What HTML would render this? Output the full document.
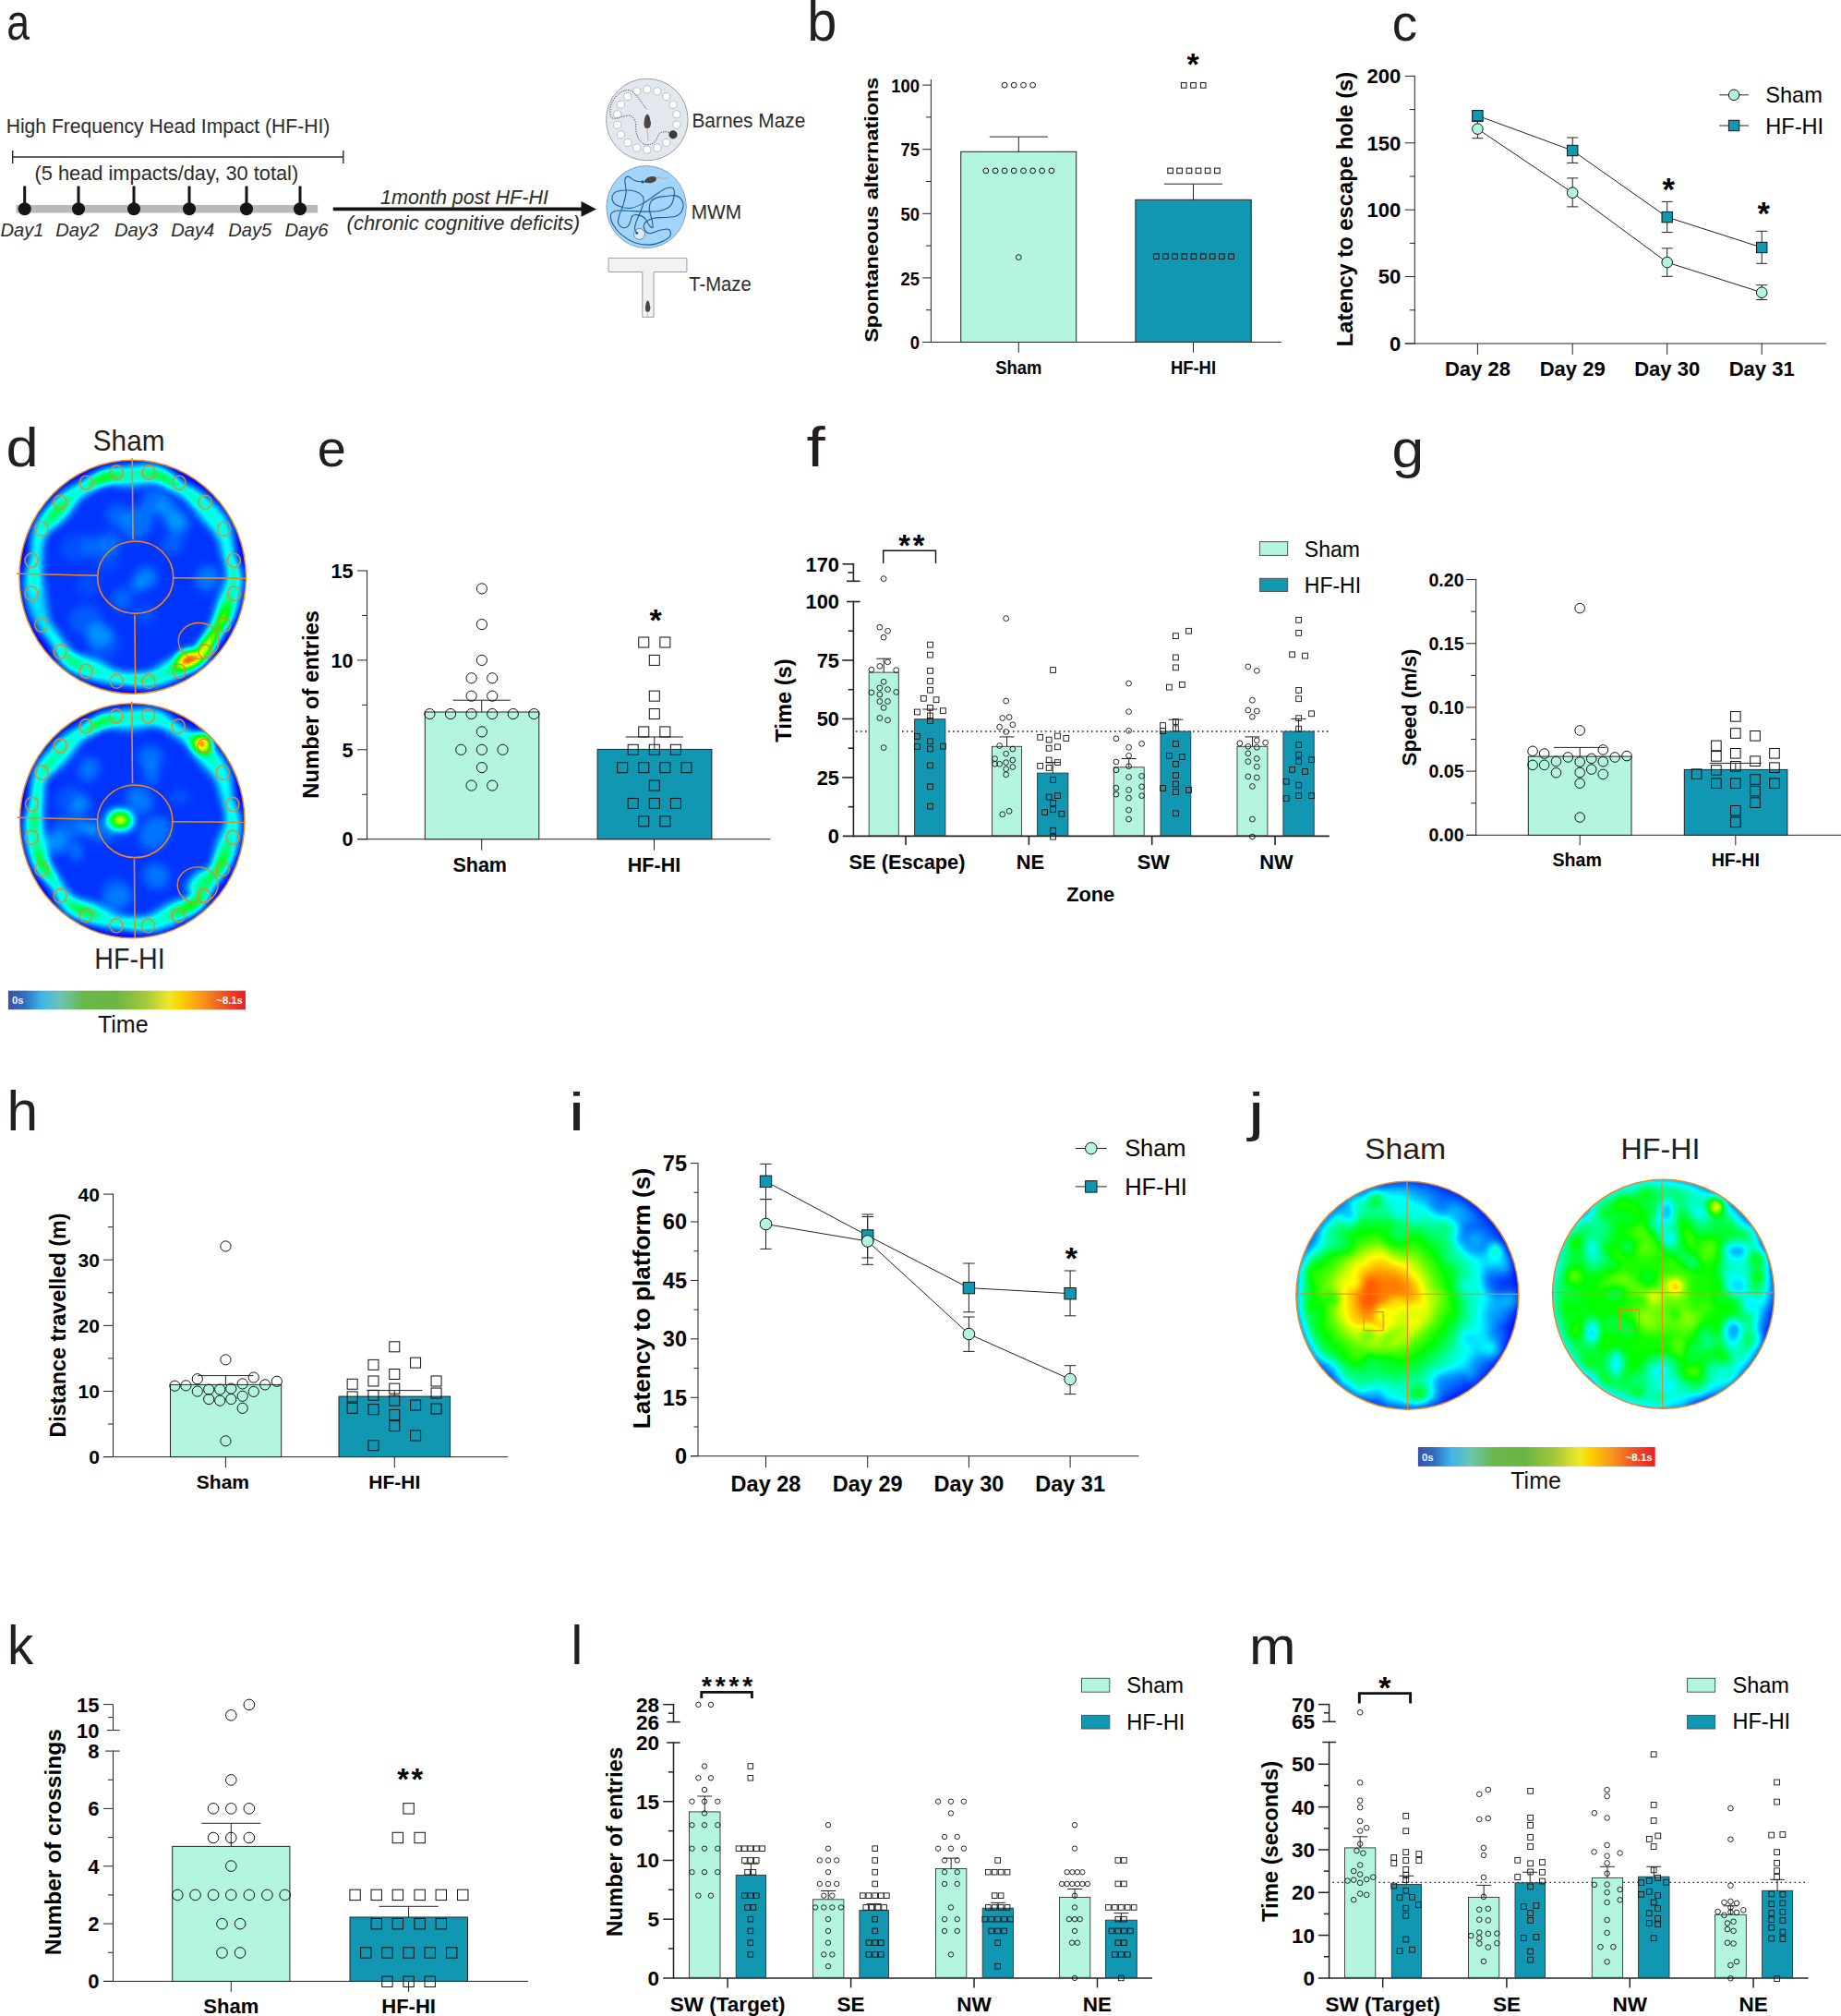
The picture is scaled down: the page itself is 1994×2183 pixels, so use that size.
<!DOCTYPE html>
<html><head><meta charset="utf-8"><title>Figure</title>
<style>html,body{margin:0;padding:0;background:#fff}svg{display:block}text{font-family:"Liberation Sans",sans-serif}</style>
</head><body>
<svg width="1994" height="2183" viewBox="0 0 1994 2183">
<rect width="1994" height="2183" fill="#fff"/>
<defs>
<filter id="jet5" x="-5%" y="-5%" width="110%" height="110%" color-interpolation-filters="sRGB">
<feGaussianBlur stdDeviation="5"/>
<feComponentTransfer><feFuncR type="table" tableValues="0 0 0 1 1"/><feFuncG type="table" tableValues="0 1 1 1 0"/><feFuncB type="table" tableValues="1 1 0 0 0"/></feComponentTransfer>
</filter>
<filter id="jet6" x="-5%" y="-5%" width="110%" height="110%" color-interpolation-filters="sRGB">
<feGaussianBlur stdDeviation="6"/>
<feComponentTransfer><feFuncR type="table" tableValues="0 0 0 1 1"/><feFuncG type="table" tableValues="0 1 1 1 0"/><feFuncB type="table" tableValues="1 1 0 0 0"/></feComponentTransfer>
</filter>
<radialGradient id="radS" gradientUnits="objectBoundingBox"><stop offset="0" stop-color="#fff" stop-opacity="0.88"/><stop offset="0.16" stop-color="#fff" stop-opacity="0.87"/><stop offset="0.23" stop-color="#fff" stop-opacity="0.8"/><stop offset="0.31" stop-color="#fff" stop-opacity="0.72"/><stop offset="0.4" stop-color="#fff" stop-opacity="0.58"/><stop offset="0.52" stop-color="#fff" stop-opacity="0.47"/><stop offset="0.64" stop-color="#fff" stop-opacity="0.33"/><stop offset="0.77" stop-color="#fff" stop-opacity="0.22"/><stop offset="1" stop-color="#fff" stop-opacity="0.05"/></radialGradient>
<radialGradient id="radH"><stop offset="0" stop-color="#fff" stop-opacity="0.55"/><stop offset="0.6" stop-color="#fff" stop-opacity="0.5"/><stop offset="0.85" stop-color="#fff" stop-opacity="0.42"/><stop offset="1" stop-color="#fff" stop-opacity="0.1"/></radialGradient>
<linearGradient id="cbar" x1="0" x2="1" y1="0" y2="0">
<stop offset="0" stop-color="#3a53a4"/><stop offset="0.07" stop-color="#2f6ec2"/><stop offset="0.14" stop-color="#3fb5e8"/><stop offset="0.22" stop-color="#6cc5b0"/><stop offset="0.32" stop-color="#6ab84a"/><stop offset="0.45" stop-color="#6ab545"/><stop offset="0.58" stop-color="#a6c939"/><stop offset="0.68" stop-color="#f0e82a"/><stop offset="0.72" stop-color="#ffd400"/><stop offset="0.82" stop-color="#f7941d"/><stop offset="0.92" stop-color="#ee4a25"/><stop offset="1" stop-color="#ed1c24"/>
</linearGradient>
</defs>
<g id="panel_a">
<text transform="translate(7.21 43.34) scale(0.4466 0.5564)" font-size="100" fill="#231f20">a</text>
<text x="6.7" y="144.4" font-size="22" font-weight="normal" text-anchor="start" fill="#2b2b2b" textLength="350.6" lengthAdjust="spacingAndGlyphs">High Frequency Head Impact (HF-HI)</text>
<line x1="13.7" y1="170" x2="371.8" y2="170" stroke="#2b2b2b" stroke-width="1.4" />
<line x1="13.7" y1="163" x2="13.7" y2="177" stroke="#2b2b2b" stroke-width="1.4" />
<line x1="371.8" y1="163" x2="371.8" y2="177" stroke="#2b2b2b" stroke-width="1.4" />
<text x="37.5" y="194.5" font-size="22" font-weight="normal" text-anchor="start" fill="#2b2b2b" textLength="285.7" lengthAdjust="spacingAndGlyphs">(5 head impacts/day, 30 total)</text>
<rect x="17.5" y="222" width="326.7" height="8.5" fill="#b9b9b9" stroke="none" stroke-width="1"/>
<line x1="26.7" y1="201.5" x2="26.7" y2="226" stroke="#151515" stroke-width="3" />
<circle cx="26.7" cy="226.3" r="7" fill="#151515" stroke="none" stroke-width="1"/>
<line x1="85" y1="201.5" x2="85" y2="226" stroke="#151515" stroke-width="3" />
<circle cx="85" cy="226.3" r="7" fill="#151515" stroke="none" stroke-width="1"/>
<line x1="145" y1="201.5" x2="145" y2="226" stroke="#151515" stroke-width="3" />
<circle cx="145" cy="226.3" r="7" fill="#151515" stroke="none" stroke-width="1"/>
<line x1="205" y1="201.5" x2="205" y2="226" stroke="#151515" stroke-width="3" />
<circle cx="205" cy="226.3" r="7" fill="#151515" stroke="none" stroke-width="1"/>
<line x1="267" y1="201.5" x2="267" y2="226" stroke="#151515" stroke-width="3" />
<circle cx="267" cy="226.3" r="7" fill="#151515" stroke="none" stroke-width="1"/>
<line x1="325" y1="201.5" x2="325" y2="226" stroke="#151515" stroke-width="3" />
<circle cx="325" cy="226.3" r="7" fill="#151515" stroke="none" stroke-width="1"/>
<text x="0.5" y="256.2" font-size="21" font-weight="normal" text-anchor="start" fill="#2b2b2b" font-style="italic" textLength="47" lengthAdjust="spacingAndGlyphs">Day1</text>
<text x="60.2" y="256.2" font-size="21" font-weight="normal" text-anchor="start" fill="#2b2b2b" font-style="italic" textLength="47" lengthAdjust="spacingAndGlyphs">Day2</text>
<text x="124" y="256.2" font-size="21" font-weight="normal" text-anchor="start" fill="#2b2b2b" font-style="italic" textLength="47" lengthAdjust="spacingAndGlyphs">Day3</text>
<text x="185.2" y="256.2" font-size="21" font-weight="normal" text-anchor="start" fill="#2b2b2b" font-style="italic" textLength="47" lengthAdjust="spacingAndGlyphs">Day4</text>
<text x="247.2" y="256.2" font-size="21" font-weight="normal" text-anchor="start" fill="#2b2b2b" font-style="italic" textLength="47" lengthAdjust="spacingAndGlyphs">Day5</text>
<text x="308.5" y="256.2" font-size="21" font-weight="normal" text-anchor="start" fill="#2b2b2b" font-style="italic" textLength="47" lengthAdjust="spacingAndGlyphs">Day6</text>
<line x1="360.7" y1="226.4" x2="632" y2="226.4" stroke="#151515" stroke-width="3.8" />
<polygon points="629.5,218 646,226.4 629.5,234.8" fill="#151515"/>
<text x="412" y="220.6" font-size="22" font-weight="normal" text-anchor="start" fill="#2b2b2b" font-style="italic" textLength="182" lengthAdjust="spacingAndGlyphs">1month post HF-HI</text>
<text x="375.6" y="248.6" font-size="22" font-weight="normal" text-anchor="start" fill="#2b2b2b" font-style="italic" textLength="252.6" lengthAdjust="spacingAndGlyphs">(chronic cognitive deficits)</text>
<text x="749.4" y="138.3" font-size="22" font-weight="normal" text-anchor="start" fill="#2b2b2b" textLength="123" lengthAdjust="spacingAndGlyphs">Barnes Maze</text>
<text x="748.8" y="236.9" font-size="22" font-weight="normal" text-anchor="start" fill="#2b2b2b" textLength="54.2" lengthAdjust="spacingAndGlyphs">MWM</text>
<text x="746.2" y="315" font-size="22" font-weight="normal" text-anchor="start" fill="#2b2b2b" textLength="67.5" lengthAdjust="spacingAndGlyphs">T-Maze</text>
<circle cx="700.8" cy="129.5" r="44.3" fill="#e3e7ee" stroke="#9a9ea6" stroke-width="1"/>
<circle cx="700.8" cy="96.9" r="4.1" fill="#fff" stroke="#b5b9c0" stroke-width="0.9"/>
<circle cx="711.95" cy="98.87" r="4.1" fill="#fff" stroke="#b5b9c0" stroke-width="0.9"/>
<circle cx="721.75" cy="104.53" r="4.1" fill="#fff" stroke="#b5b9c0" stroke-width="0.9"/>
<circle cx="729.03" cy="113.2" r="4.1" fill="#fff" stroke="#b5b9c0" stroke-width="0.9"/>
<circle cx="732.9" cy="123.84" r="4.1" fill="#fff" stroke="#b5b9c0" stroke-width="0.9"/>
<circle cx="732.9" cy="135.16" r="4.1" fill="#fff" stroke="#b5b9c0" stroke-width="0.9"/>
<circle cx="729.03" cy="145.8" r="4.3" fill="#3a3a3a" stroke="#333" stroke-width="0.5"/>
<circle cx="721.75" cy="154.47" r="4.1" fill="#fff" stroke="#b5b9c0" stroke-width="0.9"/>
<circle cx="711.95" cy="160.13" r="4.1" fill="#fff" stroke="#b5b9c0" stroke-width="0.9"/>
<circle cx="700.8" cy="162.1" r="4.1" fill="#fff" stroke="#b5b9c0" stroke-width="0.9"/>
<circle cx="689.65" cy="160.13" r="4.1" fill="#fff" stroke="#b5b9c0" stroke-width="0.9"/>
<circle cx="679.85" cy="154.47" r="4.1" fill="#fff" stroke="#b5b9c0" stroke-width="0.9"/>
<circle cx="672.57" cy="145.8" r="4.1" fill="#fff" stroke="#b5b9c0" stroke-width="0.9"/>
<circle cx="668.7" cy="135.16" r="4.1" fill="#fff" stroke="#b5b9c0" stroke-width="0.9"/>
<circle cx="668.7" cy="123.84" r="4.1" fill="#fff" stroke="#b5b9c0" stroke-width="0.9"/>
<circle cx="672.57" cy="113.2" r="4.1" fill="#fff" stroke="#b5b9c0" stroke-width="0.9"/>
<circle cx="679.85" cy="104.53" r="4.1" fill="#fff" stroke="#b5b9c0" stroke-width="0.9"/>
<circle cx="689.65" cy="98.87" r="4.1" fill="#fff" stroke="#b5b9c0" stroke-width="0.9"/>
<path d="M700.43,118.2 C699.59,117.12 697.19,114.12 695.4,111.73 C693.6,109.33 691.68,106.09 689.64,103.81 C687.6,101.53 685.68,98.9 683.17,98.06 C680.65,97.22 677.41,97.46 674.53,98.78 C671.65,100.1 668.11,103.09 665.9,105.97 C663.69,108.85 662.01,112.69 661.29,116.04 C660.58,119.4 660.7,124.08 661.58,126.12 C662.47,128.15 664.46,128.27 666.62,128.27 C668.78,128.27 671.77,126.59 674.53,126.12 C677.29,125.64 680.89,124.44 683.17,125.4 C685.44,126.35 687.24,129.11 688.2,131.87 C689.16,134.63 688.32,138.82 688.92,141.94 C689.52,145.06 690.36,148.23 691.8,150.58 C693.24,152.93 695.4,155.08 697.55,156.04 C699.71,157 702.59,157 704.75,156.33 C706.91,155.66 708.94,153.93 710.5,152.01 C712.06,150.1 712.54,146.38 714.1,144.82 C715.66,143.26 717.94,142.85 719.86,142.66 C721.77,142.47 724.65,143.5 725.61,143.67" fill="none" stroke="#3d3d3d" stroke-width="0.9" stroke-dasharray="1.3 1.3"/>
<path d="M701.15,123.38 c2.2,1.5 3,4 3,6.5 c1.2,2.5 1.2,5.5 -0.4,8 c-1.5,1.5 -4,1.5 -5.4,0 c-1.2,-3 -1,-6 -0.2,-9 c0.3,-2.5 1.2,-4.5 3,-5.5 z" fill="#4d4542"/>
<path d="M701.15,139.58 c-1.2,4 1.8,7 0.6,13" fill="none" stroke="#c4958c" stroke-width="0.8"/>
<ellipse cx="700.1" cy="224.1" rx="43.2" ry="44.5" fill="#a3d5fb" stroke="#7ea2c4" stroke-width="1"/>
<circle cx="692.52" cy="253.45" r="6" fill="#dbe9f5" stroke="#6a89a8" stroke-width="1"/>
<path d="M696.12,196.91 C694.68,196.67 690.12,196.43 687.48,195.47 C684.84,194.51 682.06,191.2 680.29,191.15 C678.51,191.1 677.19,192.35 676.83,195.18 C676.47,198.01 678.47,203.57 678.13,208.13 C677.79,212.69 676.02,218.44 674.82,222.52 C673.62,226.59 671.82,229.47 670.94,232.59 C670.05,235.71 668.94,238.92 669.5,241.22 C670.05,243.53 672.45,245.8 674.24,246.4 C676.04,247 678.8,246.16 680.29,244.82 C681.77,243.48 682.4,240.14 683.17,238.35 C683.93,236.55 683.81,234.99 684.89,234.03 C685.97,233.07 687.53,232.35 689.64,232.59 C691.75,232.83 695.28,233.55 697.55,235.47 C699.83,237.39 701.75,242.28 703.31,244.1 C704.87,245.92 706.43,247.36 706.91,246.4 C707.39,245.44 706.79,241.61 706.19,238.35 C705.59,235.08 703.5,230.19 703.31,226.83 C703.12,223.48 703.6,220.36 705.04,218.2 C706.47,216.04 709.11,214.84 711.94,213.88 C714.77,212.93 718.66,212.78 722.01,212.45 C725.37,212.11 729.21,210.91 732.09,211.87 C734.96,212.83 738.2,215.47 739.28,218.2 C740.36,220.94 739.76,225.64 738.56,228.27 C737.36,230.91 735.08,232.83 732.09,234.03 C729.09,235.23 724.65,235.11 720.58,235.47 C716.5,235.83 711.18,235.35 707.63,236.19 C704.08,237.03 700.96,238.71 699.28,240.5 C697.6,242.3 696.88,244.94 697.55,246.98 C698.23,249.02 700.43,252.35 703.31,252.73 C706.19,253.12 711.27,250 714.82,249.28 C718.37,248.56 722.78,247.36 724.6,248.42 C726.43,249.47 726.91,253.45 725.76,255.61 C724.6,257.77 721.44,259.78 717.7,261.37 C713.96,262.95 708.35,264.87 703.31,265.11 C698.27,265.35 692.52,264.63 687.48,262.81 C682.45,260.98 677.05,257.53 673.09,254.17 C669.14,250.82 665.66,246.26 663.74,242.66 C661.82,239.06 660.98,234.99 661.58,232.59 C662.18,230.19 664.22,228.99 667.34,228.27 C670.46,227.55 675.25,228.13 680.29,228.27 C685.32,228.42 691.8,229.14 697.55,229.14 C703.31,229.14 710.02,229.38 714.82,228.27 C719.62,227.17 723.79,225.16 726.33,222.52 C728.87,219.88 729.59,215.52 730.07,212.45 C730.55,209.38 730.55,205.54 729.21,204.1 C727.87,202.66 724.89,202.9 722.01,203.81 C719.14,204.72 716.02,206.93 711.94,209.57 C707.87,212.21 702.35,217 697.55,219.64 C692.76,222.28 687.96,224.92 683.17,225.4 C678.37,225.88 672.13,224.2 668.78,222.52 C665.42,220.84 663.38,217.72 663.02,215.32 C662.66,212.93 664.22,209.69 666.62,208.13 C669.02,206.57 673.69,206.09 677.41,205.97 C681.13,205.85 685.8,206.33 688.92,207.41 C692.04,208.49 694.77,210.41 696.12,212.45 C697.46,214.48 697.41,216.76 696.98,219.64 C696.55,222.52 694.82,226.35 693.53,229.71 C692.23,233.07 690.22,236.86 689.21,239.78 C688.2,242.71 687.39,245.16 687.48,247.27 C687.58,249.38 689.4,251.58 689.78,252.45" fill="none" stroke="#1d5d96" stroke-width="1.1"/>
<circle cx="696.12" cy="196.91" r="1.6" fill="#1a4f86" stroke="none" stroke-width="1"/>
<circle cx="689.78" cy="252.45" r="1.4" fill="#1a4f86" stroke="none" stroke-width="1"/>
<ellipse cx="705.04" cy="194.6" rx="6.2" ry="3.4" fill="#4d4542" transform="rotate(-12 705.04 194.6)"/>
<circle cx="699.84" cy="196.2" r="1.8" fill="#4d4542"/>
<path d="M710.54,192.8 c3,-2.5 6,1.2 9,0.6 c2,-0.4 3,-1.2 4.5,-2.2" fill="none" stroke="#c4958c" stroke-width="0.8"/>
<path d="M659.1,279.4 H743.9 V294.5 H708.1 V343.3 H695.8 V294.5 H659.1 Z" fill="#f1f2f4" stroke="#9a9da2" stroke-width="1"/>
<path d="M701.58,325.36 c1.6,1.2 2.2,3.2 2.2,5.2 c0.9,2.2 0.9,4.4 -0.3,6.4 c-1.1,1.2 -2.9,1.2 -3.9,0 c-0.9,-2.4 -0.7,-4.8 -0.1,-7.2 c0.2,-2 0.9,-3.6 2.1,-4.4 z" fill="#4d4542"/>
<path d="M701.58,338.66 c-0.6,2 0.6,3.2 -0.2,5" fill="none" stroke="#c4958c" stroke-width="0.7"/>
</g>
<g id="panel_b">
<text transform="translate(874.14 44.39) scale(0.5778 0.6054)" font-size="100" fill="#231f20">b</text>
<line x1="1008.4" y1="86" x2="1008.4" y2="371" stroke="#222" stroke-width="1" />
<line x1="999.2" y1="370.5" x2="1008.4" y2="370.5" stroke="#222" stroke-width="1" />
<text transform="translate(995.9 378.1) scale(0.875 1)" font-size="21" font-weight="bold" text-anchor="end" fill="#000">0</text>
<line x1="999.2" y1="300.9" x2="1008.4" y2="300.9" stroke="#222" stroke-width="1" />
<text transform="translate(995.9 308.5) scale(0.875 1)" font-size="21" font-weight="bold" text-anchor="end" fill="#000">25</text>
<line x1="999.2" y1="231.3" x2="1008.4" y2="231.3" stroke="#222" stroke-width="1" />
<text transform="translate(995.9 238.9) scale(0.875 1)" font-size="21" font-weight="bold" text-anchor="end" fill="#000">50</text>
<line x1="999.2" y1="161.7" x2="1008.4" y2="161.7" stroke="#222" stroke-width="1" />
<text transform="translate(995.9 169.3) scale(0.875 1)" font-size="21" font-weight="bold" text-anchor="end" fill="#000">75</text>
<line x1="999.2" y1="92.1" x2="1008.4" y2="92.1" stroke="#222" stroke-width="1" />
<text transform="translate(995.9 99.7) scale(0.875 1)" font-size="21" font-weight="bold" text-anchor="end" fill="#000">100</text>
<line x1="1003" y1="335.7" x2="1008.4" y2="335.7" stroke="#222" stroke-width="1" />
<line x1="1003" y1="266.1" x2="1008.4" y2="266.1" stroke="#222" stroke-width="1" />
<line x1="1003" y1="196.5" x2="1008.4" y2="196.5" stroke="#222" stroke-width="1" />
<line x1="1003" y1="126.9" x2="1008.4" y2="126.9" stroke="#222" stroke-width="1" />
<line x1="999.2" y1="370.5" x2="1387.8" y2="370.5" stroke="#222" stroke-width="1" />
<rect x="1040.7" y="164.3" width="125" height="206.2" fill="#b3f5e0" stroke="#222" stroke-width="1"/>
<rect x="1229.9" y="216.3" width="125.3" height="154.2" fill="#1197b2" stroke="#222" stroke-width="1"/>
<line x1="1103.3" y1="148.1" x2="1103.3" y2="164.3" stroke="#222" stroke-width="1" />
<line x1="1071.8" y1="148.1" x2="1134.8" y2="148.1" stroke="#222" stroke-width="1" />
<line x1="1292.5" y1="199.2" x2="1292.5" y2="216.3" stroke="#222" stroke-width="1" />
<line x1="1261" y1="199.2" x2="1324" y2="199.2" stroke="#222" stroke-width="1" />
<line x1="1103.3" y1="370.5" x2="1103.3" y2="381.8" stroke="#222" stroke-width="1" />
<text transform="translate(1103.3 404.6) scale(0.875 1)" font-size="21" font-weight="bold" text-anchor="middle" fill="#000">Sham</text>
<line x1="1292.5" y1="370.5" x2="1292.5" y2="381.8" stroke="#222" stroke-width="1" />
<text transform="translate(1292.5 404.6) scale(0.875 1)" font-size="21" font-weight="bold" text-anchor="middle" fill="#000">HF-HI</text>
<text transform="translate(951 227.2) scale(0.875 1) rotate(-90)" font-size="23.4" font-weight="bold" text-anchor="middle" fill="#000">Spontaneous alternations</text>
<text x="1292" y="80.5" font-size="34" font-weight="bold" text-anchor="middle" fill="#000" >*</text>
<circle cx="1088.1" cy="92.2" r="2.9" fill="none" stroke="#111" stroke-width="1"/>
<circle cx="1098.2" cy="92.2" r="2.9" fill="none" stroke="#111" stroke-width="1"/>
<circle cx="1108.5" cy="92.2" r="2.9" fill="none" stroke="#111" stroke-width="1"/>
<circle cx="1118.6" cy="92.2" r="2.9" fill="none" stroke="#111" stroke-width="1"/>
<circle cx="1067.8" cy="184.9" r="2.9" fill="none" stroke="#111" stroke-width="1"/>
<circle cx="1078.1" cy="184.9" r="2.9" fill="none" stroke="#111" stroke-width="1"/>
<circle cx="1088.1" cy="184.9" r="2.9" fill="none" stroke="#111" stroke-width="1"/>
<circle cx="1098.2" cy="184.9" r="2.9" fill="none" stroke="#111" stroke-width="1"/>
<circle cx="1108.5" cy="184.9" r="2.9" fill="none" stroke="#111" stroke-width="1"/>
<circle cx="1118.6" cy="184.9" r="2.9" fill="none" stroke="#111" stroke-width="1"/>
<circle cx="1128.6" cy="184.9" r="2.9" fill="none" stroke="#111" stroke-width="1"/>
<circle cx="1138.9" cy="184.9" r="2.9" fill="none" stroke="#111" stroke-width="1"/>
<circle cx="1103.3" cy="278.6" r="2.9" fill="none" stroke="#111" stroke-width="1"/>
<rect x="1279.4" y="89.6" width="5.6" height="5.6" fill="none" stroke="#111" stroke-width="1"/>
<rect x="1289.7" y="89.6" width="5.6" height="5.6" fill="none" stroke="#111" stroke-width="1"/>
<rect x="1300.4" y="89.6" width="5.6" height="5.6" fill="none" stroke="#111" stroke-width="1"/>
<rect x="1264.8" y="182.1" width="5.6" height="5.6" fill="none" stroke="#111" stroke-width="1"/>
<rect x="1274.8" y="182.1" width="5.6" height="5.6" fill="none" stroke="#111" stroke-width="1"/>
<rect x="1285.2" y="182.1" width="5.6" height="5.6" fill="none" stroke="#111" stroke-width="1"/>
<rect x="1295.2" y="182.1" width="5.6" height="5.6" fill="none" stroke="#111" stroke-width="1"/>
<rect x="1305.3" y="182.1" width="5.6" height="5.6" fill="none" stroke="#111" stroke-width="1"/>
<rect x="1315.6" y="182.1" width="5.6" height="5.6" fill="none" stroke="#111" stroke-width="1"/>
<rect x="1249.6" y="274.9" width="5.6" height="5.6" fill="none" stroke="#111" stroke-width="1"/>
<rect x="1259.6" y="274.9" width="5.6" height="5.6" fill="none" stroke="#111" stroke-width="1"/>
<rect x="1269.7" y="274.9" width="5.6" height="5.6" fill="none" stroke="#111" stroke-width="1"/>
<rect x="1280" y="274.9" width="5.6" height="5.6" fill="none" stroke="#111" stroke-width="1"/>
<rect x="1290.1" y="274.9" width="5.6" height="5.6" fill="none" stroke="#111" stroke-width="1"/>
<rect x="1300.4" y="274.9" width="5.6" height="5.6" fill="none" stroke="#111" stroke-width="1"/>
<rect x="1310.4" y="274.9" width="5.6" height="5.6" fill="none" stroke="#111" stroke-width="1"/>
<rect x="1320.5" y="274.9" width="5.6" height="5.6" fill="none" stroke="#111" stroke-width="1"/>
<rect x="1330.8" y="274.9" width="5.6" height="5.6" fill="none" stroke="#111" stroke-width="1"/>
</g>
<g id="panel_c">
<text transform="translate(1507.81 44.24) scale(0.5471 0.5600)" font-size="100" fill="#231f20">c</text>
<line x1="1532.3" y1="81.9" x2="1532.3" y2="372.5" stroke="#222" stroke-width="1" />
<line x1="1521.7" y1="372" x2="1532.3" y2="372" stroke="#222" stroke-width="1" />
<line x1="1521.7" y1="299.6" x2="1532.3" y2="299.6" stroke="#222" stroke-width="1" />
<line x1="1521.7" y1="227.2" x2="1532.3" y2="227.2" stroke="#222" stroke-width="1" />
<line x1="1521.7" y1="154.8" x2="1532.3" y2="154.8" stroke="#222" stroke-width="1" />
<line x1="1521.7" y1="82.4" x2="1532.3" y2="82.4" stroke="#222" stroke-width="1" />
<line x1="1526.8" y1="335.8" x2="1532.3" y2="335.8" stroke="#222" stroke-width="1" />
<line x1="1526.8" y1="263.4" x2="1532.3" y2="263.4" stroke="#222" stroke-width="1" />
<line x1="1526.8" y1="191" x2="1532.3" y2="191" stroke="#222" stroke-width="1" />
<line x1="1526.8" y1="118.6" x2="1532.3" y2="118.6" stroke="#222" stroke-width="1" />
<text x="1517.2" y="379.88" font-size="22" font-weight="bold" text-anchor="end" fill="#000" >0</text>
<text x="1517.2" y="307.48" font-size="22" font-weight="bold" text-anchor="end" fill="#000" >50</text>
<text x="1517.2" y="235.08" font-size="22" font-weight="bold" text-anchor="end" fill="#000" >100</text>
<text x="1517.2" y="162.68" font-size="22" font-weight="bold" text-anchor="end" fill="#000" >150</text>
<text x="1517.2" y="90.28" font-size="22" font-weight="bold" text-anchor="end" fill="#000" >200</text>
<line x1="1521.7" y1="372" x2="1977.9" y2="372" stroke="#222" stroke-width="1" />
<line x1="1600.4" y1="372" x2="1600.4" y2="384" stroke="#222" stroke-width="1" />
<text x="1600.4" y="406.5" font-size="22" font-weight="bold" text-anchor="middle" fill="#000" >Day 28</text>
<line x1="1703.2" y1="372" x2="1703.2" y2="384" stroke="#222" stroke-width="1" />
<text x="1703.2" y="406.5" font-size="22" font-weight="bold" text-anchor="middle" fill="#000" >Day 29</text>
<line x1="1805.7" y1="372" x2="1805.7" y2="384" stroke="#222" stroke-width="1" />
<text x="1805.7" y="406.5" font-size="22" font-weight="bold" text-anchor="middle" fill="#000" >Day 30</text>
<line x1="1908.2" y1="372" x2="1908.2" y2="384" stroke="#222" stroke-width="1" />
<text x="1908.2" y="406.5" font-size="22" font-weight="bold" text-anchor="middle" fill="#000" >Day 31</text>
<text x="1464.5" y="226.5" font-size="23.8" font-weight="bold" text-anchor="middle" fill="#000" transform="rotate(-90 1464.5 226.5)" >Latency to escape hole (s)</text>
<polyline points="1600.4,139.6 1703.2,208.7 1805.7,284.1 1908.2,316.7" fill="none" stroke="#222" stroke-width="1"/>
<polyline points="1600.4,125.3 1703.2,163 1805.7,235.1 1908.2,268" fill="none" stroke="#222" stroke-width="1"/>
<line x1="1600.4" y1="130.8" x2="1600.4" y2="149.7" stroke="#222" stroke-width="1" />
<line x1="1594.4" y1="130.8" x2="1606.4" y2="130.8" stroke="#222" stroke-width="1" />
<line x1="1594.4" y1="149.7" x2="1606.4" y2="149.7" stroke="#222" stroke-width="1" />
<line x1="1703.2" y1="192.9" x2="1703.2" y2="223.9" stroke="#222" stroke-width="1" />
<line x1="1697.2" y1="192.9" x2="1709.2" y2="192.9" stroke="#222" stroke-width="1" />
<line x1="1697.2" y1="223.9" x2="1709.2" y2="223.9" stroke="#222" stroke-width="1" />
<line x1="1805.7" y1="268.9" x2="1805.7" y2="299.3" stroke="#222" stroke-width="1" />
<line x1="1799.7" y1="268.9" x2="1811.7" y2="268.9" stroke="#222" stroke-width="1" />
<line x1="1799.7" y1="299.3" x2="1811.7" y2="299.3" stroke="#222" stroke-width="1" />
<line x1="1908.2" y1="308.7" x2="1908.2" y2="324.6" stroke="#222" stroke-width="1" />
<line x1="1902.2" y1="308.7" x2="1914.2" y2="308.7" stroke="#222" stroke-width="1" />
<line x1="1902.2" y1="324.6" x2="1914.2" y2="324.6" stroke="#222" stroke-width="1" />
<line x1="1600.4" y1="120.2" x2="1600.4" y2="131.4" stroke="#222" stroke-width="1" />
<line x1="1594.4" y1="120.2" x2="1606.4" y2="120.2" stroke="#222" stroke-width="1" />
<line x1="1594.4" y1="131.4" x2="1606.4" y2="131.4" stroke="#222" stroke-width="1" />
<line x1="1703.2" y1="149" x2="1703.2" y2="176.4" stroke="#222" stroke-width="1" />
<line x1="1697.2" y1="149" x2="1709.2" y2="149" stroke="#222" stroke-width="1" />
<line x1="1697.2" y1="176.4" x2="1709.2" y2="176.4" stroke="#222" stroke-width="1" />
<line x1="1805.7" y1="218.4" x2="1805.7" y2="251.6" stroke="#222" stroke-width="1" />
<line x1="1799.7" y1="218.4" x2="1811.7" y2="218.4" stroke="#222" stroke-width="1" />
<line x1="1799.7" y1="251.6" x2="1811.7" y2="251.6" stroke="#222" stroke-width="1" />
<line x1="1908.2" y1="250.3" x2="1908.2" y2="285.3" stroke="#222" stroke-width="1" />
<line x1="1902.2" y1="250.3" x2="1914.2" y2="250.3" stroke="#222" stroke-width="1" />
<line x1="1902.2" y1="285.3" x2="1914.2" y2="285.3" stroke="#222" stroke-width="1" />
<circle cx="1600.4" cy="139.6" r="5.8" fill="#b3f5e0" stroke="#111" stroke-width="1"/>
<circle cx="1703.2" cy="208.7" r="5.8" fill="#b3f5e0" stroke="#111" stroke-width="1"/>
<circle cx="1805.7" cy="284.1" r="5.8" fill="#b3f5e0" stroke="#111" stroke-width="1"/>
<circle cx="1908.2" cy="316.7" r="5.8" fill="#b3f5e0" stroke="#111" stroke-width="1"/>
<rect x="1594.7" y="119.6" width="11.4" height="11.4" fill="#1197b2" stroke="#111" stroke-width="1"/>
<rect x="1697.5" y="157.3" width="11.4" height="11.4" fill="#1197b2" stroke="#111" stroke-width="1"/>
<rect x="1800" y="229.4" width="11.4" height="11.4" fill="#1197b2" stroke="#111" stroke-width="1"/>
<rect x="1902.5" y="262.3" width="11.4" height="11.4" fill="#1197b2" stroke="#111" stroke-width="1"/>
<line x1="1862.3" y1="102.8" x2="1893.9" y2="102.8" stroke="#222" stroke-width="1" />
<circle cx="1878.1" cy="102.8" r="5.8" fill="#b3f5e0" stroke="#111" stroke-width="1"/>
<line x1="1862.3" y1="136" x2="1893.9" y2="136" stroke="#222" stroke-width="1" />
<rect x="1872.4" y="130.3" width="11.4" height="11.4" fill="#1197b2" stroke="#111" stroke-width="1"/>
<text x="1912.2" y="111.3" font-size="23.6" font-weight="normal" text-anchor="start" fill="#000" >Sham</text>
<text x="1912.2" y="144.5" font-size="23.6" font-weight="normal" text-anchor="start" fill="#000" >HF-HI</text>
<text x="1807.2" y="217" font-size="34.5" font-weight="bold" text-anchor="middle" fill="#000" >*</text>
<text x="1910.3" y="242.5" font-size="34.5" font-weight="bold" text-anchor="middle" fill="#000" >*</text>
</g>
<g id="panel_d">
<text transform="translate(6.58 505.4) scale(0.6311 0.5986)" font-size="100" fill="#231f20">d</text>
<text x="100.8" y="487.7" font-size="32" font-weight="normal" text-anchor="start" fill="#231f20" textLength="77.6" lengthAdjust="spacingAndGlyphs">Sham</text>
<text x="102.2" y="1048.5" font-size="32" font-weight="normal" text-anchor="start" fill="#231f20" textLength="76.4" lengthAdjust="spacingAndGlyphs">HF-HI</text>
<text x="133.3" y="1118" font-size="25" font-weight="normal" text-anchor="middle" fill="#111" >Time</text>
<clipPath id="clipd1"><ellipse cx="143.7" cy="624.7" rx="122.7" ry="126.5"/></clipPath>
<g clip-path="url(#clipd1)"><g filter="url(#jet5)">
<rect x="-9" y="468.2" width="305.4" height="313" fill="#000"/>
<ellipse cx="143.7" cy="624.7" rx="98.16" ry="101.2" fill="#fff" fill-opacity="0.05"/>
<ellipse cx="95.47" cy="633.09" rx="12.33" ry="12.61" fill="#fff" fill-opacity="0.029" transform="rotate(113 95.47 633.09)"/>
<ellipse cx="205.81" cy="579.04" rx="11.11" ry="14.41" fill="#000" fill-opacity="0.0" transform="rotate(85 205.81 579.04)"/>
<ellipse cx="169.3" cy="558.4" rx="14.71" ry="17.77" fill="#000" fill-opacity="0.0" transform="rotate(94 169.3 558.4)"/>
<ellipse cx="160.47" cy="586.99" rx="9.28" ry="11.19" fill="#000" fill-opacity="0.0" transform="rotate(85 160.47 586.99)"/>
<ellipse cx="183.11" cy="704.6" rx="12.55" ry="14.57" fill="#000" fill-opacity="0.0" transform="rotate(80 183.11 704.6)"/>
<ellipse cx="131.95" cy="648.73" rx="11.71" ry="11.18" fill="#fff" fill-opacity="0.053" transform="rotate(69 131.95 648.73)"/>
<ellipse cx="159.21" cy="701.4" rx="15.14" ry="18.93" fill="#000" fill-opacity="0.0" transform="rotate(154 159.21 701.4)"/>
<ellipse cx="156.42" cy="665.27" rx="10.9" ry="12.89" fill="#fff" fill-opacity="0.031" transform="rotate(103 156.42 665.27)"/>
<ellipse cx="127.22" cy="558.43" rx="11.65" ry="13.25" fill="#fff" fill-opacity="0.054" transform="rotate(157 127.22 558.43)"/>
<ellipse cx="112.59" cy="696.98" rx="17.83" ry="17" fill="#fff" fill-opacity="0.031" transform="rotate(180 112.59 696.98)"/>
<ellipse cx="88" cy="607.23" rx="14.49" ry="10.28" fill="#000" fill-opacity="0.0" transform="rotate(8 88 607.23)"/>
<ellipse cx="121.21" cy="617.19" rx="13.68" ry="14.37" fill="#000" fill-opacity="0.0" transform="rotate(107 121.21 617.19)"/>
<ellipse cx="224.8" cy="626.03" rx="12.88" ry="14.22" fill="#fff" fill-opacity="0.069" transform="rotate(43 224.8 626.03)"/>
<ellipse cx="147.59" cy="633.89" rx="9.1" ry="8.11" fill="#fff" fill-opacity="0.054" transform="rotate(104 147.59 633.89)"/>
<ellipse cx="168.03" cy="541.23" rx="14.65" ry="13.57" fill="#fff" fill-opacity="0.058" transform="rotate(122 168.03 541.23)"/>
<ellipse cx="62.82" cy="658.1" rx="17.67" ry="13.71" fill="#000" fill-opacity="0.0" transform="rotate(82 62.82 658.1)"/>
<ellipse cx="118.66" cy="589.15" rx="12.32" ry="12.53" fill="#fff" fill-opacity="0.06" transform="rotate(54 118.66 589.15)"/>
<ellipse cx="186.98" cy="588.65" rx="11" ry="12.79" fill="#fff" fill-opacity="0.046" transform="rotate(43 186.98 588.65)"/>
<ellipse cx="180.15" cy="549.15" rx="11.9" ry="9.92" fill="#fff" fill-opacity="0.064" transform="rotate(150 180.15 549.15)"/>
<ellipse cx="82.83" cy="593.72" rx="14.85" ry="18.11" fill="#fff" fill-opacity="0.033" transform="rotate(81 82.83 593.72)"/>
<ellipse cx="149.15" cy="566.03" rx="16.26" ry="19.3" fill="#fff" fill-opacity="0.062" transform="rotate(33 149.15 566.03)"/>
<ellipse cx="169.82" cy="682.81" rx="12.11" ry="8.36" fill="#000" fill-opacity="0.0" transform="rotate(53 169.82 682.81)"/>
<ellipse cx="115.42" cy="608.93" rx="12.78" ry="11.33" fill="#fff" fill-opacity="0.028" transform="rotate(166 115.42 608.93)"/>
<ellipse cx="92.55" cy="671.29" rx="16.53" ry="17.59" fill="#fff" fill-opacity="0.042" transform="rotate(93 92.55 671.29)"/>
<ellipse cx="160.02" cy="584.29" rx="16.29" ry="10.29" fill="#000" fill-opacity="0.0" transform="rotate(163 160.02 584.29)"/>
<ellipse cx="188.85" cy="562.43" rx="11.7" ry="12.45" fill="#fff" fill-opacity="0.067" transform="rotate(94 188.85 562.43)"/>
<line x1="143.14" y1="514.96" x2="151.79" y2="513.81" stroke="#fff" stroke-opacity="0.25" stroke-width="21.25"/>
<line x1="143.14" y1="514.96" x2="151.79" y2="513.81" stroke="#fff" stroke-opacity="0.066" stroke-width="9"/>
<line x1="150.66" y1="513.72" x2="159.57" y2="512.58" stroke="#fff" stroke-opacity="0.25" stroke-width="20.69"/>
<line x1="150.66" y1="513.72" x2="159.57" y2="512.58" stroke="#fff" stroke-opacity="0.144" stroke-width="9"/>
<line x1="158.43" y1="512.41" x2="167.39" y2="512.67" stroke="#fff" stroke-opacity="0.25" stroke-width="19.27"/>
<line x1="158.43" y1="512.41" x2="167.39" y2="512.67" stroke="#fff" stroke-opacity="0.203" stroke-width="9"/>
<line x1="166.25" y1="512.42" x2="174.84" y2="514.91" stroke="#fff" stroke-opacity="0.25" stroke-width="17.31"/>
<line x1="166.25" y1="512.42" x2="174.84" y2="514.91" stroke="#fff" stroke-opacity="0.291" stroke-width="9"/>
<line x1="173.72" y1="514.58" x2="181.65" y2="518.92" stroke="#fff" stroke-opacity="0.25" stroke-width="15.29"/>
<line x1="173.72" y1="514.58" x2="181.65" y2="518.92" stroke="#fff" stroke-opacity="0.312" stroke-width="9"/>
<line x1="180.58" y1="518.51" x2="188" y2="523.55" stroke="#fff" stroke-opacity="0.25" stroke-width="13.66"/>
<line x1="180.58" y1="518.51" x2="188" y2="523.55" stroke="#fff" stroke-opacity="0.298" stroke-width="9"/>
<line x1="186.97" y1="523.07" x2="194.3" y2="527.81" stroke="#fff" stroke-opacity="0.25" stroke-width="12.82"/>
<line x1="186.97" y1="523.07" x2="194.3" y2="527.81" stroke="#fff" stroke-opacity="0.186" stroke-width="9"/>
<line x1="193.32" y1="527.27" x2="200.8" y2="531.58" stroke="#fff" stroke-opacity="0.25" stroke-width="12.95"/>
<line x1="193.32" y1="527.27" x2="200.8" y2="531.58" stroke="#fff" stroke-opacity="0.062" stroke-width="9"/>
<line x1="199.85" y1="530.97" x2="207.27" y2="535.49" stroke="#fff" stroke-opacity="0.25" stroke-width="14.04"/>
<line x1="199.85" y1="530.97" x2="207.27" y2="535.49" stroke="#fff" stroke-opacity="0.062" stroke-width="9"/>
<line x1="206.36" y1="534.8" x2="213.26" y2="540.14" stroke="#fff" stroke-opacity="0.25" stroke-width="15.81"/>
<line x1="206.36" y1="534.8" x2="213.26" y2="540.14" stroke="#fff" stroke-opacity="0.115" stroke-width="9"/>
<line x1="212.4" y1="539.39" x2="218.6" y2="545.57" stroke="#fff" stroke-opacity="0.25" stroke-width="17.87"/>
<line x1="212.4" y1="539.39" x2="218.6" y2="545.57" stroke="#fff" stroke-opacity="0.107" stroke-width="9"/>
<line x1="217.79" y1="544.77" x2="223.61" y2="551.3" stroke="#fff" stroke-opacity="0.25" stroke-width="19.72"/>
<line x1="217.79" y1="544.77" x2="223.61" y2="551.3" stroke="#fff" stroke-opacity="0.034" stroke-width="9"/>
<line x1="222.86" y1="550.44" x2="228.78" y2="556.91" stroke="#fff" stroke-opacity="0.25" stroke-width="20.93"/>
<line x1="222.86" y1="550.44" x2="228.78" y2="556.91" stroke="#fff" stroke-opacity="0.019" stroke-width="9"/>
<line x1="228.08" y1="555.99" x2="234.17" y2="562.5" stroke="#fff" stroke-opacity="0.25" stroke-width="21.23"/>
<line x1="228.08" y1="555.99" x2="234.17" y2="562.5" stroke="#fff" stroke-opacity="0.003" stroke-width="9"/>
<line x1="233.53" y1="561.52" x2="239.15" y2="568.57" stroke="#fff" stroke-opacity="0.25" stroke-width="20.53"/>
<line x1="238.57" y1="567.55" x2="242.82" y2="575.52" stroke="#fff" stroke-opacity="0.25" stroke-width="19.01"/>
<line x1="242.31" y1="574.45" x2="244.84" y2="583.21" stroke="#fff" stroke-opacity="0.25" stroke-width="17.02"/>
<line x1="244.41" y1="582.12" x2="245.84" y2="591.09" stroke="#fff" stroke-opacity="0.25" stroke-width="15.02"/>
<line x1="245.5" y1="589.99" x2="247.03" y2="598.73" stroke="#fff" stroke-opacity="0.25" stroke-width="13.49"/>
<line x1="245.5" y1="589.99" x2="247.03" y2="598.73" stroke="#fff" stroke-opacity="0.018" stroke-width="9"/>
<line x1="246.76" y1="597.62" x2="249.15" y2="606.12" stroke="#fff" stroke-opacity="0.25" stroke-width="12.78"/>
<line x1="246.76" y1="597.62" x2="249.15" y2="606.12" stroke="#fff" stroke-opacity="0.049" stroke-width="9"/>
<line x1="248.96" y1="604.98" x2="251.87" y2="613.57" stroke="#fff" stroke-opacity="0.25" stroke-width="13.05"/>
<line x1="248.96" y1="604.98" x2="251.87" y2="613.57" stroke="#fff" stroke-opacity="0.077" stroke-width="9"/>
<line x1="251.75" y1="612.4" x2="253.97" y2="621.33" stroke="#fff" stroke-opacity="0.25" stroke-width="14.26"/>
<line x1="251.75" y1="612.4" x2="253.97" y2="621.33" stroke="#fff" stroke-opacity="0.104" stroke-width="9"/>
<line x1="253.93" y1="620.14" x2="254.33" y2="629.28" stroke="#fff" stroke-opacity="0.25" stroke-width="16.1"/>
<line x1="253.93" y1="620.14" x2="254.33" y2="629.28" stroke="#fff" stroke-opacity="0.123" stroke-width="9"/>
<line x1="254.37" y1="628.09" x2="252.78" y2="637.12" stroke="#fff" stroke-opacity="0.25" stroke-width="18.16"/>
<line x1="254.37" y1="628.09" x2="252.78" y2="637.12" stroke="#fff" stroke-opacity="0.072" stroke-width="9"/>
<line x1="252.9" y1="635.94" x2="250.17" y2="644.65" stroke="#fff" stroke-opacity="0.25" stroke-width="19.94"/>
<line x1="252.9" y1="635.94" x2="250.17" y2="644.65" stroke="#fff" stroke-opacity="0.05" stroke-width="9"/>
<line x1="250.37" y1="643.5" x2="247.55" y2="651.99" stroke="#fff" stroke-opacity="0.25" stroke-width="21.04"/>
<line x1="250.37" y1="643.5" x2="247.55" y2="651.99" stroke="#fff" stroke-opacity="0.139" stroke-width="9"/>
<line x1="247.82" y1="650.87" x2="245.29" y2="659.34" stroke="#fff" stroke-opacity="0.25" stroke-width="21.19"/>
<line x1="247.82" y1="650.87" x2="245.29" y2="659.34" stroke="#fff" stroke-opacity="0.312" stroke-width="9"/>
<line x1="245.63" y1="658.24" x2="242.97" y2="666.67" stroke="#fff" stroke-opacity="0.25" stroke-width="20.36"/>
<line x1="245.63" y1="658.24" x2="242.97" y2="666.67" stroke="#fff" stroke-opacity="0.505" stroke-width="9"/>
<line x1="243.39" y1="665.6" x2="239.94" y2="673.74" stroke="#fff" stroke-opacity="0.25" stroke-width="18.74"/>
<line x1="243.39" y1="665.6" x2="239.94" y2="673.74" stroke="#fff" stroke-opacity="0.606" stroke-width="9"/>
<line x1="240.43" y1="672.69" x2="236.03" y2="680.32" stroke="#fff" stroke-opacity="0.25" stroke-width="16.72"/>
<line x1="240.43" y1="672.69" x2="236.03" y2="680.32" stroke="#fff" stroke-opacity="0.551" stroke-width="9"/>
<line x1="236.59" y1="679.32" x2="231.74" y2="686.62" stroke="#fff" stroke-opacity="0.25" stroke-width="14.76"/>
<line x1="236.59" y1="679.32" x2="231.74" y2="686.62" stroke="#fff" stroke-opacity="0.367" stroke-width="9"/>
<line x1="232.36" y1="685.66" x2="227.67" y2="693.07" stroke="#fff" stroke-opacity="0.25" stroke-width="13.33"/>
<line x1="232.36" y1="685.66" x2="227.67" y2="693.07" stroke="#fff" stroke-opacity="0.775" stroke-width="9"/>
<line x1="228.36" y1="692.16" x2="223.88" y2="699.92" stroke="#fff" stroke-opacity="0.25" stroke-width="12.75"/>
<line x1="228.36" y1="692.16" x2="223.88" y2="699.92" stroke="#fff" stroke-opacity="0.826" stroke-width="9"/>
<line x1="224.64" y1="699.05" x2="219.75" y2="706.74" stroke="#fff" stroke-opacity="0.25" stroke-width="13.17"/>
<line x1="224.64" y1="699.05" x2="219.75" y2="706.74" stroke="#fff" stroke-opacity="0.871" stroke-width="9"/>
<line x1="220.58" y1="705.92" x2="214.51" y2="712.64" stroke="#fff" stroke-opacity="0.25" stroke-width="14.49"/>
<line x1="220.58" y1="705.92" x2="214.51" y2="712.64" stroke="#fff" stroke-opacity="0.931" stroke-width="9"/>
<line x1="215.4" y1="711.87" x2="207.97" y2="716.91" stroke="#fff" stroke-opacity="0.25" stroke-width="16.39"/>
<line x1="215.4" y1="711.87" x2="207.97" y2="716.91" stroke="#fff" stroke-opacity="0.964" stroke-width="9"/>
<line x1="208.91" y1="716.21" x2="200.64" y2="719.76" stroke="#fff" stroke-opacity="0.25" stroke-width="18.44"/>
<line x1="208.91" y1="716.21" x2="200.64" y2="719.76" stroke="#fff" stroke-opacity="0.899" stroke-width="9"/>
<line x1="201.61" y1="719.14" x2="193.34" y2="722.18" stroke="#fff" stroke-opacity="0.25" stroke-width="20.15"/>
<line x1="201.61" y1="719.14" x2="193.34" y2="722.18" stroke="#fff" stroke-opacity="0.756" stroke-width="9"/>
<line x1="194.33" y1="721.64" x2="186.51" y2="725.23" stroke="#fff" stroke-opacity="0.25" stroke-width="21.12"/>
<line x1="194.33" y1="721.64" x2="186.51" y2="725.23" stroke="#fff" stroke-opacity="0.338" stroke-width="9"/>
<line x1="187.52" y1="724.77" x2="179.97" y2="729.12" stroke="#fff" stroke-opacity="0.25" stroke-width="21.13"/>
<line x1="187.52" y1="724.77" x2="179.97" y2="729.12" stroke="#fff" stroke-opacity="0.117" stroke-width="9"/>
<line x1="181.02" y1="728.72" x2="173.23" y2="733" stroke="#fff" stroke-opacity="0.25" stroke-width="20.17"/>
<line x1="181.02" y1="728.72" x2="173.23" y2="733" stroke="#fff" stroke-opacity="0.038" stroke-width="9"/>
<line x1="174.33" y1="732.68" x2="165.99" y2="735.69" stroke="#fff" stroke-opacity="0.25" stroke-width="18.47"/>
<line x1="174.33" y1="732.68" x2="165.99" y2="735.69" stroke="#fff" stroke-opacity="0.067" stroke-width="9"/>
<line x1="167.12" y1="735.44" x2="158.38" y2="736.63" stroke="#fff" stroke-opacity="0.25" stroke-width="16.42"/>
<line x1="167.12" y1="735.44" x2="158.38" y2="736.63" stroke="#fff" stroke-opacity="0.145" stroke-width="9"/>
<line x1="159.51" y1="736.46" x2="150.7" y2="736.28" stroke="#fff" stroke-opacity="0.25" stroke-width="14.52"/>
<line x1="159.51" y1="736.46" x2="150.7" y2="736.28" stroke="#fff" stroke-opacity="0.177" stroke-width="9"/>
<line x1="151.83" y1="736.2" x2="143.14" y2="735.58" stroke="#fff" stroke-opacity="0.25" stroke-width="13.19"/>
<line x1="151.83" y1="736.2" x2="143.14" y2="735.58" stroke="#fff" stroke-opacity="0.136" stroke-width="9"/>
<line x1="144.26" y1="735.58" x2="135.65" y2="735.09" stroke="#fff" stroke-opacity="0.25" stroke-width="12.75"/>
<line x1="144.26" y1="735.58" x2="135.65" y2="735.09" stroke="#fff" stroke-opacity="0.102" stroke-width="9"/>
<line x1="136.77" y1="735.17" x2="128.16" y2="734.52" stroke="#fff" stroke-opacity="0.25" stroke-width="13.31"/>
<line x1="136.77" y1="735.17" x2="128.16" y2="734.52" stroke="#fff" stroke-opacity="0.087" stroke-width="9"/>
<line x1="129.28" y1="734.68" x2="120.76" y2="733.15" stroke="#fff" stroke-opacity="0.25" stroke-width="14.73"/>
<line x1="129.28" y1="734.68" x2="120.76" y2="733.15" stroke="#fff" stroke-opacity="0.05" stroke-width="9"/>
<line x1="121.87" y1="733.39" x2="113.64" y2="730.68" stroke="#fff" stroke-opacity="0.25" stroke-width="16.69"/>
<line x1="121.87" y1="733.39" x2="113.64" y2="730.68" stroke="#fff" stroke-opacity="0.021" stroke-width="9"/>
<line x1="114.72" y1="731" x2="106.78" y2="727.6" stroke="#fff" stroke-opacity="0.25" stroke-width="18.71"/>
<line x1="114.72" y1="731" x2="106.78" y2="727.6" stroke="#fff" stroke-opacity="0.029" stroke-width="9"/>
<line x1="107.83" y1="727.99" x2="99.88" y2="724.74" stroke="#fff" stroke-opacity="0.25" stroke-width="20.34"/>
<line x1="107.83" y1="727.99" x2="99.88" y2="724.74" stroke="#fff" stroke-opacity="0.065" stroke-width="9"/>
<line x1="100.9" y1="725.21" x2="92.62" y2="722.5" stroke="#fff" stroke-opacity="0.25" stroke-width="21.18"/>
<line x1="100.9" y1="725.21" x2="92.62" y2="722.5" stroke="#fff" stroke-opacity="0.095" stroke-width="9"/>
<line x1="93.62" y1="723.05" x2="85.08" y2="720.3" stroke="#fff" stroke-opacity="0.25" stroke-width="21.05"/>
<line x1="93.62" y1="723.05" x2="85.08" y2="720.3" stroke="#fff" stroke-opacity="0.096" stroke-width="9"/>
<line x1="86.05" y1="720.93" x2="77.89" y2="717.07" stroke="#fff" stroke-opacity="0.25" stroke-width="19.96"/>
<line x1="86.05" y1="720.93" x2="77.89" y2="717.07" stroke="#fff" stroke-opacity="0.187" stroke-width="9"/>
<line x1="78.83" y1="717.78" x2="71.82" y2="712.08" stroke="#fff" stroke-opacity="0.25" stroke-width="18.19"/>
<line x1="78.83" y1="717.78" x2="71.82" y2="712.08" stroke="#fff" stroke-opacity="0.205" stroke-width="9"/>
<line x1="72.72" y1="712.85" x2="67.16" y2="705.56" stroke="#fff" stroke-opacity="0.25" stroke-width="16.13"/>
<line x1="72.72" y1="712.85" x2="67.16" y2="705.56" stroke="#fff" stroke-opacity="0.141" stroke-width="9"/>
<line x1="67.98" y1="706.39" x2="63.34" y2="698.52" stroke="#fff" stroke-opacity="0.25" stroke-width="14.28"/>
<line x1="67.98" y1="706.39" x2="63.34" y2="698.52" stroke="#fff" stroke-opacity="0.036" stroke-width="9"/>
<line x1="64.09" y1="699.38" x2="59.41" y2="691.86" stroke="#fff" stroke-opacity="0.25" stroke-width="13.07"/>
<line x1="64.09" y1="699.38" x2="59.41" y2="691.86" stroke="#fff" stroke-opacity="0.021" stroke-width="9"/>
<line x1="60.1" y1="692.77" x2="54.83" y2="685.8" stroke="#fff" stroke-opacity="0.25" stroke-width="12.77"/>
<line x1="60.1" y1="692.77" x2="54.83" y2="685.8" stroke="#fff" stroke-opacity="0.025" stroke-width="9"/>
<line x1="55.46" y1="686.76" x2="49.92" y2="679.85" stroke="#fff" stroke-opacity="0.25" stroke-width="13.47"/>
<line x1="55.46" y1="686.76" x2="49.92" y2="679.85" stroke="#fff" stroke-opacity="0.005" stroke-width="9"/>
<line x1="50.48" y1="680.86" x2="45.57" y2="673.39" stroke="#fff" stroke-opacity="0.223" stroke-width="14.99"/>
<line x1="46.07" y1="674.44" x2="42.48" y2="666.23" stroke="#fff" stroke-opacity="0.2" stroke-width="16.98"/>
<line x1="42.91" y1="667.32" x2="40.55" y2="658.64" stroke="#fff" stroke-opacity="0.2" stroke-width="18.98"/>
<line x1="40.9" y1="659.75" x2="39.08" y2="650.99" stroke="#fff" stroke-opacity="0.2" stroke-width="20.51"/>
<line x1="39.35" y1="652.12" x2="37.52" y2="643.41" stroke="#fff" stroke-opacity="0.2" stroke-width="21.22"/>
<line x1="37.71" y1="644.56" x2="36.04" y2="635.78" stroke="#fff" stroke-opacity="0.233" stroke-width="20.95"/>
<line x1="36.16" y1="636.94" x2="35.37" y2="628.01" stroke="#fff" stroke-opacity="0.25" stroke-width="19.74"/>
<line x1="36.16" y1="636.94" x2="35.37" y2="628.01" stroke="#fff" stroke-opacity="0.01" stroke-width="9"/>
<line x1="35.41" y1="629.18" x2="36" y2="620.24" stroke="#fff" stroke-opacity="0.25" stroke-width="17.9"/>
<line x1="35.41" y1="629.18" x2="36" y2="620.24" stroke="#fff" stroke-opacity="0.064" stroke-width="9"/>
<line x1="35.96" y1="621.4" x2="37.6" y2="612.62" stroke="#fff" stroke-opacity="0.25" stroke-width="15.84"/>
<line x1="35.96" y1="621.4" x2="37.6" y2="612.62" stroke="#fff" stroke-opacity="0.063" stroke-width="9"/>
<line x1="37.48" y1="613.77" x2="39.19" y2="605.12" stroke="#fff" stroke-opacity="0.25" stroke-width="14.06"/>
<line x1="37.48" y1="613.77" x2="39.19" y2="605.12" stroke="#fff" stroke-opacity="0.037" stroke-width="9"/>
<line x1="39" y1="606.25" x2="40.03" y2="597.46" stroke="#fff" stroke-opacity="0.25" stroke-width="12.96"/>
<line x1="39" y1="606.25" x2="40.03" y2="597.46" stroke="#fff" stroke-opacity="0.006" stroke-width="9"/>
<line x1="39.76" y1="598.58" x2="40.32" y2="589.45" stroke="#fff" stroke-opacity="0.25" stroke-width="12.81"/>
<line x1="39.76" y1="598.58" x2="40.32" y2="589.45" stroke="#fff" stroke-opacity="0.012" stroke-width="9"/>
<line x1="39.97" y1="590.57" x2="41.17" y2="581.35" stroke="#fff" stroke-opacity="0.25" stroke-width="13.64"/>
<line x1="39.97" y1="590.57" x2="41.17" y2="581.35" stroke="#fff" stroke-opacity="0.011" stroke-width="9"/>
<line x1="40.74" y1="582.46" x2="43.72" y2="573.76" stroke="#fff" stroke-opacity="0.25" stroke-width="15.26"/>
<line x1="40.74" y1="582.46" x2="43.72" y2="573.76" stroke="#fff" stroke-opacity="0.009" stroke-width="9"/>
<line x1="43.21" y1="574.84" x2="48.25" y2="567.2" stroke="#fff" stroke-opacity="0.25" stroke-width="17.28"/>
<line x1="43.21" y1="574.84" x2="48.25" y2="567.2" stroke="#fff" stroke-opacity="0.04" stroke-width="9"/>
<line x1="47.67" y1="568.23" x2="53.98" y2="561.6" stroke="#fff" stroke-opacity="0.25" stroke-width="19.24"/>
<line x1="47.67" y1="568.23" x2="53.98" y2="561.6" stroke="#fff" stroke-opacity="0.131" stroke-width="9"/>
<line x1="53.34" y1="562.57" x2="59.74" y2="556.34" stroke="#fff" stroke-opacity="0.25" stroke-width="20.67"/>
<line x1="53.34" y1="562.57" x2="59.74" y2="556.34" stroke="#fff" stroke-opacity="0.262" stroke-width="9"/>
<line x1="59.05" y1="557.25" x2="64.89" y2="550.77" stroke="#fff" stroke-opacity="0.25" stroke-width="21.25"/>
<line x1="59.05" y1="557.25" x2="64.89" y2="550.77" stroke="#fff" stroke-opacity="0.294" stroke-width="9"/>
<line x1="64.14" y1="551.62" x2="69.66" y2="544.83" stroke="#fff" stroke-opacity="0.25" stroke-width="20.83"/>
<line x1="64.14" y1="551.62" x2="69.66" y2="544.83" stroke="#fff" stroke-opacity="0.252" stroke-width="9"/>
<line x1="68.86" y1="545.63" x2="74.75" y2="539.07" stroke="#fff" stroke-opacity="0.25" stroke-width="19.51"/>
<line x1="68.86" y1="545.63" x2="74.75" y2="539.07" stroke="#fff" stroke-opacity="0.16" stroke-width="9"/>
<line x1="73.88" y1="539.82" x2="80.58" y2="534.15" stroke="#fff" stroke-opacity="0.25" stroke-width="17.61"/>
<line x1="73.88" y1="539.82" x2="80.58" y2="534.15" stroke="#fff" stroke-opacity="0.074" stroke-width="9"/>
<line x1="79.67" y1="534.83" x2="87.06" y2="530.16" stroke="#fff" stroke-opacity="0.25" stroke-width="15.56"/>
<line x1="79.67" y1="534.83" x2="87.06" y2="530.16" stroke="#fff" stroke-opacity="0.035" stroke-width="9"/>
<line x1="86.11" y1="530.77" x2="93.74" y2="526.6" stroke="#fff" stroke-opacity="0.25" stroke-width="13.85"/>
<line x1="86.11" y1="530.77" x2="93.74" y2="526.6" stroke="#fff" stroke-opacity="0.086" stroke-width="9"/>
<line x1="92.75" y1="527.14" x2="100.37" y2="522.94" stroke="#fff" stroke-opacity="0.25" stroke-width="12.88"/>
<line x1="92.75" y1="527.14" x2="100.37" y2="522.94" stroke="#fff" stroke-opacity="0.222" stroke-width="9"/>
<line x1="99.34" y1="523.41" x2="107.08" y2="519.25" stroke="#fff" stroke-opacity="0.25" stroke-width="12.87"/>
<line x1="99.34" y1="523.41" x2="107.08" y2="519.25" stroke="#fff" stroke-opacity="0.374" stroke-width="9"/>
<line x1="106.01" y1="519.65" x2="114.14" y2="516.29" stroke="#fff" stroke-opacity="0.25" stroke-width="13.83"/>
<line x1="106.01" y1="519.65" x2="114.14" y2="516.29" stroke="#fff" stroke-opacity="0.458" stroke-width="9"/>
<line x1="113.04" y1="516.62" x2="121.63" y2="514.81" stroke="#fff" stroke-opacity="0.25" stroke-width="15.53"/>
<line x1="113.04" y1="516.62" x2="121.63" y2="514.81" stroke="#fff" stroke-opacity="0.427" stroke-width="9"/>
<line x1="120.51" y1="515.05" x2="129.28" y2="514.75" stroke="#fff" stroke-opacity="0.25" stroke-width="17.58"/>
<line x1="120.51" y1="515.05" x2="129.28" y2="514.75" stroke="#fff" stroke-opacity="0.297" stroke-width="9"/>
<line x1="128.17" y1="514.92" x2="136.83" y2="515.18" stroke="#fff" stroke-opacity="0.25" stroke-width="19.48"/>
<line x1="128.17" y1="514.92" x2="136.83" y2="515.18" stroke="#fff" stroke-opacity="0.126" stroke-width="9"/>
<line x1="135.72" y1="515.26" x2="144.26" y2="514.96" stroke="#fff" stroke-opacity="0.25" stroke-width="20.81"/>
<line x1="135.72" y1="515.26" x2="144.26" y2="514.96" stroke="#fff" stroke-opacity="0.043" stroke-width="9"/>
<ellipse cx="202.36" cy="711.84" rx="11" ry="5.5" fill="#fff" fill-opacity="1.0" transform="rotate(-24 202.36 711.84)"/>
<ellipse cx="202.36" cy="711.84" rx="8" ry="4" fill="#fff" fill-opacity="0.9" transform="rotate(-24 202.36 711.84)"/>
<ellipse cx="220.91" cy="698.01" rx="8" ry="5" fill="#fff" fill-opacity="0.3" transform="rotate(-40 220.91 698.01)"/>
<ellipse cx="158.52" cy="625.5" rx="12" ry="12" fill="#fff" fill-opacity="0.08"/>
<ellipse cx="107.93" cy="687.89" rx="14" ry="14" fill="#fff" fill-opacity="0.07"/>
<ellipse cx="193.93" cy="568.16" rx="12" ry="12" fill="#fff" fill-opacity="0.05"/>
<ellipse cx="101.18" cy="591.77" rx="12" ry="12" fill="#fff" fill-opacity="0.04"/>
</g></g>
<ellipse cx="143.7" cy="624.7" rx="122.7" ry="126.5" fill="none" stroke="#ee861f" stroke-width="1.5"/>
<line x1="143.2" y1="496.2" x2="144" y2="584.32" stroke="#ee861f" stroke-width="1.6" />
<line x1="145.9" y1="666.08" x2="146.7" y2="751.2" stroke="#ee861f" stroke-width="1.6" />
<line x1="18" y1="621.2" x2="105.6" y2="623.2" stroke="#ee861f" stroke-width="1.6" />
<line x1="186.8" y1="625.7" x2="266.4" y2="626.2" stroke="#ee861f" stroke-width="1.6" />
<ellipse cx="146.7" cy="625.2" rx="41.1" ry="39.21" fill="none" stroke="#ee861f" stroke-width="1.6"/>
<ellipse cx="161.07" cy="511.63" rx="7" ry="7.6" fill="none" stroke="#ee861f" stroke-width="1.4"/>
<ellipse cx="194.11" cy="522.7" rx="7" ry="7.6" fill="none" stroke="#ee861f" stroke-width="1.4"/>
<ellipse cx="222.22" cy="543.75" rx="7" ry="7.6" fill="none" stroke="#ee861f" stroke-width="1.4"/>
<ellipse cx="242.64" cy="572.73" rx="7" ry="7.6" fill="none" stroke="#ee861f" stroke-width="1.4"/>
<ellipse cx="253.38" cy="606.79" rx="7" ry="7.6" fill="none" stroke="#ee861f" stroke-width="1.4"/>
<ellipse cx="253.38" cy="642.61" rx="7" ry="7.6" fill="none" stroke="#ee861f" stroke-width="1.4"/>
<ellipse cx="242.64" cy="676.67" rx="7" ry="7.6" fill="none" stroke="#ee861f" stroke-width="1.4"/>
<ellipse cx="222.22" cy="705.65" rx="7" ry="7.6" fill="none" stroke="#ee861f" stroke-width="1.4"/>
<ellipse cx="194.11" cy="726.7" rx="7" ry="7.6" fill="none" stroke="#ee861f" stroke-width="1.4"/>
<ellipse cx="161.07" cy="737.77" rx="7" ry="7.6" fill="none" stroke="#ee861f" stroke-width="1.4"/>
<ellipse cx="126.33" cy="737.77" rx="7" ry="7.6" fill="none" stroke="#ee861f" stroke-width="1.4"/>
<ellipse cx="93.29" cy="726.7" rx="7" ry="7.6" fill="none" stroke="#ee861f" stroke-width="1.4"/>
<ellipse cx="65.18" cy="705.65" rx="7" ry="7.6" fill="none" stroke="#ee861f" stroke-width="1.4"/>
<ellipse cx="44.76" cy="676.67" rx="7" ry="7.6" fill="none" stroke="#ee861f" stroke-width="1.4"/>
<ellipse cx="34.02" cy="642.61" rx="7" ry="7.6" fill="none" stroke="#ee861f" stroke-width="1.4"/>
<ellipse cx="34.02" cy="606.79" rx="7" ry="7.6" fill="none" stroke="#ee861f" stroke-width="1.4"/>
<ellipse cx="44.76" cy="572.73" rx="7" ry="7.6" fill="none" stroke="#ee861f" stroke-width="1.4"/>
<ellipse cx="65.18" cy="543.75" rx="7" ry="7.6" fill="none" stroke="#ee861f" stroke-width="1.4"/>
<ellipse cx="93.29" cy="522.7" rx="7" ry="7.6" fill="none" stroke="#ee861f" stroke-width="1.4"/>
<ellipse cx="126.33" cy="511.63" rx="7" ry="7.6" fill="none" stroke="#ee861f" stroke-width="1.4"/>
<ellipse cx="215.26" cy="693.98" rx="22" ry="19.5" fill="none" stroke="#ee861f" stroke-width="1.4"/>
<clipPath id="clipd2"><ellipse cx="143.2" cy="888.8" rx="121.7" ry="127"/></clipPath>
<g clip-path="url(#clipd2)"><g filter="url(#jet5)">
<rect x="-8.5" y="731.8" width="303.4" height="314" fill="#000"/>
<ellipse cx="143.2" cy="888.8" rx="97.36" ry="101.6" fill="#fff" fill-opacity="0.05"/>
<ellipse cx="124.23" cy="823.07" rx="9.6" ry="8.46" fill="#000" fill-opacity="0.0" transform="rotate(165 124.23 823.07)"/>
<ellipse cx="92.44" cy="895.79" rx="11.49" ry="8.28" fill="#fff" fill-opacity="0.067" transform="rotate(19 92.44 895.79)"/>
<ellipse cx="203.24" cy="947.22" rx="16.2" ry="11.92" fill="#000" fill-opacity="0.0" transform="rotate(56 203.24 947.22)"/>
<ellipse cx="67.76" cy="908.96" rx="15.05" ry="14.36" fill="#fff" fill-opacity="0.032" transform="rotate(32 67.76 908.96)"/>
<ellipse cx="151.9" cy="850.75" rx="17.18" ry="17.19" fill="#000" fill-opacity="0.0" transform="rotate(159 151.9 850.75)"/>
<ellipse cx="127.49" cy="907.64" rx="12.88" ry="9.18" fill="#000" fill-opacity="0.0" transform="rotate(55 127.49 907.64)"/>
<ellipse cx="60.38" cy="912.87" rx="11.52" ry="11.23" fill="#fff" fill-opacity="0.07" transform="rotate(85 60.38 912.87)"/>
<ellipse cx="87.63" cy="872.19" rx="10.82" ry="11.29" fill="#fff" fill-opacity="0.059" transform="rotate(50 87.63 872.19)"/>
<ellipse cx="110.46" cy="899.95" rx="17.14" ry="11.49" fill="#fff" fill-opacity="0.06" transform="rotate(11 110.46 899.95)"/>
<ellipse cx="164.27" cy="838.78" rx="11.98" ry="8.68" fill="#fff" fill-opacity="0.057" transform="rotate(83 164.27 838.78)"/>
<ellipse cx="126.85" cy="973.25" rx="14.58" ry="17.1" fill="#fff" fill-opacity="0.047" transform="rotate(53 126.85 973.25)"/>
<ellipse cx="76.83" cy="866.25" rx="17.66" ry="14.69" fill="#fff" fill-opacity="0.035" transform="rotate(2 76.83 866.25)"/>
<ellipse cx="195" cy="862.65" rx="11.61" ry="7.76" fill="#fff" fill-opacity="0.037" transform="rotate(177 195 862.65)"/>
<ellipse cx="82.72" cy="922.49" rx="10.35" ry="6.5" fill="#fff" fill-opacity="0.07" transform="rotate(88 82.72 922.49)"/>
<ellipse cx="74.25" cy="894.37" rx="15.96" ry="14.15" fill="#fff" fill-opacity="0.038" transform="rotate(178 74.25 894.37)"/>
<ellipse cx="126.88" cy="800.57" rx="12.79" ry="9.9" fill="#000" fill-opacity="0.0" transform="rotate(160 126.88 800.57)"/>
<ellipse cx="96.17" cy="833.19" rx="11.08" ry="13.4" fill="#fff" fill-opacity="0.067" transform="rotate(26 96.17 833.19)"/>
<ellipse cx="125.49" cy="965.18" rx="14.89" ry="17.17" fill="#fff" fill-opacity="0.032" transform="rotate(134 125.49 965.18)"/>
<ellipse cx="90.43" cy="960.01" rx="17.1" ry="21.32" fill="#000" fill-opacity="0.0" transform="rotate(61 90.43 960.01)"/>
<ellipse cx="169.21" cy="948.77" rx="13.75" ry="14.55" fill="#fff" fill-opacity="0.067" transform="rotate(123 169.21 948.77)"/>
<ellipse cx="167.88" cy="901.98" rx="15.72" ry="19.64" fill="#fff" fill-opacity="0.067" transform="rotate(39 167.88 901.98)"/>
<ellipse cx="194.86" cy="960.79" rx="13.96" ry="16.96" fill="#000" fill-opacity="0.0" transform="rotate(36 194.86 960.79)"/>
<ellipse cx="138" cy="893.83" rx="9.24" ry="5.76" fill="#fff" fill-opacity="0.064" transform="rotate(107 138 893.83)"/>
<ellipse cx="162.94" cy="819.98" rx="12.26" ry="13.95" fill="#fff" fill-opacity="0.063" transform="rotate(94 162.94 819.98)"/>
<ellipse cx="151.12" cy="866.16" rx="16.09" ry="13.16" fill="#fff" fill-opacity="0.069" transform="rotate(42 151.12 866.16)"/>
<ellipse cx="165.28" cy="962.21" rx="13.61" ry="12.3" fill="#000" fill-opacity="0.0" transform="rotate(154 165.28 962.21)"/>
<line x1="142.65" y1="778.63" x2="151.22" y2="777.47" stroke="#fff" stroke-opacity="0.25" stroke-width="21.25"/>
<line x1="142.65" y1="778.63" x2="151.22" y2="777.47" stroke="#fff" stroke-opacity="0.023" stroke-width="9"/>
<line x1="150.1" y1="777.39" x2="158.94" y2="776.24" stroke="#fff" stroke-opacity="0.25" stroke-width="20.69"/>
<line x1="150.1" y1="777.39" x2="158.94" y2="776.24" stroke="#fff" stroke-opacity="0.038" stroke-width="9"/>
<line x1="157.81" y1="776.07" x2="166.7" y2="776.33" stroke="#fff" stroke-opacity="0.25" stroke-width="19.27"/>
<line x1="157.81" y1="776.07" x2="166.7" y2="776.33" stroke="#fff" stroke-opacity="0.047" stroke-width="9"/>
<line x1="165.57" y1="776.08" x2="174.09" y2="778.57" stroke="#fff" stroke-opacity="0.25" stroke-width="17.31"/>
<line x1="165.57" y1="776.08" x2="174.09" y2="778.57" stroke="#fff" stroke-opacity="0.058" stroke-width="9"/>
<line x1="172.98" y1="778.24" x2="180.85" y2="782.6" stroke="#fff" stroke-opacity="0.25" stroke-width="15.29"/>
<line x1="172.98" y1="778.24" x2="180.85" y2="782.6" stroke="#fff" stroke-opacity="0.055" stroke-width="9"/>
<line x1="179.78" y1="782.19" x2="187.14" y2="787.25" stroke="#fff" stroke-opacity="0.25" stroke-width="13.66"/>
<line x1="179.78" y1="782.19" x2="187.14" y2="787.25" stroke="#fff" stroke-opacity="0.039" stroke-width="9"/>
<line x1="186.12" y1="786.77" x2="193.39" y2="791.52" stroke="#fff" stroke-opacity="0.25" stroke-width="12.82"/>
<line x1="186.12" y1="786.77" x2="193.39" y2="791.52" stroke="#fff" stroke-opacity="0.028" stroke-width="9"/>
<line x1="192.41" y1="790.98" x2="199.83" y2="795.31" stroke="#fff" stroke-opacity="0.25" stroke-width="12.95"/>
<line x1="192.41" y1="790.98" x2="199.83" y2="795.31" stroke="#fff" stroke-opacity="0.016" stroke-width="9"/>
<line x1="198.89" y1="794.7" x2="206.25" y2="799.23" stroke="#fff" stroke-opacity="0.25" stroke-width="14.04"/>
<line x1="198.89" y1="794.7" x2="206.25" y2="799.23" stroke="#fff" stroke-opacity="0.027" stroke-width="9"/>
<line x1="205.35" y1="798.55" x2="212.19" y2="803.91" stroke="#fff" stroke-opacity="0.25" stroke-width="15.81"/>
<line x1="205.35" y1="798.55" x2="212.19" y2="803.91" stroke="#fff" stroke-opacity="0.113" stroke-width="9"/>
<line x1="211.34" y1="803.16" x2="217.49" y2="809.36" stroke="#fff" stroke-opacity="0.25" stroke-width="17.87"/>
<line x1="211.34" y1="803.16" x2="217.49" y2="809.36" stroke="#fff" stroke-opacity="0.29" stroke-width="9"/>
<line x1="216.69" y1="808.55" x2="222.45" y2="815.11" stroke="#fff" stroke-opacity="0.25" stroke-width="19.72"/>
<line x1="216.69" y1="808.55" x2="222.45" y2="815.11" stroke="#fff" stroke-opacity="0.257" stroke-width="9"/>
<line x1="221.71" y1="814.25" x2="227.58" y2="820.74" stroke="#fff" stroke-opacity="0.25" stroke-width="20.93"/>
<line x1="221.71" y1="814.25" x2="227.58" y2="820.74" stroke="#fff" stroke-opacity="0.132" stroke-width="9"/>
<line x1="226.89" y1="819.82" x2="232.93" y2="826.35" stroke="#fff" stroke-opacity="0.25" stroke-width="21.23"/>
<line x1="226.89" y1="819.82" x2="232.93" y2="826.35" stroke="#fff" stroke-opacity="0.06" stroke-width="9"/>
<line x1="232.3" y1="825.37" x2="237.87" y2="832.45" stroke="#fff" stroke-opacity="0.25" stroke-width="20.53"/>
<line x1="232.3" y1="825.37" x2="237.87" y2="832.45" stroke="#fff" stroke-opacity="0.011" stroke-width="9"/>
<line x1="237.3" y1="831.42" x2="241.51" y2="839.43" stroke="#fff" stroke-opacity="0.25" stroke-width="19.01"/>
<line x1="241.01" y1="838.36" x2="243.51" y2="847.14" stroke="#fff" stroke-opacity="0.25" stroke-width="17.02"/>
<line x1="243.09" y1="846.05" x2="244.51" y2="855.06" stroke="#fff" stroke-opacity="0.25" stroke-width="15.02"/>
<line x1="244.17" y1="853.95" x2="245.68" y2="862.73" stroke="#fff" stroke-opacity="0.25" stroke-width="13.49"/>
<line x1="245.42" y1="861.61" x2="247.79" y2="870.14" stroke="#fff" stroke-opacity="0.25" stroke-width="12.78"/>
<line x1="247.6" y1="869" x2="250.49" y2="877.62" stroke="#fff" stroke-opacity="0.25" stroke-width="13.05"/>
<line x1="247.6" y1="869" x2="250.49" y2="877.62" stroke="#fff" stroke-opacity="0.032" stroke-width="9"/>
<line x1="250.37" y1="876.45" x2="252.57" y2="885.41" stroke="#fff" stroke-opacity="0.25" stroke-width="14.26"/>
<line x1="250.37" y1="876.45" x2="252.57" y2="885.41" stroke="#fff" stroke-opacity="0.051" stroke-width="9"/>
<line x1="252.53" y1="884.22" x2="252.92" y2="893.4" stroke="#fff" stroke-opacity="0.25" stroke-width="16.1"/>
<line x1="252.53" y1="884.22" x2="252.92" y2="893.4" stroke="#fff" stroke-opacity="0.044" stroke-width="9"/>
<line x1="252.97" y1="892.2" x2="251.39" y2="901.26" stroke="#fff" stroke-opacity="0.25" stroke-width="18.16"/>
<line x1="252.97" y1="892.2" x2="251.39" y2="901.26" stroke="#fff" stroke-opacity="0.036" stroke-width="9"/>
<line x1="251.51" y1="900.08" x2="248.81" y2="908.83" stroke="#fff" stroke-opacity="0.25" stroke-width="19.94"/>
<line x1="251.51" y1="900.08" x2="248.81" y2="908.83" stroke="#fff" stroke-opacity="0.032" stroke-width="9"/>
<line x1="249" y1="907.67" x2="246.2" y2="916.2" stroke="#fff" stroke-opacity="0.25" stroke-width="21.04"/>
<line x1="249" y1="907.67" x2="246.2" y2="916.2" stroke="#fff" stroke-opacity="0.094" stroke-width="9"/>
<line x1="246.47" y1="915.07" x2="243.96" y2="923.57" stroke="#fff" stroke-opacity="0.25" stroke-width="21.19"/>
<line x1="246.47" y1="915.07" x2="243.96" y2="923.57" stroke="#fff" stroke-opacity="0.213" stroke-width="9"/>
<line x1="244.3" y1="922.47" x2="241.66" y2="930.94" stroke="#fff" stroke-opacity="0.25" stroke-width="20.36"/>
<line x1="244.3" y1="922.47" x2="241.66" y2="930.94" stroke="#fff" stroke-opacity="0.33" stroke-width="9"/>
<line x1="242.08" y1="929.86" x2="238.65" y2="938.03" stroke="#fff" stroke-opacity="0.25" stroke-width="18.74"/>
<line x1="242.08" y1="929.86" x2="238.65" y2="938.03" stroke="#fff" stroke-opacity="0.381" stroke-width="9"/>
<line x1="239.14" y1="936.98" x2="234.78" y2="944.64" stroke="#fff" stroke-opacity="0.25" stroke-width="16.72"/>
<line x1="239.14" y1="936.98" x2="234.78" y2="944.64" stroke="#fff" stroke-opacity="0.346" stroke-width="9"/>
<line x1="235.33" y1="943.64" x2="230.52" y2="950.96" stroke="#fff" stroke-opacity="0.25" stroke-width="14.76"/>
<line x1="235.33" y1="943.64" x2="230.52" y2="950.96" stroke="#fff" stroke-opacity="0.236" stroke-width="9"/>
<line x1="231.14" y1="950" x2="226.49" y2="957.44" stroke="#fff" stroke-opacity="0.25" stroke-width="13.33"/>
<line x1="231.14" y1="950" x2="226.49" y2="957.44" stroke="#fff" stroke-opacity="0.107" stroke-width="9"/>
<line x1="227.17" y1="956.53" x2="222.73" y2="964.32" stroke="#fff" stroke-opacity="0.25" stroke-width="12.75"/>
<line x1="227.17" y1="956.53" x2="222.73" y2="964.32" stroke="#fff" stroke-opacity="0.055" stroke-width="9"/>
<line x1="223.48" y1="963.44" x2="218.63" y2="971.17" stroke="#fff" stroke-opacity="0.25" stroke-width="13.17"/>
<line x1="223.48" y1="963.44" x2="218.63" y2="971.17" stroke="#fff" stroke-opacity="0.138" stroke-width="9"/>
<line x1="219.45" y1="970.34" x2="213.44" y2="977.09" stroke="#fff" stroke-opacity="0.25" stroke-width="14.49"/>
<line x1="219.45" y1="970.34" x2="213.44" y2="977.09" stroke="#fff" stroke-opacity="0.317" stroke-width="9"/>
<line x1="214.32" y1="976.31" x2="206.95" y2="981.38" stroke="#fff" stroke-opacity="0.25" stroke-width="16.39"/>
<line x1="214.32" y1="976.31" x2="206.95" y2="981.38" stroke="#fff" stroke-opacity="0.425" stroke-width="9"/>
<line x1="207.87" y1="980.68" x2="199.68" y2="984.23" stroke="#fff" stroke-opacity="0.25" stroke-width="18.44"/>
<line x1="207.87" y1="980.68" x2="199.68" y2="984.23" stroke="#fff" stroke-opacity="0.412" stroke-width="9"/>
<line x1="200.63" y1="983.61" x2="192.44" y2="986.66" stroke="#fff" stroke-opacity="0.25" stroke-width="20.15"/>
<line x1="200.63" y1="983.61" x2="192.44" y2="986.66" stroke="#fff" stroke-opacity="0.345" stroke-width="9"/>
<line x1="193.41" y1="986.12" x2="185.66" y2="989.73" stroke="#fff" stroke-opacity="0.25" stroke-width="21.12"/>
<line x1="193.41" y1="986.12" x2="185.66" y2="989.73" stroke="#fff" stroke-opacity="0.225" stroke-width="9"/>
<line x1="186.67" y1="989.26" x2="179.17" y2="993.63" stroke="#fff" stroke-opacity="0.25" stroke-width="21.13"/>
<line x1="186.67" y1="989.26" x2="179.17" y2="993.63" stroke="#fff" stroke-opacity="0.096" stroke-width="9"/>
<line x1="180.22" y1="993.24" x2="172.49" y2="997.53" stroke="#fff" stroke-opacity="0.25" stroke-width="20.17"/>
<line x1="180.22" y1="993.24" x2="172.49" y2="997.53" stroke="#fff" stroke-opacity="0.032" stroke-width="9"/>
<line x1="173.58" y1="997.2" x2="165.31" y2="1000.23" stroke="#fff" stroke-opacity="0.25" stroke-width="18.47"/>
<line x1="173.58" y1="997.2" x2="165.31" y2="1000.23" stroke="#fff" stroke-opacity="0.051" stroke-width="9"/>
<line x1="166.43" y1="999.98" x2="157.76" y2="1001.17" stroke="#fff" stroke-opacity="0.25" stroke-width="16.42"/>
<line x1="166.43" y1="999.98" x2="157.76" y2="1001.17" stroke="#fff" stroke-opacity="0.097" stroke-width="9"/>
<line x1="158.89" y1="1001.01" x2="150.14" y2="1000.82" stroke="#fff" stroke-opacity="0.25" stroke-width="14.52"/>
<line x1="158.89" y1="1001.01" x2="150.14" y2="1000.82" stroke="#fff" stroke-opacity="0.142" stroke-width="9"/>
<line x1="151.27" y1="1000.74" x2="142.64" y2="1000.12" stroke="#fff" stroke-opacity="0.25" stroke-width="13.19"/>
<line x1="151.27" y1="1000.74" x2="142.64" y2="1000.12" stroke="#fff" stroke-opacity="0.149" stroke-width="9"/>
<line x1="143.76" y1="1000.12" x2="135.21" y2="999.63" stroke="#fff" stroke-opacity="0.25" stroke-width="12.75"/>
<line x1="143.76" y1="1000.12" x2="135.21" y2="999.63" stroke="#fff" stroke-opacity="0.117" stroke-width="9"/>
<line x1="136.33" y1="999.71" x2="127.79" y2="999.05" stroke="#fff" stroke-opacity="0.25" stroke-width="13.31"/>
<line x1="136.33" y1="999.71" x2="127.79" y2="999.05" stroke="#fff" stroke-opacity="0.066" stroke-width="9"/>
<line x1="128.89" y1="999.21" x2="120.45" y2="997.68" stroke="#fff" stroke-opacity="0.25" stroke-width="14.73"/>
<line x1="128.89" y1="999.21" x2="120.45" y2="997.68" stroke="#fff" stroke-opacity="0.046" stroke-width="9"/>
<line x1="121.55" y1="997.92" x2="113.38" y2="995.2" stroke="#fff" stroke-opacity="0.25" stroke-width="16.69"/>
<line x1="121.55" y1="997.92" x2="113.38" y2="995.2" stroke="#fff" stroke-opacity="0.025" stroke-width="9"/>
<line x1="114.45" y1="995.52" x2="106.58" y2="992.1" stroke="#fff" stroke-opacity="0.25" stroke-width="18.71"/>
<line x1="114.45" y1="995.52" x2="106.58" y2="992.1" stroke="#fff" stroke-opacity="0.048" stroke-width="9"/>
<line x1="107.62" y1="992.5" x2="99.74" y2="989.24" stroke="#fff" stroke-opacity="0.25" stroke-width="20.34"/>
<line x1="107.62" y1="992.5" x2="99.74" y2="989.24" stroke="#fff" stroke-opacity="0.152" stroke-width="9"/>
<line x1="100.75" y1="989.71" x2="92.54" y2="986.99" stroke="#fff" stroke-opacity="0.25" stroke-width="21.18"/>
<line x1="100.75" y1="989.71" x2="92.54" y2="986.99" stroke="#fff" stroke-opacity="0.289" stroke-width="9"/>
<line x1="93.53" y1="987.53" x2="85.05" y2="984.78" stroke="#fff" stroke-opacity="0.25" stroke-width="21.05"/>
<line x1="93.53" y1="987.53" x2="85.05" y2="984.78" stroke="#fff" stroke-opacity="0.31" stroke-width="9"/>
<line x1="86.02" y1="985.41" x2="77.92" y2="981.54" stroke="#fff" stroke-opacity="0.25" stroke-width="19.96"/>
<line x1="86.02" y1="985.41" x2="77.92" y2="981.54" stroke="#fff" stroke-opacity="0.242" stroke-width="9"/>
<line x1="78.86" y1="982.24" x2="71.91" y2="976.52" stroke="#fff" stroke-opacity="0.25" stroke-width="18.19"/>
<line x1="78.86" y1="982.24" x2="71.91" y2="976.52" stroke="#fff" stroke-opacity="0.157" stroke-width="9"/>
<line x1="72.79" y1="977.3" x2="67.28" y2="969.98" stroke="#fff" stroke-opacity="0.25" stroke-width="16.13"/>
<line x1="72.79" y1="977.3" x2="67.28" y2="969.98" stroke="#fff" stroke-opacity="0.071" stroke-width="9"/>
<line x1="68.1" y1="970.81" x2="63.49" y2="962.91" stroke="#fff" stroke-opacity="0.25" stroke-width="14.28"/>
<line x1="68.1" y1="970.81" x2="63.49" y2="962.91" stroke="#fff" stroke-opacity="0.033" stroke-width="9"/>
<line x1="64.24" y1="963.78" x2="59.6" y2="956.23" stroke="#fff" stroke-opacity="0.25" stroke-width="13.07"/>
<line x1="64.24" y1="963.78" x2="59.6" y2="956.23" stroke="#fff" stroke-opacity="0.043" stroke-width="9"/>
<line x1="60.28" y1="957.14" x2="55.06" y2="950.14" stroke="#fff" stroke-opacity="0.25" stroke-width="12.77"/>
<line x1="60.28" y1="957.14" x2="55.06" y2="950.14" stroke="#fff" stroke-opacity="0.141" stroke-width="9"/>
<line x1="55.68" y1="951.1" x2="50.18" y2="944.17" stroke="#fff" stroke-opacity="0.25" stroke-width="13.47"/>
<line x1="55.68" y1="951.1" x2="50.18" y2="944.17" stroke="#fff" stroke-opacity="0.266" stroke-width="9"/>
<line x1="50.74" y1="945.18" x2="45.87" y2="937.68" stroke="#fff" stroke-opacity="0.25" stroke-width="14.99"/>
<line x1="50.74" y1="945.18" x2="45.87" y2="937.68" stroke="#fff" stroke-opacity="0.336" stroke-width="9"/>
<line x1="46.37" y1="938.74" x2="42.81" y2="930.49" stroke="#fff" stroke-opacity="0.25" stroke-width="16.98"/>
<line x1="46.37" y1="938.74" x2="42.81" y2="930.49" stroke="#fff" stroke-opacity="0.338" stroke-width="9"/>
<line x1="43.23" y1="931.59" x2="40.89" y2="922.87" stroke="#fff" stroke-opacity="0.25" stroke-width="18.98"/>
<line x1="43.23" y1="931.59" x2="40.89" y2="922.87" stroke="#fff" stroke-opacity="0.301" stroke-width="9"/>
<line x1="41.24" y1="923.99" x2="39.43" y2="915.2" stroke="#fff" stroke-opacity="0.25" stroke-width="20.51"/>
<line x1="41.24" y1="923.99" x2="39.43" y2="915.2" stroke="#fff" stroke-opacity="0.189" stroke-width="9"/>
<line x1="39.7" y1="916.33" x2="37.88" y2="907.59" stroke="#fff" stroke-opacity="0.25" stroke-width="21.22"/>
<line x1="39.7" y1="916.33" x2="37.88" y2="907.59" stroke="#fff" stroke-opacity="0.074" stroke-width="9"/>
<line x1="38.08" y1="908.74" x2="36.42" y2="899.92" stroke="#fff" stroke-opacity="0.25" stroke-width="20.95"/>
<line x1="38.08" y1="908.74" x2="36.42" y2="899.92" stroke="#fff" stroke-opacity="0.058" stroke-width="9"/>
<line x1="36.54" y1="901.09" x2="35.75" y2="892.13" stroke="#fff" stroke-opacity="0.25" stroke-width="19.74"/>
<line x1="36.54" y1="901.09" x2="35.75" y2="892.13" stroke="#fff" stroke-opacity="0.166" stroke-width="9"/>
<line x1="35.79" y1="893.3" x2="36.38" y2="884.32" stroke="#fff" stroke-opacity="0.25" stroke-width="17.9"/>
<line x1="35.79" y1="893.3" x2="36.38" y2="884.32" stroke="#fff" stroke-opacity="0.251" stroke-width="9"/>
<line x1="36.34" y1="885.49" x2="37.96" y2="876.68" stroke="#fff" stroke-opacity="0.25" stroke-width="15.84"/>
<line x1="36.34" y1="885.49" x2="37.96" y2="876.68" stroke="#fff" stroke-opacity="0.18" stroke-width="9"/>
<line x1="37.84" y1="877.83" x2="39.54" y2="869.14" stroke="#fff" stroke-opacity="0.25" stroke-width="14.06"/>
<line x1="37.84" y1="877.83" x2="39.54" y2="869.14" stroke="#fff" stroke-opacity="0.122" stroke-width="9"/>
<line x1="39.35" y1="870.28" x2="40.38" y2="861.45" stroke="#fff" stroke-opacity="0.25" stroke-width="12.96"/>
<line x1="39.35" y1="870.28" x2="40.38" y2="861.45" stroke="#fff" stroke-opacity="0.139" stroke-width="9"/>
<line x1="40.11" y1="862.57" x2="40.66" y2="853.41" stroke="#fff" stroke-opacity="0.25" stroke-width="12.81"/>
<line x1="40.11" y1="862.57" x2="40.66" y2="853.41" stroke="#fff" stroke-opacity="0.121" stroke-width="9"/>
<line x1="40.32" y1="854.54" x2="41.51" y2="845.28" stroke="#fff" stroke-opacity="0.25" stroke-width="13.64"/>
<line x1="40.32" y1="854.54" x2="41.51" y2="845.28" stroke="#fff" stroke-opacity="0.07" stroke-width="9"/>
<line x1="41.08" y1="846.39" x2="44.04" y2="837.66" stroke="#fff" stroke-opacity="0.25" stroke-width="15.26"/>
<line x1="41.08" y1="846.39" x2="44.04" y2="837.66" stroke="#fff" stroke-opacity="0.041" stroke-width="9"/>
<line x1="43.53" y1="838.74" x2="48.53" y2="831.07" stroke="#fff" stroke-opacity="0.25" stroke-width="17.28"/>
<line x1="43.53" y1="838.74" x2="48.53" y2="831.07" stroke="#fff" stroke-opacity="0.097" stroke-width="9"/>
<line x1="47.96" y1="832.11" x2="54.21" y2="825.45" stroke="#fff" stroke-opacity="0.25" stroke-width="19.24"/>
<line x1="47.96" y1="832.11" x2="54.21" y2="825.45" stroke="#fff" stroke-opacity="0.144" stroke-width="9"/>
<line x1="53.58" y1="826.43" x2="59.92" y2="820.17" stroke="#fff" stroke-opacity="0.25" stroke-width="20.67"/>
<line x1="53.58" y1="826.43" x2="59.92" y2="820.17" stroke="#fff" stroke-opacity="0.113" stroke-width="9"/>
<line x1="59.24" y1="821.08" x2="65.03" y2="814.58" stroke="#fff" stroke-opacity="0.25" stroke-width="21.25"/>
<line x1="59.24" y1="821.08" x2="65.03" y2="814.58" stroke="#fff" stroke-opacity="0.085" stroke-width="9"/>
<line x1="64.29" y1="815.43" x2="69.77" y2="808.61" stroke="#fff" stroke-opacity="0.25" stroke-width="20.83"/>
<line x1="64.29" y1="815.43" x2="69.77" y2="808.61" stroke="#fff" stroke-opacity="0.058" stroke-width="9"/>
<line x1="68.97" y1="809.42" x2="74.81" y2="802.83" stroke="#fff" stroke-opacity="0.25" stroke-width="19.51"/>
<line x1="68.97" y1="809.42" x2="74.81" y2="802.83" stroke="#fff" stroke-opacity="0.06" stroke-width="9"/>
<line x1="73.95" y1="803.59" x2="80.6" y2="797.89" stroke="#fff" stroke-opacity="0.25" stroke-width="17.61"/>
<line x1="73.95" y1="803.59" x2="80.6" y2="797.89" stroke="#fff" stroke-opacity="0.05" stroke-width="9"/>
<line x1="79.69" y1="798.58" x2="87.02" y2="793.88" stroke="#fff" stroke-opacity="0.25" stroke-width="15.56"/>
<line x1="79.69" y1="798.58" x2="87.02" y2="793.88" stroke="#fff" stroke-opacity="0.032" stroke-width="9"/>
<line x1="86.07" y1="794.5" x2="93.65" y2="790.31" stroke="#fff" stroke-opacity="0.25" stroke-width="13.85"/>
<line x1="86.07" y1="794.5" x2="93.65" y2="790.31" stroke="#fff" stroke-opacity="0.092" stroke-width="9"/>
<line x1="92.66" y1="790.86" x2="100.22" y2="786.64" stroke="#fff" stroke-opacity="0.25" stroke-width="12.88"/>
<line x1="92.66" y1="790.86" x2="100.22" y2="786.64" stroke="#fff" stroke-opacity="0.251" stroke-width="9"/>
<line x1="99.2" y1="787.11" x2="106.88" y2="782.93" stroke="#fff" stroke-opacity="0.25" stroke-width="12.87"/>
<line x1="99.2" y1="787.11" x2="106.88" y2="782.93" stroke="#fff" stroke-opacity="0.362" stroke-width="9"/>
<line x1="105.82" y1="783.34" x2="113.88" y2="779.96" stroke="#fff" stroke-opacity="0.25" stroke-width="13.83"/>
<line x1="105.82" y1="783.34" x2="113.88" y2="779.96" stroke="#fff" stroke-opacity="0.378" stroke-width="9"/>
<line x1="112.79" y1="780.29" x2="121.31" y2="778.47" stroke="#fff" stroke-opacity="0.25" stroke-width="15.53"/>
<line x1="112.79" y1="780.29" x2="121.31" y2="778.47" stroke="#fff" stroke-opacity="0.291" stroke-width="9"/>
<line x1="120.2" y1="778.72" x2="128.9" y2="778.42" stroke="#fff" stroke-opacity="0.25" stroke-width="17.58"/>
<line x1="120.2" y1="778.72" x2="128.9" y2="778.42" stroke="#fff" stroke-opacity="0.163" stroke-width="9"/>
<line x1="127.79" y1="778.58" x2="136.39" y2="778.85" stroke="#fff" stroke-opacity="0.25" stroke-width="19.48"/>
<line x1="127.79" y1="778.58" x2="136.39" y2="778.85" stroke="#fff" stroke-opacity="0.062" stroke-width="9"/>
<line x1="135.28" y1="778.93" x2="143.75" y2="778.63" stroke="#fff" stroke-opacity="0.25" stroke-width="20.81"/>
<line x1="135.28" y1="778.93" x2="143.75" y2="778.63" stroke="#fff" stroke-opacity="0.018" stroke-width="9"/>
<ellipse cx="219.25" cy="804.48" rx="7" ry="7" fill="#fff" fill-opacity="1.0"/>
<ellipse cx="219.25" cy="804.48" rx="5" ry="5" fill="#fff" fill-opacity="1.0"/>
<ellipse cx="219.25" cy="804.48" rx="10" ry="10" fill="#fff" fill-opacity="0.5"/>
<ellipse cx="129.96" cy="887.82" rx="9" ry="6.5" fill="#fff" fill-opacity="0.75"/>
<ellipse cx="129.96" cy="887.82" rx="15" ry="11" fill="#fff" fill-opacity="0.3"/>
<ellipse cx="216.27" cy="955.28" rx="16" ry="8" fill="#fff" fill-opacity="0.3" transform="rotate(-45 216.27 955.28)"/>
</g></g>
<ellipse cx="143.2" cy="888.8" rx="121.7" ry="127" fill="none" stroke="#ee861f" stroke-width="1.5"/>
<line x1="142.7" y1="759.8" x2="143.5" y2="848.25" stroke="#ee861f" stroke-width="1.6" />
<line x1="145.4" y1="930.34" x2="146.2" y2="1015.8" stroke="#ee861f" stroke-width="1.6" />
<line x1="18.5" y1="885.3" x2="105.43" y2="887.3" stroke="#ee861f" stroke-width="1.6" />
<line x1="185.97" y1="889.8" x2="264.9" y2="890.3" stroke="#ee861f" stroke-width="1.6" />
<ellipse cx="146.2" cy="889.3" rx="40.77" ry="39.37" fill="none" stroke="#ee861f" stroke-width="1.6"/>
<ellipse cx="160.43" cy="775.28" rx="7" ry="7.6" fill="none" stroke="#ee861f" stroke-width="1.4"/>
<ellipse cx="193.2" cy="786.39" rx="7" ry="7.6" fill="none" stroke="#ee861f" stroke-width="1.4"/>
<ellipse cx="221.08" cy="807.53" rx="7" ry="7.6" fill="none" stroke="#ee861f" stroke-width="1.4"/>
<ellipse cx="241.33" cy="836.62" rx="7" ry="7.6" fill="none" stroke="#ee861f" stroke-width="1.4"/>
<ellipse cx="251.98" cy="870.82" rx="7" ry="7.6" fill="none" stroke="#ee861f" stroke-width="1.4"/>
<ellipse cx="251.98" cy="906.78" rx="7" ry="7.6" fill="none" stroke="#ee861f" stroke-width="1.4"/>
<ellipse cx="241.33" cy="940.98" rx="7" ry="7.6" fill="none" stroke="#ee861f" stroke-width="1.4"/>
<ellipse cx="221.08" cy="970.07" rx="7" ry="7.6" fill="none" stroke="#ee861f" stroke-width="1.4"/>
<ellipse cx="193.2" cy="991.21" rx="7" ry="7.6" fill="none" stroke="#ee861f" stroke-width="1.4"/>
<ellipse cx="160.43" cy="1002.32" rx="7" ry="7.6" fill="none" stroke="#ee861f" stroke-width="1.4"/>
<ellipse cx="125.97" cy="1002.32" rx="7" ry="7.6" fill="none" stroke="#ee861f" stroke-width="1.4"/>
<ellipse cx="93.2" cy="991.21" rx="7" ry="7.6" fill="none" stroke="#ee861f" stroke-width="1.4"/>
<ellipse cx="65.32" cy="970.07" rx="7" ry="7.6" fill="none" stroke="#ee861f" stroke-width="1.4"/>
<ellipse cx="45.07" cy="940.98" rx="7" ry="7.6" fill="none" stroke="#ee861f" stroke-width="1.4"/>
<ellipse cx="34.42" cy="906.78" rx="7" ry="7.6" fill="none" stroke="#ee861f" stroke-width="1.4"/>
<ellipse cx="34.42" cy="870.82" rx="7" ry="7.6" fill="none" stroke="#ee861f" stroke-width="1.4"/>
<ellipse cx="45.07" cy="836.62" rx="7" ry="7.6" fill="none" stroke="#ee861f" stroke-width="1.4"/>
<ellipse cx="65.32" cy="807.53" rx="7" ry="7.6" fill="none" stroke="#ee861f" stroke-width="1.4"/>
<ellipse cx="93.2" cy="786.39" rx="7" ry="7.6" fill="none" stroke="#ee861f" stroke-width="1.4"/>
<ellipse cx="125.97" cy="775.28" rx="7" ry="7.6" fill="none" stroke="#ee861f" stroke-width="1.4"/>
<ellipse cx="214.17" cy="958.35" rx="22" ry="19.5" fill="none" stroke="#ee861f" stroke-width="1.4"/>
<rect x="8.9" y="1072.7" width="257" height="20.5" fill="url(#cbar)" stroke="none" stroke-width="1"/>
<text x="12.9" y="1087.05" font-size="11.28" font-weight="bold" text-anchor="start" fill="#e8f0ff" >0s</text>
<text x="262.9" y="1087.05" font-size="11.28" font-weight="bold" text-anchor="end" fill="#fff" >~8.1s</text>
</g>
<g id="panel_e">
<text transform="translate(343.76 505.34) scale(0.5596 0.5618)" font-size="100" fill="#231f20">e</text>
<line x1="397.6" y1="617.5" x2="397.6" y2="909.2" stroke="#222" stroke-width="1" />
<line x1="387" y1="908.7" x2="397.6" y2="908.7" stroke="#222" stroke-width="1" />
<line x1="387" y1="811.8" x2="397.6" y2="811.8" stroke="#222" stroke-width="1" />
<line x1="387" y1="714.9" x2="397.6" y2="714.9" stroke="#222" stroke-width="1" />
<line x1="387" y1="618" x2="397.6" y2="618" stroke="#222" stroke-width="1" />
<line x1="392.1" y1="860.25" x2="397.6" y2="860.25" stroke="#222" stroke-width="1" />
<line x1="392.1" y1="763.35" x2="397.6" y2="763.35" stroke="#222" stroke-width="1" />
<line x1="392.1" y1="666.45" x2="397.6" y2="666.45" stroke="#222" stroke-width="1" />
<text x="382.5" y="916.4" font-size="21.5" font-weight="bold" text-anchor="end" fill="#000" >0</text>
<text x="382.5" y="819.5" font-size="21.5" font-weight="bold" text-anchor="end" fill="#000" >5</text>
<text x="382.5" y="722.6" font-size="21.5" font-weight="bold" text-anchor="end" fill="#000" >10</text>
<text x="382.5" y="625.7" font-size="21.5" font-weight="bold" text-anchor="end" fill="#000" >15</text>
<line x1="387" y1="908.7" x2="834.4" y2="908.7" stroke="#222" stroke-width="1" />
<rect x="460.3" y="771" width="123.5" height="137.7" fill="#b3f5e0" stroke="#222" stroke-width="1"/>
<rect x="647.1" y="811.4" width="123.8" height="97.3" fill="#1197b2" stroke="#222" stroke-width="1"/>
<line x1="521.7" y1="758.2" x2="521.7" y2="771" stroke="#222" stroke-width="1" />
<line x1="490.5" y1="758.2" x2="552.9" y2="758.2" stroke="#222" stroke-width="1" />
<line x1="708.8" y1="798" x2="708.8" y2="811.4" stroke="#222" stroke-width="1" />
<line x1="677.6" y1="798" x2="740" y2="798" stroke="#222" stroke-width="1" />
<line x1="521.7" y1="908.7" x2="521.7" y2="920.7" stroke="#222" stroke-width="1" />
<text x="519.7" y="944" font-size="21.5" font-weight="bold" text-anchor="middle" fill="#000" >Sham</text>
<line x1="708.5" y1="908.7" x2="708.5" y2="920.7" stroke="#222" stroke-width="1" />
<text x="708.5" y="944" font-size="21.5" font-weight="bold" text-anchor="middle" fill="#000" >HF-HI</text>
<text x="345" y="762.8" font-size="23.8" font-weight="bold" text-anchor="middle" fill="#000" transform="rotate(-90 345 762.8)" >Number of entries</text>
<text x="710" y="682.5" font-size="34" font-weight="bold" text-anchor="middle" fill="#000" >*</text>
<circle cx="521.9" cy="637.38" r="5.6" fill="none" stroke="#111" stroke-width="1"/>
<circle cx="521.9" cy="676.14" r="5.6" fill="none" stroke="#111" stroke-width="1"/>
<circle cx="521.9" cy="714.9" r="5.6" fill="none" stroke="#111" stroke-width="1"/>
<circle cx="510.6" cy="734.28" r="5.6" fill="none" stroke="#111" stroke-width="1"/>
<circle cx="533.2" cy="734.28" r="5.6" fill="none" stroke="#111" stroke-width="1"/>
<circle cx="510.6" cy="753.66" r="5.6" fill="none" stroke="#111" stroke-width="1"/>
<circle cx="533.2" cy="753.66" r="5.6" fill="none" stroke="#111" stroke-width="1"/>
<circle cx="465.4" cy="773.04" r="5.6" fill="none" stroke="#111" stroke-width="1"/>
<circle cx="488" cy="773.04" r="5.6" fill="none" stroke="#111" stroke-width="1"/>
<circle cx="510.6" cy="773.04" r="5.6" fill="none" stroke="#111" stroke-width="1"/>
<circle cx="533.2" cy="773.04" r="5.6" fill="none" stroke="#111" stroke-width="1"/>
<circle cx="555.8" cy="773.04" r="5.6" fill="none" stroke="#111" stroke-width="1"/>
<circle cx="578.4" cy="773.04" r="5.6" fill="none" stroke="#111" stroke-width="1"/>
<circle cx="521.9" cy="792.42" r="5.6" fill="none" stroke="#111" stroke-width="1"/>
<circle cx="499.3" cy="811.8" r="5.6" fill="none" stroke="#111" stroke-width="1"/>
<circle cx="521.9" cy="811.8" r="5.6" fill="none" stroke="#111" stroke-width="1"/>
<circle cx="544.5" cy="811.8" r="5.6" fill="none" stroke="#111" stroke-width="1"/>
<circle cx="521.9" cy="831.18" r="5.6" fill="none" stroke="#111" stroke-width="1"/>
<circle cx="510.6" cy="850.56" r="5.6" fill="none" stroke="#111" stroke-width="1"/>
<circle cx="533.2" cy="850.56" r="5.6" fill="none" stroke="#111" stroke-width="1"/>
<rect x="691.75" y="690.02" width="11" height="11" fill="none" stroke="#111" stroke-width="1"/>
<rect x="714.85" y="690.02" width="11" height="11" fill="none" stroke="#111" stroke-width="1"/>
<rect x="703.3" y="709.4" width="11" height="11" fill="none" stroke="#111" stroke-width="1"/>
<rect x="703.3" y="748.16" width="11" height="11" fill="none" stroke="#111" stroke-width="1"/>
<rect x="703.3" y="767.54" width="11" height="11" fill="none" stroke="#111" stroke-width="1"/>
<rect x="691.75" y="786.92" width="11" height="11" fill="none" stroke="#111" stroke-width="1"/>
<rect x="714.85" y="786.92" width="11" height="11" fill="none" stroke="#111" stroke-width="1"/>
<rect x="680.2" y="806.3" width="11" height="11" fill="none" stroke="#111" stroke-width="1"/>
<rect x="703.3" y="806.3" width="11" height="11" fill="none" stroke="#111" stroke-width="1"/>
<rect x="726.4" y="806.3" width="11" height="11" fill="none" stroke="#111" stroke-width="1"/>
<rect x="668.65" y="825.68" width="11" height="11" fill="none" stroke="#111" stroke-width="1"/>
<rect x="691.75" y="825.68" width="11" height="11" fill="none" stroke="#111" stroke-width="1"/>
<rect x="714.85" y="825.68" width="11" height="11" fill="none" stroke="#111" stroke-width="1"/>
<rect x="737.95" y="825.68" width="11" height="11" fill="none" stroke="#111" stroke-width="1"/>
<rect x="703.3" y="845.06" width="11" height="11" fill="none" stroke="#111" stroke-width="1"/>
<rect x="680.2" y="864.44" width="11" height="11" fill="none" stroke="#111" stroke-width="1"/>
<rect x="703.3" y="864.44" width="11" height="11" fill="none" stroke="#111" stroke-width="1"/>
<rect x="726.4" y="864.44" width="11" height="11" fill="none" stroke="#111" stroke-width="1"/>
<rect x="691.75" y="883.82" width="11" height="11" fill="none" stroke="#111" stroke-width="1"/>
<rect x="714.85" y="883.82" width="11" height="11" fill="none" stroke="#111" stroke-width="1"/>
</g>
<g id="panel_f">
<text transform="translate(873.61 505.4) scale(0.7283 0.6110)" font-size="100" fill="#231f20">f</text>
<line x1="924.4" y1="650.7" x2="924.4" y2="906.2" stroke="#222" stroke-width="1.6" />
<line x1="912.2" y1="841.92" x2="924.4" y2="841.92" stroke="#222" stroke-width="1.6" />
<line x1="912.2" y1="778.45" x2="924.4" y2="778.45" stroke="#222" stroke-width="1.6" />
<line x1="912.2" y1="714.98" x2="924.4" y2="714.98" stroke="#222" stroke-width="1.6" />
<line x1="918.7" y1="873.66" x2="924.4" y2="873.66" stroke="#222" stroke-width="1.6" />
<line x1="918.7" y1="810.19" x2="924.4" y2="810.19" stroke="#222" stroke-width="1.6" />
<line x1="918.7" y1="746.71" x2="924.4" y2="746.71" stroke="#222" stroke-width="1.6" />
<line x1="918.7" y1="683.24" x2="924.4" y2="683.24" stroke="#222" stroke-width="1.6" />
<line x1="917" y1="651.5" x2="931.6" y2="651.5" stroke="#222" stroke-width="1.6" />
<text x="908.9" y="913.2" font-size="21.8" font-weight="bold" text-anchor="end" fill="#000" >0</text>
<text x="908.9" y="849.72" font-size="21.8" font-weight="bold" text-anchor="end" fill="#000" >25</text>
<text x="908.9" y="786.25" font-size="21.8" font-weight="bold" text-anchor="end" fill="#000" >50</text>
<text x="908.9" y="722.77" font-size="21.8" font-weight="bold" text-anchor="end" fill="#000" >75</text>
<text x="908.9" y="659.3" font-size="21.8" font-weight="bold" text-anchor="end" fill="#000" >100</text>
<line x1="924.4" y1="610" x2="924.4" y2="630.1" stroke="#222" stroke-width="1.6" />
<line x1="912.6" y1="610.8" x2="924.4" y2="610.8" stroke="#222" stroke-width="1.6" />
<line x1="918.4" y1="620" x2="924.4" y2="620" stroke="#222" stroke-width="1.6" />
<line x1="917" y1="629.3" x2="931.6" y2="629.3" stroke="#222" stroke-width="1.6" />
<text x="908.9" y="618.6" font-size="21.8" font-weight="bold" text-anchor="end" fill="#000" >170</text>
<line x1="912.9" y1="905.4" x2="1439.8" y2="905.4" stroke="#222" stroke-width="1.6" />
<line x1="981" y1="905.4" x2="981" y2="914.9" stroke="#222" stroke-width="1.6" />
<text x="982.5" y="941.2" font-size="21.8" font-weight="bold" text-anchor="middle" fill="#000" >SE (Escape)</text>
<line x1="1114.4" y1="905.4" x2="1114.4" y2="914.9" stroke="#222" stroke-width="1.6" />
<text x="1115.9" y="941.2" font-size="21.8" font-weight="bold" text-anchor="middle" fill="#000" >NE</text>
<line x1="1247.7" y1="905.4" x2="1247.7" y2="914.9" stroke="#222" stroke-width="1.6" />
<text x="1249.2" y="941.2" font-size="21.8" font-weight="bold" text-anchor="middle" fill="#000" >SW</text>
<line x1="1381" y1="905.4" x2="1381" y2="914.9" stroke="#222" stroke-width="1.6" />
<text x="1382.5" y="941.2" font-size="21.8" font-weight="bold" text-anchor="middle" fill="#000" >NW</text>
<text x="1181.2" y="976.3" font-size="21.8" font-weight="bold" text-anchor="middle" fill="#000" >Zone</text>
<text x="856.5" y="758.5" font-size="23.7" font-weight="bold" text-anchor="middle" fill="#000" transform="rotate(-90 856.5 758.5)" >Time (s)</text>
<line x1="927" y1="792" x2="1440" y2="792" stroke="#222" stroke-width="1.3" stroke-dasharray="1.6 3.4"/>
<rect x="941.2" y="728.1" width="32.1" height="176.7" fill="#b3f5e0" stroke="#333" stroke-width="0.9"/>
<line x1="957.25" y1="713.2" x2="957.25" y2="728.1" stroke="#222" stroke-width="1" />
<line x1="949.25" y1="713.2" x2="965.25" y2="713.2" stroke="#222" stroke-width="1" />
<rect x="990.6" y="778.7" width="33.3" height="126.1" fill="#1197b2" stroke="#333" stroke-width="0.9"/>
<line x1="1007.25" y1="768" x2="1007.25" y2="778.7" stroke="#222" stroke-width="1" />
<line x1="999.25" y1="768" x2="1015.25" y2="768" stroke="#222" stroke-width="1" />
<rect x="1074.5" y="808.3" width="32.1" height="96.5" fill="#b3f5e0" stroke="#333" stroke-width="0.9"/>
<line x1="1090.55" y1="797.9" x2="1090.55" y2="808.3" stroke="#222" stroke-width="1" />
<line x1="1082.55" y1="797.9" x2="1098.55" y2="797.9" stroke="#222" stroke-width="1" />
<rect x="1123.6" y="837.1" width="33.3" height="67.7" fill="#1197b2" stroke="#333" stroke-width="0.9"/>
<line x1="1140.25" y1="825.5" x2="1140.25" y2="837.1" stroke="#222" stroke-width="1" />
<line x1="1132.25" y1="825.5" x2="1148.25" y2="825.5" stroke="#222" stroke-width="1" />
<rect x="1206.3" y="830.8" width="32.9" height="74" fill="#b3f5e0" stroke="#333" stroke-width="0.9"/>
<line x1="1222.75" y1="821.5" x2="1222.75" y2="830.8" stroke="#222" stroke-width="1" />
<line x1="1214.75" y1="821.5" x2="1230.75" y2="821.5" stroke="#222" stroke-width="1" />
<rect x="1257" y="792" width="32.8" height="112.8" fill="#1197b2" stroke="#333" stroke-width="0.9"/>
<line x1="1273.4" y1="779.2" x2="1273.4" y2="792" stroke="#222" stroke-width="1" />
<line x1="1265.4" y1="779.2" x2="1281.4" y2="779.2" stroke="#222" stroke-width="1" />
<rect x="1340" y="808.3" width="32.9" height="96.5" fill="#b3f5e0" stroke="#333" stroke-width="0.9"/>
<line x1="1356.45" y1="797.9" x2="1356.45" y2="808.3" stroke="#222" stroke-width="1" />
<line x1="1348.45" y1="797.9" x2="1364.45" y2="797.9" stroke="#222" stroke-width="1" />
<rect x="1389.9" y="792" width="33.3" height="112.8" fill="#1197b2" stroke="#333" stroke-width="0.9"/>
<line x1="1406.55" y1="778.4" x2="1406.55" y2="792" stroke="#222" stroke-width="1" />
<line x1="1398.55" y1="778.4" x2="1414.55" y2="778.4" stroke="#222" stroke-width="1" />
<rect x="1364.4" y="586.6" width="30.3" height="14.8" fill="#b3f5e0" stroke="#555" stroke-width="1"/>
<rect x="1364.4" y="626.3" width="30.3" height="14.1" fill="#1197b2" stroke="#555" stroke-width="1"/>
<text x="1412.8" y="602.5" font-size="23" font-weight="normal" text-anchor="start" fill="#000" >Sham</text>
<text x="1412.8" y="641.7" font-size="23" font-weight="normal" text-anchor="start" fill="#000" >HF-HI</text>
<path d="M956.7,610 V596.2 H1013.5 V610" fill="none" stroke="#111" stroke-width="1.4"/>
<text x="988.7" y="602" font-size="32.5" font-weight="bold" text-anchor="middle" fill="#000" letter-spacing="2.8">**</text>
<circle cx="957.11" cy="626.66" r="2.9" fill="none" stroke="#111" stroke-width="0.9"/>
<circle cx="952.86" cy="679.18" r="2.9" fill="none" stroke="#111" stroke-width="0.9"/>
<circle cx="961.53" cy="683.27" r="2.9" fill="none" stroke="#111" stroke-width="0.9"/>
<circle cx="957.11" cy="690.15" r="2.9" fill="none" stroke="#111" stroke-width="0.9"/>
<circle cx="961.53" cy="716.82" r="2.9" fill="none" stroke="#111" stroke-width="0.9"/>
<circle cx="952.86" cy="721.4" r="2.9" fill="none" stroke="#111" stroke-width="0.9"/>
<circle cx="943.86" cy="725.17" r="2.9" fill="none" stroke="#111" stroke-width="0.9"/>
<circle cx="970.69" cy="725.66" r="2.9" fill="none" stroke="#111" stroke-width="0.9"/>
<circle cx="957.11" cy="738.26" r="2.9" fill="none" stroke="#111" stroke-width="0.9"/>
<circle cx="952.86" cy="744.97" r="2.9" fill="none" stroke="#111" stroke-width="0.9"/>
<circle cx="961.53" cy="746.6" r="2.9" fill="none" stroke="#111" stroke-width="0.9"/>
<circle cx="943.86" cy="749.88" r="2.9" fill="none" stroke="#111" stroke-width="0.9"/>
<circle cx="970.69" cy="749.38" r="2.9" fill="none" stroke="#111" stroke-width="0.9"/>
<circle cx="952.86" cy="752" r="2.9" fill="none" stroke="#111" stroke-width="0.9"/>
<circle cx="952.86" cy="759.53" r="2.9" fill="none" stroke="#111" stroke-width="0.9"/>
<circle cx="961.53" cy="759.53" r="2.9" fill="none" stroke="#111" stroke-width="0.9"/>
<circle cx="957.11" cy="766.4" r="2.9" fill="none" stroke="#111" stroke-width="0.9"/>
<circle cx="952.86" cy="777.53" r="2.9" fill="none" stroke="#111" stroke-width="0.9"/>
<circle cx="961.53" cy="779.82" r="2.9" fill="none" stroke="#111" stroke-width="0.9"/>
<circle cx="957.11" cy="809.6" r="2.9" fill="none" stroke="#111" stroke-width="0.9"/>
<circle cx="1089.66" cy="669.69" r="2.9" fill="none" stroke="#111" stroke-width="0.9"/>
<circle cx="1089.66" cy="759.04" r="2.9" fill="none" stroke="#111" stroke-width="0.9"/>
<circle cx="1085.73" cy="777.53" r="2.9" fill="none" stroke="#111" stroke-width="0.9"/>
<circle cx="1093.09" cy="776.55" r="2.9" fill="none" stroke="#111" stroke-width="0.9"/>
<circle cx="1082.62" cy="787.19" r="2.9" fill="none" stroke="#111" stroke-width="0.9"/>
<circle cx="1096.86" cy="784.73" r="2.9" fill="none" stroke="#111" stroke-width="0.9"/>
<circle cx="1089.66" cy="792.42" r="2.9" fill="none" stroke="#111" stroke-width="0.9"/>
<circle cx="1082.62" cy="807.48" r="2.9" fill="none" stroke="#111" stroke-width="0.9"/>
<circle cx="1096.86" cy="811.08" r="2.9" fill="none" stroke="#111" stroke-width="0.9"/>
<circle cx="1089.66" cy="816.15" r="2.9" fill="none" stroke="#111" stroke-width="0.9"/>
<circle cx="1077.55" cy="821.55" r="2.9" fill="none" stroke="#111" stroke-width="0.9"/>
<circle cx="1096.86" cy="823.02" r="2.9" fill="none" stroke="#111" stroke-width="0.9"/>
<circle cx="1077.55" cy="827.28" r="2.9" fill="none" stroke="#111" stroke-width="0.9"/>
<circle cx="1082.62" cy="827.28" r="2.9" fill="none" stroke="#111" stroke-width="0.9"/>
<circle cx="1089.66" cy="825.64" r="2.9" fill="none" stroke="#111" stroke-width="0.9"/>
<circle cx="1096.86" cy="830.55" r="2.9" fill="none" stroke="#111" stroke-width="0.9"/>
<circle cx="1089.66" cy="832.68" r="2.9" fill="none" stroke="#111" stroke-width="0.9"/>
<circle cx="1089.66" cy="838.73" r="2.9" fill="none" stroke="#111" stroke-width="0.9"/>
<circle cx="1085.73" cy="881.77" r="2.9" fill="none" stroke="#111" stroke-width="0.9"/>
<circle cx="1093.09" cy="878.33" r="2.9" fill="none" stroke="#111" stroke-width="0.9"/>
<rect x="1004.61" y="695.27" width="5.8" height="5.8" fill="none" stroke="#111" stroke-width="0.9"/>
<rect x="1004.61" y="706.23" width="5.8" height="5.8" fill="none" stroke="#111" stroke-width="0.9"/>
<rect x="1004.61" y="723.41" width="5.8" height="5.8" fill="none" stroke="#111" stroke-width="0.9"/>
<rect x="1004.61" y="734.54" width="5.8" height="5.8" fill="none" stroke="#111" stroke-width="0.9"/>
<rect x="1004.61" y="744.36" width="5.8" height="5.8" fill="none" stroke="#111" stroke-width="0.9"/>
<rect x="997.41" y="753.36" width="5.8" height="5.8" fill="none" stroke="#111" stroke-width="0.9"/>
<rect x="1011.16" y="754.83" width="5.8" height="5.8" fill="none" stroke="#111" stroke-width="0.9"/>
<rect x="1004.61" y="763.5" width="5.8" height="5.8" fill="none" stroke="#111" stroke-width="0.9"/>
<rect x="990.54" y="768.09" width="5.8" height="5.8" fill="none" stroke="#111" stroke-width="0.9"/>
<rect x="1018.52" y="766.78" width="5.8" height="5.8" fill="none" stroke="#111" stroke-width="0.9"/>
<rect x="1004.61" y="772.01" width="5.8" height="5.8" fill="none" stroke="#111" stroke-width="0.9"/>
<rect x="1004.61" y="777.74" width="5.8" height="5.8" fill="none" stroke="#111" stroke-width="0.9"/>
<rect x="990.54" y="794.43" width="5.8" height="5.8" fill="none" stroke="#111" stroke-width="0.9"/>
<rect x="1004.61" y="799.83" width="5.8" height="5.8" fill="none" stroke="#111" stroke-width="0.9"/>
<rect x="990.54" y="805.56" width="5.8" height="5.8" fill="none" stroke="#111" stroke-width="0.9"/>
<rect x="1004.61" y="808.01" width="5.8" height="5.8" fill="none" stroke="#111" stroke-width="0.9"/>
<rect x="1018.52" y="805.23" width="5.8" height="5.8" fill="none" stroke="#111" stroke-width="0.9"/>
<rect x="1004.61" y="826.01" width="5.8" height="5.8" fill="none" stroke="#111" stroke-width="0.9"/>
<rect x="1004.61" y="848.92" width="5.8" height="5.8" fill="none" stroke="#111" stroke-width="0.9"/>
<rect x="1004.61" y="870.2" width="5.8" height="5.8" fill="none" stroke="#111" stroke-width="0.9"/>
<rect x="1137.65" y="722.59" width="5.8" height="5.8" fill="none" stroke="#111" stroke-width="0.9"/>
<rect x="1123.74" y="795.41" width="5.8" height="5.8" fill="none" stroke="#111" stroke-width="0.9"/>
<rect x="1133.23" y="798.19" width="5.8" height="5.8" fill="none" stroke="#111" stroke-width="0.9"/>
<rect x="1142.56" y="794.1" width="5.8" height="5.8" fill="none" stroke="#111" stroke-width="0.9"/>
<rect x="1151.89" y="796.56" width="5.8" height="5.8" fill="none" stroke="#111" stroke-width="0.9"/>
<rect x="1133.23" y="807.36" width="5.8" height="5.8" fill="none" stroke="#111" stroke-width="0.9"/>
<rect x="1142.56" y="805.89" width="5.8" height="5.8" fill="none" stroke="#111" stroke-width="0.9"/>
<rect x="1133.23" y="820.12" width="5.8" height="5.8" fill="none" stroke="#111" stroke-width="0.9"/>
<rect x="1142.56" y="822.74" width="5.8" height="5.8" fill="none" stroke="#111" stroke-width="0.9"/>
<rect x="1123.74" y="826.5" width="5.8" height="5.8" fill="none" stroke="#111" stroke-width="0.9"/>
<rect x="1133.23" y="828.47" width="5.8" height="5.8" fill="none" stroke="#111" stroke-width="0.9"/>
<rect x="1137.65" y="841.56" width="5.8" height="5.8" fill="none" stroke="#111" stroke-width="0.9"/>
<rect x="1133.23" y="860.05" width="5.8" height="5.8" fill="none" stroke="#111" stroke-width="0.9"/>
<rect x="1142.56" y="858.74" width="5.8" height="5.8" fill="none" stroke="#111" stroke-width="0.9"/>
<rect x="1137.65" y="866.6" width="5.8" height="5.8" fill="none" stroke="#111" stroke-width="0.9"/>
<rect x="1137.65" y="873.8" width="5.8" height="5.8" fill="none" stroke="#111" stroke-width="0.9"/>
<rect x="1128.65" y="876.74" width="5.8" height="5.8" fill="none" stroke="#111" stroke-width="0.9"/>
<rect x="1146.98" y="878.38" width="5.8" height="5.8" fill="none" stroke="#111" stroke-width="0.9"/>
<rect x="1137.65" y="896.38" width="5.8" height="5.8" fill="none" stroke="#111" stroke-width="0.9"/>
<rect x="1137.65" y="903.25" width="5.8" height="5.8" fill="none" stroke="#111" stroke-width="0.9"/>
<circle cx="1222.55" cy="740.06" r="2.9" fill="none" stroke="#111" stroke-width="0.9"/>
<circle cx="1222.55" cy="770.66" r="2.9" fill="none" stroke="#111" stroke-width="0.9"/>
<circle cx="1222.55" cy="791.28" r="2.9" fill="none" stroke="#111" stroke-width="0.9"/>
<circle cx="1208.96" cy="799.79" r="2.9" fill="none" stroke="#111" stroke-width="0.9"/>
<circle cx="1236.62" cy="805.35" r="2.9" fill="none" stroke="#111" stroke-width="0.9"/>
<circle cx="1222.55" cy="809.28" r="2.9" fill="none" stroke="#111" stroke-width="0.9"/>
<circle cx="1222.55" cy="818.28" r="2.9" fill="none" stroke="#111" stroke-width="0.9"/>
<circle cx="1208.96" cy="824.99" r="2.9" fill="none" stroke="#111" stroke-width="0.9"/>
<circle cx="1222.55" cy="829.73" r="2.9" fill="none" stroke="#111" stroke-width="0.9"/>
<circle cx="1208.96" cy="833.82" r="2.9" fill="none" stroke="#111" stroke-width="0.9"/>
<circle cx="1222.55" cy="841.51" r="2.9" fill="none" stroke="#111" stroke-width="0.9"/>
<circle cx="1236.62" cy="840.37" r="2.9" fill="none" stroke="#111" stroke-width="0.9"/>
<circle cx="1208.96" cy="853.13" r="2.9" fill="none" stroke="#111" stroke-width="0.9"/>
<circle cx="1236.62" cy="851.82" r="2.9" fill="none" stroke="#111" stroke-width="0.9"/>
<circle cx="1222.55" cy="855.42" r="2.9" fill="none" stroke="#111" stroke-width="0.9"/>
<circle cx="1208.96" cy="860.17" r="2.9" fill="none" stroke="#111" stroke-width="0.9"/>
<circle cx="1236.62" cy="861.64" r="2.9" fill="none" stroke="#111" stroke-width="0.9"/>
<circle cx="1222.55" cy="864.1" r="2.9" fill="none" stroke="#111" stroke-width="0.9"/>
<circle cx="1222.55" cy="877.19" r="2.9" fill="none" stroke="#111" stroke-width="0.9"/>
<circle cx="1222.55" cy="887.01" r="2.9" fill="none" stroke="#111" stroke-width="0.9"/>
<circle cx="1351.82" cy="721.89" r="2.9" fill="none" stroke="#111" stroke-width="0.9"/>
<circle cx="1361.31" cy="726.31" r="2.9" fill="none" stroke="#111" stroke-width="0.9"/>
<circle cx="1356.4" cy="758.22" r="2.9" fill="none" stroke="#111" stroke-width="0.9"/>
<circle cx="1351.82" cy="769.02" r="2.9" fill="none" stroke="#111" stroke-width="0.9"/>
<circle cx="1361.31" cy="770" r="2.9" fill="none" stroke="#111" stroke-width="0.9"/>
<circle cx="1356.4" cy="776.22" r="2.9" fill="none" stroke="#111" stroke-width="0.9"/>
<circle cx="1361.31" cy="801.75" r="2.9" fill="none" stroke="#111" stroke-width="0.9"/>
<circle cx="1342.82" cy="804.86" r="2.9" fill="none" stroke="#111" stroke-width="0.9"/>
<circle cx="1370.64" cy="804.2" r="2.9" fill="none" stroke="#111" stroke-width="0.9"/>
<circle cx="1351.82" cy="808.29" r="2.9" fill="none" stroke="#111" stroke-width="0.9"/>
<circle cx="1361.31" cy="809.28" r="2.9" fill="none" stroke="#111" stroke-width="0.9"/>
<circle cx="1351.82" cy="815.82" r="2.9" fill="none" stroke="#111" stroke-width="0.9"/>
<circle cx="1361.31" cy="821.39" r="2.9" fill="none" stroke="#111" stroke-width="0.9"/>
<circle cx="1351.82" cy="824.66" r="2.9" fill="none" stroke="#111" stroke-width="0.9"/>
<circle cx="1361.31" cy="830.22" r="2.9" fill="none" stroke="#111" stroke-width="0.9"/>
<circle cx="1351.82" cy="840.86" r="2.9" fill="none" stroke="#111" stroke-width="0.9"/>
<circle cx="1361.31" cy="842" r="2.9" fill="none" stroke="#111" stroke-width="0.9"/>
<circle cx="1356.4" cy="851.5" r="2.9" fill="none" stroke="#111" stroke-width="0.9"/>
<circle cx="1356.4" cy="887.01" r="2.9" fill="none" stroke="#111" stroke-width="0.9"/>
<circle cx="1356.4" cy="905.99" r="2.9" fill="none" stroke="#111" stroke-width="0.9"/>
<rect x="1284.61" y="680.37" width="5.8" height="5.8" fill="none" stroke="#111" stroke-width="0.9"/>
<rect x="1270.54" y="685.77" width="5.8" height="5.8" fill="none" stroke="#111" stroke-width="0.9"/>
<rect x="1270.54" y="709.01" width="5.8" height="5.8" fill="none" stroke="#111" stroke-width="0.9"/>
<rect x="1270.54" y="719.98" width="5.8" height="5.8" fill="none" stroke="#111" stroke-width="0.9"/>
<rect x="1277.41" y="738.47" width="5.8" height="5.8" fill="none" stroke="#111" stroke-width="0.9"/>
<rect x="1263.5" y="741.25" width="5.8" height="5.8" fill="none" stroke="#111" stroke-width="0.9"/>
<rect x="1270.54" y="778.56" width="5.8" height="5.8" fill="none" stroke="#111" stroke-width="0.9"/>
<rect x="1256.63" y="782.65" width="5.8" height="5.8" fill="none" stroke="#111" stroke-width="0.9"/>
<rect x="1270.54" y="785.92" width="5.8" height="5.8" fill="none" stroke="#111" stroke-width="0.9"/>
<rect x="1256.63" y="788.7" width="5.8" height="5.8" fill="none" stroke="#111" stroke-width="0.9"/>
<rect x="1270.54" y="802.61" width="5.8" height="5.8" fill="none" stroke="#111" stroke-width="0.9"/>
<rect x="1263.5" y="815.38" width="5.8" height="5.8" fill="none" stroke="#111" stroke-width="0.9"/>
<rect x="1277.41" y="816.69" width="5.8" height="5.8" fill="none" stroke="#111" stroke-width="0.9"/>
<rect x="1270.54" y="824.38" width="5.8" height="5.8" fill="none" stroke="#111" stroke-width="0.9"/>
<rect x="1270.54" y="836.65" width="5.8" height="5.8" fill="none" stroke="#111" stroke-width="0.9"/>
<rect x="1270.54" y="846.14" width="5.8" height="5.8" fill="none" stroke="#111" stroke-width="0.9"/>
<rect x="1256.63" y="850.56" width="5.8" height="5.8" fill="none" stroke="#111" stroke-width="0.9"/>
<rect x="1284.61" y="852.52" width="5.8" height="5.8" fill="none" stroke="#111" stroke-width="0.9"/>
<rect x="1270.54" y="854.65" width="5.8" height="5.8" fill="none" stroke="#111" stroke-width="0.9"/>
<rect x="1270.54" y="877.89" width="5.8" height="5.8" fill="none" stroke="#111" stroke-width="0.9"/>
<rect x="1403.74" y="668.43" width="5.8" height="5.8" fill="none" stroke="#111" stroke-width="0.9"/>
<rect x="1403.74" y="682.5" width="5.8" height="5.8" fill="none" stroke="#111" stroke-width="0.9"/>
<rect x="1396.7" y="705.9" width="5.8" height="5.8" fill="none" stroke="#111" stroke-width="0.9"/>
<rect x="1410.61" y="707.21" width="5.8" height="5.8" fill="none" stroke="#111" stroke-width="0.9"/>
<rect x="1403.74" y="744.52" width="5.8" height="5.8" fill="none" stroke="#111" stroke-width="0.9"/>
<rect x="1403.74" y="753.85" width="5.8" height="5.8" fill="none" stroke="#111" stroke-width="0.9"/>
<rect x="1417.65" y="769.89" width="5.8" height="5.8" fill="none" stroke="#111" stroke-width="0.9"/>
<rect x="1403.74" y="774.79" width="5.8" height="5.8" fill="none" stroke="#111" stroke-width="0.9"/>
<rect x="1403.74" y="786.25" width="5.8" height="5.8" fill="none" stroke="#111" stroke-width="0.9"/>
<rect x="1403.74" y="803.59" width="5.8" height="5.8" fill="none" stroke="#111" stroke-width="0.9"/>
<rect x="1403.74" y="814.23" width="5.8" height="5.8" fill="none" stroke="#111" stroke-width="0.9"/>
<rect x="1417.65" y="819.8" width="5.8" height="5.8" fill="none" stroke="#111" stroke-width="0.9"/>
<rect x="1403.74" y="821.76" width="5.8" height="5.8" fill="none" stroke="#111" stroke-width="0.9"/>
<rect x="1396.7" y="830.43" width="5.8" height="5.8" fill="none" stroke="#111" stroke-width="0.9"/>
<rect x="1410.61" y="832.56" width="5.8" height="5.8" fill="none" stroke="#111" stroke-width="0.9"/>
<rect x="1390.32" y="843.36" width="5.8" height="5.8" fill="none" stroke="#111" stroke-width="0.9"/>
<rect x="1403.74" y="847.29" width="5.8" height="5.8" fill="none" stroke="#111" stroke-width="0.9"/>
<rect x="1403.74" y="858.74" width="5.8" height="5.8" fill="none" stroke="#111" stroke-width="0.9"/>
<rect x="1417.65" y="858.74" width="5.8" height="5.8" fill="none" stroke="#111" stroke-width="0.9"/>
<rect x="1390.32" y="861.69" width="5.8" height="5.8" fill="none" stroke="#111" stroke-width="0.9"/>
</g>
<g id="panel_g">
<text transform="translate(1507.5 505.81) scale(0.6244 0.5758)" font-size="100" fill="#231f20">g</text>
<line x1="1598.7" y1="627.1" x2="1598.7" y2="904.8" stroke="#222" stroke-width="1" />
<line x1="1588.1" y1="904.3" x2="1598.7" y2="904.3" stroke="#222" stroke-width="1" />
<line x1="1588.1" y1="835.12" x2="1598.7" y2="835.12" stroke="#222" stroke-width="1" />
<line x1="1588.1" y1="765.95" x2="1598.7" y2="765.95" stroke="#222" stroke-width="1" />
<line x1="1588.1" y1="696.77" x2="1598.7" y2="696.77" stroke="#222" stroke-width="1" />
<line x1="1588.1" y1="627.6" x2="1598.7" y2="627.6" stroke="#222" stroke-width="1" />
<line x1="1593.2" y1="869.71" x2="1598.7" y2="869.71" stroke="#222" stroke-width="1" />
<line x1="1593.2" y1="800.54" x2="1598.7" y2="800.54" stroke="#222" stroke-width="1" />
<line x1="1593.2" y1="731.36" x2="1598.7" y2="731.36" stroke="#222" stroke-width="1" />
<line x1="1593.2" y1="662.19" x2="1598.7" y2="662.19" stroke="#222" stroke-width="1" />
<text x="1585.6" y="911.32" font-size="19.6" font-weight="bold" text-anchor="end" fill="#000" >0.00</text>
<text x="1585.6" y="842.14" font-size="19.6" font-weight="bold" text-anchor="end" fill="#000" >0.05</text>
<text x="1585.6" y="772.97" font-size="19.6" font-weight="bold" text-anchor="end" fill="#000" >0.10</text>
<text x="1585.6" y="703.79" font-size="19.6" font-weight="bold" text-anchor="end" fill="#000" >0.15</text>
<text x="1585.6" y="634.62" font-size="19.6" font-weight="bold" text-anchor="end" fill="#000" >0.20</text>
<line x1="1588.1" y1="904.3" x2="1994" y2="904.3" stroke="#222" stroke-width="1" />
<rect x="1655.3" y="819.1" width="111.7" height="85.2" fill="#b3f5e0" stroke="#222" stroke-width="1"/>
<rect x="1824.3" y="833.4" width="111.6" height="70.9" fill="#1197b2" stroke="#222" stroke-width="1"/>
<line x1="1711.2" y1="809.4" x2="1711.2" y2="819.1" stroke="#222" stroke-width="1" />
<line x1="1683" y1="809.4" x2="1739.4" y2="809.4" stroke="#222" stroke-width="1" />
<line x1="1879.8" y1="826.4" x2="1879.8" y2="833.4" stroke="#222" stroke-width="1" />
<line x1="1851.8" y1="826.4" x2="1907.8" y2="826.4" stroke="#222" stroke-width="1" />
<line x1="1711.2" y1="904.3" x2="1711.2" y2="915.3" stroke="#222" stroke-width="1" />
<text x="1708.2" y="937.5" font-size="19.6" font-weight="bold" text-anchor="middle" fill="#000" >Sham</text>
<line x1="1879.8" y1="904.3" x2="1879.8" y2="915.3" stroke="#222" stroke-width="1" />
<text x="1879.8" y="937.5" font-size="19.6" font-weight="bold" text-anchor="middle" fill="#000" >HF-HI</text>
<text x="1534.1" y="766" font-size="22.4" font-weight="bold" text-anchor="middle" fill="#000" transform="rotate(-90 1534.1 766)" >Speed (m/s)</text>
<circle cx="1711.18" cy="658.61" r="5.3" fill="none" stroke="#111" stroke-width="1"/>
<circle cx="1711.18" cy="790.95" r="5.3" fill="none" stroke="#111" stroke-width="1"/>
<circle cx="1660.08" cy="813.29" r="5.3" fill="none" stroke="#111" stroke-width="1"/>
<circle cx="1672.65" cy="816.08" r="5.3" fill="none" stroke="#111" stroke-width="1"/>
<circle cx="1736.3" cy="811.89" r="5.3" fill="none" stroke="#111" stroke-width="1"/>
<circle cx="1698.33" cy="819.99" r="5.3" fill="none" stroke="#111" stroke-width="1"/>
<circle cx="1723.74" cy="821.38" r="5.3" fill="none" stroke="#111" stroke-width="1"/>
<circle cx="1749.15" cy="819.99" r="5.3" fill="none" stroke="#111" stroke-width="1"/>
<circle cx="1761.99" cy="818.59" r="5.3" fill="none" stroke="#111" stroke-width="1"/>
<circle cx="1660.08" cy="828.36" r="5.3" fill="none" stroke="#111" stroke-width="1"/>
<circle cx="1672.65" cy="828.36" r="5.3" fill="none" stroke="#111" stroke-width="1"/>
<circle cx="1685.49" cy="824.45" r="5.3" fill="none" stroke="#111" stroke-width="1"/>
<circle cx="1711.18" cy="825.01" r="5.3" fill="none" stroke="#111" stroke-width="1"/>
<circle cx="1736.3" cy="824.73" r="5.3" fill="none" stroke="#111" stroke-width="1"/>
<circle cx="1723.74" cy="833.11" r="5.3" fill="none" stroke="#111" stroke-width="1"/>
<circle cx="1685.49" cy="836.74" r="5.3" fill="none" stroke="#111" stroke-width="1"/>
<circle cx="1711.18" cy="836.46" r="5.3" fill="none" stroke="#111" stroke-width="1"/>
<circle cx="1736.3" cy="838.41" r="5.3" fill="none" stroke="#111" stroke-width="1"/>
<circle cx="1711.18" cy="848.19" r="5.3" fill="none" stroke="#111" stroke-width="1"/>
<circle cx="1711.18" cy="885.04" r="5.3" fill="none" stroke="#111" stroke-width="1"/>
<rect x="1874.51" y="770.57" width="10.6" height="10.6" fill="none" stroke="#111" stroke-width="1"/>
<rect x="1874.51" y="788.72" width="10.6" height="10.6" fill="none" stroke="#111" stroke-width="1"/>
<rect x="1895.73" y="791.51" width="10.6" height="10.6" fill="none" stroke="#111" stroke-width="1"/>
<rect x="1853.57" y="802.12" width="10.6" height="10.6" fill="none" stroke="#111" stroke-width="1"/>
<rect x="1853.57" y="813.57" width="10.6" height="10.6" fill="none" stroke="#111" stroke-width="1"/>
<rect x="1874.51" y="810.5" width="10.6" height="10.6" fill="none" stroke="#111" stroke-width="1"/>
<rect x="1916.67" y="810.5" width="10.6" height="10.6" fill="none" stroke="#111" stroke-width="1"/>
<rect x="1895.73" y="818.88" width="10.6" height="10.6" fill="none" stroke="#111" stroke-width="1"/>
<rect x="1874.51" y="824.46" width="10.6" height="10.6" fill="none" stroke="#111" stroke-width="1"/>
<rect x="1916.67" y="825.86" width="10.6" height="10.6" fill="none" stroke="#111" stroke-width="1"/>
<rect x="1853.57" y="828.65" width="10.6" height="10.6" fill="none" stroke="#111" stroke-width="1"/>
<rect x="1832.35" y="832.83" width="10.6" height="10.6" fill="none" stroke="#111" stroke-width="1"/>
<rect x="1853.57" y="842.89" width="10.6" height="10.6" fill="none" stroke="#111" stroke-width="1"/>
<rect x="1874.51" y="842.89" width="10.6" height="10.6" fill="none" stroke="#111" stroke-width="1"/>
<rect x="1895.73" y="838.7" width="10.6" height="10.6" fill="none" stroke="#111" stroke-width="1"/>
<rect x="1916.67" y="842.89" width="10.6" height="10.6" fill="none" stroke="#111" stroke-width="1"/>
<rect x="1895.73" y="851.26" width="10.6" height="10.6" fill="none" stroke="#111" stroke-width="1"/>
<rect x="1895.73" y="863.83" width="10.6" height="10.6" fill="none" stroke="#111" stroke-width="1"/>
<rect x="1874.51" y="872.48" width="10.6" height="10.6" fill="none" stroke="#111" stroke-width="1"/>
<rect x="1874.51" y="885.04" width="10.6" height="10.6" fill="none" stroke="#111" stroke-width="1"/>
</g>
<g id="panel_h">
<text transform="translate(7.47 1223.7) scale(0.6048 0.6028)" font-size="100" fill="#231f20">h</text>
<line x1="122.5" y1="1292.6" x2="122.5" y2="1578.1" stroke="#222" stroke-width="1" />
<line x1="111.9" y1="1577.6" x2="122.5" y2="1577.6" stroke="#222" stroke-width="1" />
<line x1="111.9" y1="1506.47" x2="122.5" y2="1506.47" stroke="#222" stroke-width="1" />
<line x1="111.9" y1="1435.35" x2="122.5" y2="1435.35" stroke="#222" stroke-width="1" />
<line x1="111.9" y1="1364.22" x2="122.5" y2="1364.22" stroke="#222" stroke-width="1" />
<line x1="111.9" y1="1293.1" x2="122.5" y2="1293.1" stroke="#222" stroke-width="1" />
<line x1="117" y1="1542.04" x2="122.5" y2="1542.04" stroke="#222" stroke-width="1" />
<line x1="117" y1="1470.91" x2="122.5" y2="1470.91" stroke="#222" stroke-width="1" />
<line x1="117" y1="1399.79" x2="122.5" y2="1399.79" stroke="#222" stroke-width="1" />
<line x1="117" y1="1328.66" x2="122.5" y2="1328.66" stroke="#222" stroke-width="1" />
<text x="107.9" y="1585.12" font-size="21" font-weight="bold" text-anchor="end" fill="#000" >0</text>
<text x="107.9" y="1513.99" font-size="21" font-weight="bold" text-anchor="end" fill="#000" >10</text>
<text x="107.9" y="1442.87" font-size="21" font-weight="bold" text-anchor="end" fill="#000" >20</text>
<text x="107.9" y="1371.74" font-size="21" font-weight="bold" text-anchor="end" fill="#000" >30</text>
<text x="107.9" y="1300.62" font-size="21" font-weight="bold" text-anchor="end" fill="#000" >40</text>
<line x1="111.9" y1="1577.6" x2="550.1" y2="1577.6" stroke="#222" stroke-width="1" />
<rect x="184.5" y="1499.4" width="120.2" height="78.2" fill="#b3f5e0" stroke="#222" stroke-width="1"/>
<rect x="367" y="1512.1" width="120.6" height="65.5" fill="#1197b2" stroke="#222" stroke-width="1"/>
<line x1="244.4" y1="1489.6" x2="244.4" y2="1499.4" stroke="#222" stroke-width="1" />
<line x1="214.3" y1="1489.6" x2="274.5" y2="1489.6" stroke="#222" stroke-width="1" />
<line x1="427.3" y1="1505.6" x2="427.3" y2="1512.1" stroke="#222" stroke-width="1" />
<line x1="397.15" y1="1505.6" x2="457.45" y2="1505.6" stroke="#222" stroke-width="1" />
<line x1="244.4" y1="1577.6" x2="244.4" y2="1589.1" stroke="#222" stroke-width="1" />
<text x="241.4" y="1611.8" font-size="21" font-weight="bold" text-anchor="middle" fill="#000" >Sham</text>
<line x1="427.3" y1="1577.6" x2="427.3" y2="1589.1" stroke="#222" stroke-width="1" />
<text x="427.3" y="1611.8" font-size="21" font-weight="bold" text-anchor="middle" fill="#000" >HF-HI</text>
<text x="70.5" y="1435" font-size="23.4" font-weight="bold" text-anchor="middle" fill="#000" transform="rotate(-90 70.5 1435)" >Distance travelled (m)</text>
<circle cx="244.44" cy="1349.47" r="5.6" fill="none" stroke="#111" stroke-width="1"/>
<circle cx="244.44" cy="1472.34" r="5.6" fill="none" stroke="#111" stroke-width="1"/>
<circle cx="213.8" cy="1493.2" r="5.6" fill="none" stroke="#111" stroke-width="1"/>
<circle cx="274.74" cy="1491.57" r="5.6" fill="none" stroke="#111" stroke-width="1"/>
<circle cx="189.36" cy="1500.7" r="5.6" fill="none" stroke="#111" stroke-width="1"/>
<circle cx="201.41" cy="1500.37" r="5.6" fill="none" stroke="#111" stroke-width="1"/>
<circle cx="262.69" cy="1498.42" r="5.6" fill="none" stroke="#111" stroke-width="1"/>
<circle cx="287.13" cy="1499.4" r="5.6" fill="none" stroke="#111" stroke-width="1"/>
<circle cx="299.84" cy="1495.81" r="5.6" fill="none" stroke="#111" stroke-width="1"/>
<circle cx="213.8" cy="1506.57" r="5.6" fill="none" stroke="#111" stroke-width="1"/>
<circle cx="226.18" cy="1504.61" r="5.6" fill="none" stroke="#111" stroke-width="1"/>
<circle cx="238.24" cy="1504.61" r="5.6" fill="none" stroke="#111" stroke-width="1"/>
<circle cx="250.3" cy="1503.63" r="5.6" fill="none" stroke="#111" stroke-width="1"/>
<circle cx="274.74" cy="1506.89" r="5.6" fill="none" stroke="#111" stroke-width="1"/>
<circle cx="226.18" cy="1515.04" r="5.6" fill="none" stroke="#111" stroke-width="1"/>
<circle cx="238.24" cy="1516.67" r="5.6" fill="none" stroke="#111" stroke-width="1"/>
<circle cx="250.3" cy="1515.04" r="5.6" fill="none" stroke="#111" stroke-width="1"/>
<circle cx="262.69" cy="1511.78" r="5.6" fill="none" stroke="#111" stroke-width="1"/>
<circle cx="262.69" cy="1524.82" r="5.6" fill="none" stroke="#111" stroke-width="1"/>
<circle cx="244.44" cy="1560.34" r="5.6" fill="none" stroke="#111" stroke-width="1"/>
<rect x="421.77" y="1452.83" width="11" height="11" fill="none" stroke="#111" stroke-width="1"/>
<rect x="398.96" y="1472.38" width="11" height="11" fill="none" stroke="#111" stroke-width="1"/>
<rect x="444.59" y="1470.1" width="11" height="11" fill="none" stroke="#111" stroke-width="1"/>
<rect x="421.77" y="1482.49" width="11" height="11" fill="none" stroke="#111" stroke-width="1"/>
<rect x="376.14" y="1493.24" width="11" height="11" fill="none" stroke="#111" stroke-width="1"/>
<rect x="398.96" y="1489.98" width="11" height="11" fill="none" stroke="#111" stroke-width="1"/>
<rect x="467.07" y="1489.98" width="11" height="11" fill="none" stroke="#111" stroke-width="1"/>
<rect x="421.77" y="1498.13" width="11" height="11" fill="none" stroke="#111" stroke-width="1"/>
<rect x="376.14" y="1506.93" width="11" height="11" fill="none" stroke="#111" stroke-width="1"/>
<rect x="398.96" y="1505.3" width="11" height="11" fill="none" stroke="#111" stroke-width="1"/>
<rect x="467.07" y="1503.02" width="11" height="11" fill="none" stroke="#111" stroke-width="1"/>
<rect x="421.77" y="1511.17" width="11" height="11" fill="none" stroke="#111" stroke-width="1"/>
<rect x="444.59" y="1516.06" width="11" height="11" fill="none" stroke="#111" stroke-width="1"/>
<rect x="376.14" y="1519.32" width="11" height="11" fill="none" stroke="#111" stroke-width="1"/>
<rect x="398.96" y="1520.62" width="11" height="11" fill="none" stroke="#111" stroke-width="1"/>
<rect x="467.07" y="1519.97" width="11" height="11" fill="none" stroke="#111" stroke-width="1"/>
<rect x="421.77" y="1526.49" width="11" height="11" fill="none" stroke="#111" stroke-width="1"/>
<rect x="421.77" y="1538.55" width="11" height="11" fill="none" stroke="#111" stroke-width="1"/>
<rect x="444.59" y="1548.97" width="11" height="11" fill="none" stroke="#111" stroke-width="1"/>
<rect x="398.96" y="1559.73" width="11" height="11" fill="none" stroke="#111" stroke-width="1"/>
</g>
<g id="panel_i">
<text transform="translate(615.77 1223.5) scale(0.7889 0.5724)" font-size="100" fill="#231f20">i</text>
<line x1="756" y1="1259.1" x2="756" y2="1577.2" stroke="#222" stroke-width="1" />
<line x1="748" y1="1576.7" x2="756" y2="1576.7" stroke="#222" stroke-width="1" />
<line x1="748" y1="1513.28" x2="756" y2="1513.28" stroke="#222" stroke-width="1" />
<line x1="748" y1="1449.86" x2="756" y2="1449.86" stroke="#222" stroke-width="1" />
<line x1="748" y1="1386.44" x2="756" y2="1386.44" stroke="#222" stroke-width="1" />
<line x1="748" y1="1323.02" x2="756" y2="1323.02" stroke="#222" stroke-width="1" />
<line x1="748" y1="1259.6" x2="756" y2="1259.6" stroke="#222" stroke-width="1" />
<line x1="751.5" y1="1544.99" x2="756" y2="1544.99" stroke="#222" stroke-width="1" />
<line x1="751.5" y1="1481.57" x2="756" y2="1481.57" stroke="#222" stroke-width="1" />
<line x1="751.5" y1="1418.15" x2="756" y2="1418.15" stroke="#222" stroke-width="1" />
<line x1="751.5" y1="1354.73" x2="756" y2="1354.73" stroke="#222" stroke-width="1" />
<line x1="751.5" y1="1291.31" x2="756" y2="1291.31" stroke="#222" stroke-width="1" />
<text x="744" y="1585.11" font-size="23.5" font-weight="bold" text-anchor="end" fill="#000" >0</text>
<text x="744" y="1521.69" font-size="23.5" font-weight="bold" text-anchor="end" fill="#000" >15</text>
<text x="744" y="1458.27" font-size="23.5" font-weight="bold" text-anchor="end" fill="#000" >30</text>
<text x="744" y="1394.85" font-size="23.5" font-weight="bold" text-anchor="end" fill="#000" >45</text>
<text x="744" y="1331.43" font-size="23.5" font-weight="bold" text-anchor="end" fill="#000" >60</text>
<text x="744" y="1268.01" font-size="23.5" font-weight="bold" text-anchor="end" fill="#000" >75</text>
<line x1="748" y1="1576.7" x2="1233.5" y2="1576.7" stroke="#222" stroke-width="1" />
<line x1="829.5" y1="1576.7" x2="829.5" y2="1589.2" stroke="#222" stroke-width="1" />
<text x="829.5" y="1614.9" font-size="23.5" font-weight="bold" text-anchor="middle" fill="#000" >Day 28</text>
<line x1="939.7" y1="1576.7" x2="939.7" y2="1589.2" stroke="#222" stroke-width="1" />
<text x="939.7" y="1614.9" font-size="23.5" font-weight="bold" text-anchor="middle" fill="#000" >Day 29</text>
<line x1="1049.4" y1="1576.7" x2="1049.4" y2="1589.2" stroke="#222" stroke-width="1" />
<text x="1049.4" y="1614.9" font-size="23.5" font-weight="bold" text-anchor="middle" fill="#000" >Day 30</text>
<line x1="1159.1" y1="1576.7" x2="1159.1" y2="1589.2" stroke="#222" stroke-width="1" />
<text x="1159.1" y="1614.9" font-size="23.5" font-weight="bold" text-anchor="middle" fill="#000" >Day 31</text>
<text x="704" y="1406" font-size="26.2" font-weight="bold" text-anchor="middle" fill="#000" transform="rotate(-90 704 1406)" >Latency to platform (s)</text>
<polyline points="829.5,1325.5 939.7,1344 1049.4,1444.5 1159.1,1493.5" fill="none" stroke="#222" stroke-width="1"/>
<polyline points="829.5,1279.3 939.7,1338 1049.4,1394.6 1159.1,1400.7" fill="none" stroke="#222" stroke-width="1"/>
<line x1="829.5" y1="1298.6" x2="829.5" y2="1352.4" stroke="#222" stroke-width="1" />
<line x1="823.25" y1="1298.6" x2="835.75" y2="1298.6" stroke="#222" stroke-width="1" />
<line x1="823.25" y1="1352.4" x2="835.75" y2="1352.4" stroke="#222" stroke-width="1" />
<line x1="939.7" y1="1317.5" x2="939.7" y2="1369.3" stroke="#222" stroke-width="1" />
<line x1="933.45" y1="1317.5" x2="945.95" y2="1317.5" stroke="#222" stroke-width="1" />
<line x1="933.45" y1="1369.3" x2="945.95" y2="1369.3" stroke="#222" stroke-width="1" />
<line x1="1049.4" y1="1426" x2="1049.4" y2="1463.4" stroke="#222" stroke-width="1" />
<line x1="1043.15" y1="1426" x2="1055.65" y2="1426" stroke="#222" stroke-width="1" />
<line x1="1043.15" y1="1463.4" x2="1055.65" y2="1463.4" stroke="#222" stroke-width="1" />
<line x1="1159.1" y1="1478.7" x2="1159.1" y2="1509.6" stroke="#222" stroke-width="1" />
<line x1="1152.85" y1="1478.7" x2="1165.35" y2="1478.7" stroke="#222" stroke-width="1" />
<line x1="1152.85" y1="1509.6" x2="1165.35" y2="1509.6" stroke="#222" stroke-width="1" />
<line x1="829.5" y1="1260.4" x2="829.5" y2="1298.6" stroke="#222" stroke-width="1" />
<line x1="823.25" y1="1260.4" x2="835.75" y2="1260.4" stroke="#222" stroke-width="1" />
<line x1="823.25" y1="1298.6" x2="835.75" y2="1298.6" stroke="#222" stroke-width="1" />
<line x1="939.7" y1="1315" x2="939.7" y2="1362" stroke="#222" stroke-width="1" />
<line x1="933.45" y1="1315" x2="945.95" y2="1315" stroke="#222" stroke-width="1" />
<line x1="933.45" y1="1362" x2="945.95" y2="1362" stroke="#222" stroke-width="1" />
<line x1="1049.4" y1="1368" x2="1049.4" y2="1420.8" stroke="#222" stroke-width="1" />
<line x1="1043.15" y1="1368" x2="1055.65" y2="1368" stroke="#222" stroke-width="1" />
<line x1="1043.15" y1="1420.8" x2="1055.65" y2="1420.8" stroke="#222" stroke-width="1" />
<line x1="1159.1" y1="1376" x2="1159.1" y2="1424.8" stroke="#222" stroke-width="1" />
<line x1="1152.85" y1="1376" x2="1165.35" y2="1376" stroke="#222" stroke-width="1" />
<line x1="1152.85" y1="1424.8" x2="1165.35" y2="1424.8" stroke="#222" stroke-width="1" />
<rect x="823.3" y="1273.1" width="12.4" height="12.4" fill="#1197b2" stroke="#111" stroke-width="1"/>
<rect x="933.5" y="1331.8" width="12.4" height="12.4" fill="#1197b2" stroke="#111" stroke-width="1"/>
<rect x="1043.2" y="1388.4" width="12.4" height="12.4" fill="#1197b2" stroke="#111" stroke-width="1"/>
<rect x="1152.9" y="1394.5" width="12.4" height="12.4" fill="#1197b2" stroke="#111" stroke-width="1"/>
<circle cx="829.5" cy="1325.5" r="6.3" fill="#b3f5e0" stroke="#111" stroke-width="1"/>
<circle cx="939.7" cy="1344" r="6.3" fill="#b3f5e0" stroke="#111" stroke-width="1"/>
<circle cx="1049.4" cy="1444.5" r="6.3" fill="#b3f5e0" stroke="#111" stroke-width="1"/>
<circle cx="1159.1" cy="1493.5" r="6.3" fill="#b3f5e0" stroke="#111" stroke-width="1"/>
<line x1="1164.8" y1="1243.5" x2="1198.9" y2="1243.5" stroke="#222" stroke-width="1" />
<circle cx="1181.8" cy="1243.5" r="6.3" fill="#b3f5e0" stroke="#111" stroke-width="1"/>
<line x1="1164.8" y1="1284.9" x2="1198.9" y2="1284.9" stroke="#222" stroke-width="1" />
<rect x="1175.6" y="1278.7" width="12.4" height="12.4" fill="#1197b2" stroke="#111" stroke-width="1"/>
<text x="1218.2" y="1252.4" font-size="25.4" font-weight="normal" text-anchor="start" fill="#000" >Sham</text>
<text x="1218.2" y="1293.8" font-size="25.4" font-weight="normal" text-anchor="start" fill="#000" >HF-HI</text>
<text x="1160.3" y="1373.5" font-size="34" font-weight="bold" text-anchor="middle" fill="#000" >*</text>
</g>
<g id="panel_j">
<text transform="translate(1351.94 1223.87) scale(0.7778 0.5775)" font-size="100" fill="#231f20">j</text>
<text x="1477.9" y="1254.7" font-size="32" font-weight="normal" text-anchor="start" fill="#231f20" textLength="88.3" lengthAdjust="spacingAndGlyphs">Sham</text>
<text x="1755.6" y="1254.7" font-size="32" font-weight="normal" text-anchor="start" fill="#231f20" textLength="85.8" lengthAdjust="spacingAndGlyphs">HF-HI</text>
<text x="1663.6" y="1611.7" font-size="25" font-weight="normal" text-anchor="middle" fill="#111" >Time</text>
<clipPath id="clipj1"><ellipse cx="1524.4" cy="1402.7" rx="120.5" ry="123.5"/></clipPath>
<g clip-path="url(#clipj1)"><g filter="url(#jet5)">
<rect x="1373.9" y="1249.2" width="301" height="307" fill="#000"/>
<circle cx="1497" cy="1405" r="150" fill="url(#radS)"/>
<ellipse cx="1524.4" cy="1402.7" rx="122.5" ry="125.5" fill="none" stroke="#000" stroke-opacity="0.55" stroke-width="16"/>
<ellipse cx="1512.92" cy="1417.46" rx="13.47" ry="12.47" fill="#000" fill-opacity="0.112" transform="rotate(91 1512.92 1417.46)"/>
<ellipse cx="1527.27" cy="1434.78" rx="12.55" ry="8.36" fill="#fff" fill-opacity="0.106" transform="rotate(55 1527.27 1434.78)"/>
<ellipse cx="1561.5" cy="1431.24" rx="8.1" ry="4.95" fill="#fff" fill-opacity="0.062" transform="rotate(95 1561.5 1431.24)"/>
<ellipse cx="1515.71" cy="1388.01" rx="12.9" ry="12.42" fill="#fff" fill-opacity="0.096" transform="rotate(115 1515.71 1388.01)"/>
<ellipse cx="1514.12" cy="1347.91" rx="13.98" ry="18.14" fill="#000" fill-opacity="0.13" transform="rotate(151 1514.12 1347.91)"/>
<ellipse cx="1459.25" cy="1350.59" rx="7.49" ry="8.51" fill="#000" fill-opacity="0.139" transform="rotate(72 1459.25 1350.59)"/>
<ellipse cx="1623.28" cy="1395.29" rx="13.86" ry="12.17" fill="#000" fill-opacity="0.191" transform="rotate(13 1623.28 1395.29)"/>
<ellipse cx="1468.92" cy="1300.72" rx="9.33" ry="11.89" fill="#fff" fill-opacity="0.066" transform="rotate(136 1468.92 1300.72)"/>
<ellipse cx="1595.98" cy="1323.09" rx="10.92" ry="9.97" fill="#000" fill-opacity="0.105" transform="rotate(34 1595.98 1323.09)"/>
<ellipse cx="1559.04" cy="1307.98" rx="9.95" ry="7.45" fill="#000" fill-opacity="0.194" transform="rotate(49 1559.04 1307.98)"/>
<ellipse cx="1477.2" cy="1497.76" rx="8.47" ry="7.42" fill="#000" fill-opacity="0.101" transform="rotate(154 1477.2 1497.76)"/>
<ellipse cx="1466.14" cy="1470.05" rx="9.3" ry="7.51" fill="#fff" fill-opacity="0.09" transform="rotate(13 1466.14 1470.05)"/>
<ellipse cx="1462.47" cy="1427.72" rx="9.6" ry="8.81" fill="#fff" fill-opacity="0.089" transform="rotate(173 1462.47 1427.72)"/>
<ellipse cx="1600.99" cy="1340.83" rx="8.33" ry="9.31" fill="#fff" fill-opacity="0.116" transform="rotate(169 1600.99 1340.83)"/>
<ellipse cx="1616.51" cy="1428.27" rx="9.95" ry="6.69" fill="#000" fill-opacity="0.119" transform="rotate(7 1616.51 1428.27)"/>
<ellipse cx="1573.7" cy="1342.67" rx="12.77" ry="12.99" fill="#fff" fill-opacity="0.1" transform="rotate(53 1573.7 1342.67)"/>
<ellipse cx="1538.71" cy="1489.74" rx="11.3" ry="9" fill="#fff" fill-opacity="0.049" transform="rotate(165 1538.71 1489.74)"/>
<ellipse cx="1468.78" cy="1389.29" rx="7.42" ry="5.37" fill="#000" fill-opacity="0.105" transform="rotate(66 1468.78 1389.29)"/>
<ellipse cx="1491.18" cy="1499.26" rx="13.86" ry="14.69" fill="#000" fill-opacity="0.107" transform="rotate(124 1491.18 1499.26)"/>
<ellipse cx="1623.26" cy="1452.34" rx="13.74" ry="8.45" fill="#fff" fill-opacity="0.101" transform="rotate(115 1623.26 1452.34)"/>
<ellipse cx="1422.04" cy="1414.09" rx="12.16" ry="14.96" fill="#000" fill-opacity="0.193" transform="rotate(133 1422.04 1414.09)"/>
<ellipse cx="1624.42" cy="1366.1" rx="11.8" ry="14.52" fill="#fff" fill-opacity="0.105" transform="rotate(157 1624.42 1366.1)"/>
<ellipse cx="1612" cy="1420.68" rx="11.37" ry="9.87" fill="#000" fill-opacity="0.099" transform="rotate(105 1612 1420.68)"/>
<ellipse cx="1615.93" cy="1459.07" rx="9.72" ry="10.83" fill="#fff" fill-opacity="0.108" transform="rotate(105 1615.93 1459.07)"/>
<ellipse cx="1519.81" cy="1336.06" rx="11.89" ry="11.27" fill="#000" fill-opacity="0.122" transform="rotate(111 1519.81 1336.06)"/>
<ellipse cx="1567.33" cy="1329.24" rx="8.19" ry="10.1" fill="#fff" fill-opacity="0.112" transform="rotate(119 1567.33 1329.24)"/>
<ellipse cx="1482.7" cy="1443.68" rx="8.39" ry="7.56" fill="#000" fill-opacity="0.204" transform="rotate(145 1482.7 1443.68)"/>
<ellipse cx="1496.54" cy="1423.23" rx="9.22" ry="6.41" fill="#000" fill-opacity="0.2" transform="rotate(89 1496.54 1423.23)"/>
<ellipse cx="1470.61" cy="1320.97" rx="10.15" ry="8.05" fill="#fff" fill-opacity="0.093" transform="rotate(39 1470.61 1320.97)"/>
<ellipse cx="1522.92" cy="1357.1" rx="12.87" ry="16.57" fill="#fff" fill-opacity="0.05" transform="rotate(81 1522.92 1357.1)"/>
<ellipse cx="1574.68" cy="1420.13" rx="9.16" ry="10.57" fill="#fff" fill-opacity="0.081" transform="rotate(3 1574.68 1420.13)"/>
<ellipse cx="1461.12" cy="1314" rx="7.33" ry="7.62" fill="#000" fill-opacity="0.174" transform="rotate(80 1461.12 1314)"/>
<ellipse cx="1568.86" cy="1328.44" rx="10.33" ry="7.49" fill="#fff" fill-opacity="0.099" transform="rotate(2 1568.86 1328.44)"/>
<ellipse cx="1447.06" cy="1346.47" rx="9.42" ry="10.25" fill="#000" fill-opacity="0.188" transform="rotate(94 1447.06 1346.47)"/>
<ellipse cx="1498.74" cy="1474.81" rx="13.34" ry="8.82" fill="#000" fill-opacity="0.105" transform="rotate(168 1498.74 1474.81)"/>
<ellipse cx="1513.2" cy="1433.71" rx="13.37" ry="11.55" fill="#000" fill-opacity="0.193" transform="rotate(102 1513.2 1433.71)"/>
<ellipse cx="1631.47" cy="1393.74" rx="11.56" ry="8.59" fill="#000" fill-opacity="0.173" transform="rotate(130 1631.47 1393.74)"/>
<ellipse cx="1576.86" cy="1331.88" rx="13.3" ry="17.11" fill="#000" fill-opacity="0.192" transform="rotate(176 1576.86 1331.88)"/>
<ellipse cx="1481.12" cy="1503.97" rx="12.99" ry="10.96" fill="#fff" fill-opacity="0.088" transform="rotate(15 1481.12 1503.97)"/>
<ellipse cx="1589.04" cy="1399.6" rx="7.2" ry="8.4" fill="#000" fill-opacity="0.111" transform="rotate(12 1589.04 1399.6)"/>
<ellipse cx="1484.64" cy="1473.81" rx="7.98" ry="5.62" fill="#000" fill-opacity="0.199" transform="rotate(93 1484.64 1473.81)"/>
<ellipse cx="1522.61" cy="1513.64" rx="7.6" ry="5.74" fill="#fff" fill-opacity="0.1" transform="rotate(95 1522.61 1513.64)"/>
<ellipse cx="1557.87" cy="1408.33" rx="12.91" ry="12.8" fill="#fff" fill-opacity="0.109" transform="rotate(56 1557.87 1408.33)"/>
<ellipse cx="1530.24" cy="1420.73" rx="8.41" ry="8.2" fill="#000" fill-opacity="0.092" transform="rotate(91 1530.24 1420.73)"/>
<ellipse cx="1637.53" cy="1406.66" rx="9.8" ry="11.38" fill="#fff" fill-opacity="0.098" transform="rotate(101 1637.53 1406.66)"/>
<ellipse cx="1419.78" cy="1412.26" rx="9.9" ry="12.57" fill="#fff" fill-opacity="0.082" transform="rotate(166 1419.78 1412.26)"/>
<ellipse cx="1434.5" cy="1386.32" rx="12.71" ry="15.64" fill="#fff" fill-opacity="0.062" transform="rotate(86 1434.5 1386.32)"/>
<ellipse cx="1552.81" cy="1507.74" rx="7.91" ry="9.06" fill="#fff" fill-opacity="0.064" transform="rotate(4 1552.81 1507.74)"/>
<ellipse cx="1569.48" cy="1358.75" rx="9.49" ry="9.81" fill="#000" fill-opacity="0.104" transform="rotate(19 1569.48 1358.75)"/>
<ellipse cx="1526.92" cy="1341.09" rx="8.38" ry="8.14" fill="#fff" fill-opacity="0.078" transform="rotate(79 1526.92 1341.09)"/>
<ellipse cx="1531.47" cy="1318.65" rx="8.43" ry="8.78" fill="#000" fill-opacity="0.2" transform="rotate(115 1531.47 1318.65)"/>
<ellipse cx="1551.32" cy="1490.82" rx="8.63" ry="9.65" fill="#000" fill-opacity="0.13" transform="rotate(146 1551.32 1490.82)"/>
<ellipse cx="1479.81" cy="1507.12" rx="8.53" ry="11.08" fill="#fff" fill-opacity="0.065" transform="rotate(160 1479.81 1507.12)"/>
<ellipse cx="1579" cy="1343.3" rx="7.68" ry="9.08" fill="#000" fill-opacity="0.105" transform="rotate(76 1579 1343.3)"/>
<ellipse cx="1500.97" cy="1448.45" rx="7.12" ry="5.28" fill="#000" fill-opacity="0.216" transform="rotate(123 1500.97 1448.45)"/>
<ellipse cx="1431.71" cy="1404.1" rx="12.31" ry="11.72" fill="#fff" fill-opacity="0.053" transform="rotate(123 1431.71 1404.1)"/>
<ellipse cx="1536.85" cy="1406.36" rx="10.98" ry="7.72" fill="#fff" fill-opacity="0.108" transform="rotate(33 1536.85 1406.36)"/>
<ellipse cx="1633.21" cy="1393.33" rx="12.35" ry="10.24" fill="#000" fill-opacity="0.145" transform="rotate(84 1633.21 1393.33)"/>
<ellipse cx="1572.85" cy="1487.73" rx="8.27" ry="7.59" fill="#fff" fill-opacity="0.062" transform="rotate(133 1572.85 1487.73)"/>
<ellipse cx="1443.68" cy="1405.8" rx="7.11" ry="8.71" fill="#000" fill-opacity="0.202" transform="rotate(144 1443.68 1405.8)"/>
<ellipse cx="1483.84" cy="1391.1" rx="10" ry="10" fill="#fff" fill-opacity="0.3"/>
<ellipse cx="1482.38" cy="1408.7" rx="10" ry="10" fill="#fff" fill-opacity="0.35"/>
<ellipse cx="1510.23" cy="1429.22" rx="10" ry="10" fill="#fff" fill-opacity="0.25"/>
<ellipse cx="1530.76" cy="1394.03" rx="9" ry="9" fill="#fff" fill-opacity="0.15"/>
<ellipse cx="1543.96" cy="1426.29" rx="11" ry="11" fill="#fff" fill-opacity="0.12"/>
<ellipse cx="1489.71" cy="1298.72" rx="9" ry="9" fill="#fff" fill-opacity="0.25"/>
<ellipse cx="1419.33" cy="1414.56" rx="9" ry="9" fill="#fff" fill-opacity="0.15"/>
<ellipse cx="1536.63" cy="1509.87" rx="10" ry="10" fill="#fff" fill-opacity="0.3"/>
<ellipse cx="1419.33" cy="1376.44" rx="10" ry="10" fill="#fff" fill-opacity="0.12"/>
<ellipse cx="1620.21" cy="1352.98" rx="7" ry="7" fill="#fff" fill-opacity="0.2"/>
<ellipse cx="1492.64" cy="1361.77" rx="12" ry="12" fill="#fff" fill-opacity="0.1"/>
<ellipse cx="1595.28" cy="1341.25" rx="18" ry="18" fill="#000" fill-opacity="0.4"/>
<ellipse cx="1618.74" cy="1385.23" rx="14" ry="14" fill="#000" fill-opacity="0.4"/>
<ellipse cx="1631.94" cy="1448.28" rx="18" ry="18" fill="#000" fill-opacity="0.45"/>
<ellipse cx="1587.95" cy="1448.28" rx="8" ry="8" fill="#000" fill-opacity="0.3"/>
<ellipse cx="1463.31" cy="1317.79" rx="10" ry="10" fill="#000" fill-opacity="0.35"/>
<ellipse cx="1573.28" cy="1502.54" rx="20" ry="20" fill="#000" fill-opacity="0.45"/>
<ellipse cx="1602.61" cy="1477.61" rx="10" ry="10" fill="#000" fill-opacity="0.2"/>
<ellipse cx="1426.66" cy="1347.11" rx="12" ry="12" fill="#000" fill-opacity="0.3"/>
<ellipse cx="1438.39" cy="1484.94" rx="14" ry="14" fill="#000" fill-opacity="0.35"/>
<ellipse cx="1485.31" cy="1514.27" rx="14" ry="14" fill="#000" fill-opacity="0.4"/>
<ellipse cx="1558.62" cy="1301.66" rx="14" ry="14" fill="#000" fill-opacity="0.3"/>
<ellipse cx="1585.01" cy="1391.1" rx="7" ry="7" fill="#000" fill-opacity="0.25"/>
<ellipse cx="1514.63" cy="1313.39" rx="8" ry="8" fill="#000" fill-opacity="0.25"/>
<ellipse cx="1536.63" cy="1294.33" rx="10" ry="10" fill="#000" fill-opacity="0.2"/>
</g></g>
<ellipse cx="1524.4" cy="1402.7" rx="120.5" ry="123.5" fill="none" stroke="#ee861f" stroke-width="1.5"/>
<line x1="1524" y1="1279.2" x2="1524.6" y2="1526.2" stroke="#ee861f" stroke-width="1.2" />
<line x1="1402.9" y1="1401.1" x2="1644.9" y2="1401.4" stroke="#ee861f" stroke-width="1.2" />
<rect x="1477.2" y="1420.6" width="20.9" height="20.2" fill="none" stroke="#ee861f" stroke-width="1.1"/>
<clipPath id="clipj2"><ellipse cx="1801.6" cy="1401.3" rx="120" ry="124"/></clipPath>
<g clip-path="url(#clipj2)"><g filter="url(#jet5)">
<rect x="1651.6" y="1247.3" width="300" height="308" fill="#000"/>
<ellipse cx="1796.6" cy="1401.3" rx="126" ry="130.2" fill="url(#radH)"/>
<ellipse cx="1831.1" cy="1461.26" rx="9.77" ry="12.31" fill="#000" fill-opacity="0.113" transform="rotate(133 1831.1 1461.26)"/>
<ellipse cx="1793.35" cy="1511.25" rx="8.89" ry="10.95" fill="#fff" fill-opacity="0.088" transform="rotate(20 1793.35 1511.25)"/>
<ellipse cx="1812.1" cy="1419.64" rx="5.08" ry="3.82" fill="#000" fill-opacity="0.232" transform="rotate(50 1812.1 1419.64)"/>
<ellipse cx="1719.91" cy="1474.99" rx="5.83" ry="6.02" fill="#fff" fill-opacity="0.148" transform="rotate(23 1719.91 1474.99)"/>
<ellipse cx="1731.87" cy="1330.74" rx="10.89" ry="13.19" fill="#000" fill-opacity="0.195" transform="rotate(52 1731.87 1330.74)"/>
<ellipse cx="1844.28" cy="1328.09" rx="10.65" ry="11.53" fill="#000" fill-opacity="0.156" transform="rotate(174 1844.28 1328.09)"/>
<ellipse cx="1768.29" cy="1318.46" rx="5.87" ry="3.79" fill="#000" fill-opacity="0.109" transform="rotate(54 1768.29 1318.46)"/>
<ellipse cx="1844.3" cy="1361.1" rx="6.86" ry="8.05" fill="#fff" fill-opacity="0.11" transform="rotate(87 1844.3 1361.1)"/>
<ellipse cx="1861.55" cy="1486.83" rx="5.11" ry="5.88" fill="#000" fill-opacity="0.109" transform="rotate(66 1861.55 1486.83)"/>
<ellipse cx="1907.69" cy="1362.71" rx="7.13" ry="6.9" fill="#fff" fill-opacity="0.136" transform="rotate(140 1907.69 1362.71)"/>
<ellipse cx="1872.93" cy="1490.5" rx="5.22" ry="6.59" fill="#fff" fill-opacity="0.123" transform="rotate(16 1872.93 1490.5)"/>
<ellipse cx="1901.94" cy="1361.61" rx="10.55" ry="10.35" fill="#fff" fill-opacity="0.081" transform="rotate(56 1901.94 1361.61)"/>
<ellipse cx="1779.01" cy="1336.16" rx="8.56" ry="10.09" fill="#fff" fill-opacity="0.069" transform="rotate(82 1779.01 1336.16)"/>
<ellipse cx="1800.06" cy="1485.23" rx="5.78" ry="6.43" fill="#000" fill-opacity="0.236" transform="rotate(171 1800.06 1485.23)"/>
<ellipse cx="1707.19" cy="1385.07" rx="5.9" ry="7.02" fill="#fff" fill-opacity="0.16" transform="rotate(53 1707.19 1385.07)"/>
<ellipse cx="1790.45" cy="1398.36" rx="9.38" ry="8.77" fill="#fff" fill-opacity="0.078" transform="rotate(52 1790.45 1398.36)"/>
<ellipse cx="1801.44" cy="1361.24" rx="5.53" ry="4.38" fill="#000" fill-opacity="0.167" transform="rotate(141 1801.44 1361.24)"/>
<ellipse cx="1870.25" cy="1469.47" rx="9.17" ry="9.76" fill="#fff" fill-opacity="0.132" transform="rotate(137 1870.25 1469.47)"/>
<ellipse cx="1749" cy="1397.75" rx="9.62" ry="10.42" fill="#000" fill-opacity="0.213" transform="rotate(53 1749 1397.75)"/>
<ellipse cx="1812.88" cy="1339.47" rx="9.03" ry="8.34" fill="#000" fill-opacity="0.237" transform="rotate(147 1812.88 1339.47)"/>
<ellipse cx="1765.09" cy="1437.03" rx="9.43" ry="11.12" fill="#000" fill-opacity="0.249" transform="rotate(63 1765.09 1437.03)"/>
<ellipse cx="1911.16" cy="1405.8" rx="8.18" ry="5.86" fill="#000" fill-opacity="0.185" transform="rotate(151 1911.16 1405.8)"/>
<ellipse cx="1847.54" cy="1455.78" rx="9.38" ry="6.76" fill="#000" fill-opacity="0.216" transform="rotate(140 1847.54 1455.78)"/>
<ellipse cx="1782.59" cy="1431.99" rx="9.65" ry="10.09" fill="#fff" fill-opacity="0.079" transform="rotate(130 1782.59 1431.99)"/>
<ellipse cx="1787.46" cy="1438.53" rx="6.31" ry="6.82" fill="#fff" fill-opacity="0.109" transform="rotate(114 1787.46 1438.53)"/>
<ellipse cx="1713.65" cy="1356" rx="6.09" ry="4.48" fill="#fff" fill-opacity="0.101" transform="rotate(6 1713.65 1356)"/>
<ellipse cx="1828.43" cy="1423.66" rx="6.43" ry="7.92" fill="#fff" fill-opacity="0.091"/>
<ellipse cx="1780.01" cy="1305.84" rx="9.99" ry="8.61" fill="#000" fill-opacity="0.123" transform="rotate(6 1780.01 1305.84)"/>
<ellipse cx="1812.45" cy="1361.46" rx="8.49" ry="10.78" fill="#fff" fill-opacity="0.142" transform="rotate(147 1812.45 1361.46)"/>
<ellipse cx="1835.75" cy="1368.92" rx="5.85" ry="5.95" fill="#000" fill-opacity="0.265" transform="rotate(101 1835.75 1368.92)"/>
<ellipse cx="1827.67" cy="1364.38" rx="10.36" ry="6.22" fill="#000" fill-opacity="0.208" transform="rotate(19 1827.67 1364.38)"/>
<ellipse cx="1715.37" cy="1433.41" rx="10.35" ry="8.93" fill="#fff" fill-opacity="0.092" transform="rotate(78 1715.37 1433.41)"/>
<ellipse cx="1824.59" cy="1341.74" rx="10.89" ry="10.31" fill="#fff" fill-opacity="0.158" transform="rotate(75 1824.59 1341.74)"/>
<ellipse cx="1799.62" cy="1348.33" rx="7.86" ry="5.39" fill="#fff" fill-opacity="0.092" transform="rotate(112 1799.62 1348.33)"/>
<ellipse cx="1869.21" cy="1482.35" rx="5.08" ry="4.94" fill="#000" fill-opacity="0.235" transform="rotate(49 1869.21 1482.35)"/>
<ellipse cx="1740.56" cy="1343.69" rx="5.93" ry="7.66" fill="#000" fill-opacity="0.185" transform="rotate(53 1740.56 1343.69)"/>
<ellipse cx="1836.37" cy="1427.06" rx="9.46" ry="6.46" fill="#fff" fill-opacity="0.115" transform="rotate(137 1836.37 1427.06)"/>
<ellipse cx="1762.27" cy="1350.91" rx="8.18" ry="7.57" fill="#000" fill-opacity="0.204" transform="rotate(65 1762.27 1350.91)"/>
<ellipse cx="1790.95" cy="1504.61" rx="10.33" ry="10.14" fill="#000" fill-opacity="0.177" transform="rotate(3 1790.95 1504.61)"/>
<ellipse cx="1819.75" cy="1452.93" rx="8.79" ry="8.24" fill="#fff" fill-opacity="0.102" transform="rotate(164 1819.75 1452.93)"/>
<ellipse cx="1886.06" cy="1326.02" rx="6.78" ry="8.01" fill="#000" fill-opacity="0.221" transform="rotate(12 1886.06 1326.02)"/>
<ellipse cx="1785.48" cy="1348.32" rx="9.68" ry="11.98" fill="#fff" fill-opacity="0.117" transform="rotate(26 1785.48 1348.32)"/>
<ellipse cx="1801.04" cy="1359.32" rx="5.92" ry="5.98" fill="#fff" fill-opacity="0.086" transform="rotate(146 1801.04 1359.32)"/>
<ellipse cx="1878.3" cy="1473.65" rx="8.98" ry="5.55" fill="#000" fill-opacity="0.27" transform="rotate(130 1878.3 1473.65)"/>
<ellipse cx="1883.7" cy="1331.67" rx="8.87" ry="11.24" fill="#fff" fill-opacity="0.092" transform="rotate(128 1883.7 1331.67)"/>
<ellipse cx="1828.15" cy="1379.96" rx="5.97" ry="6.18" fill="#fff" fill-opacity="0.1" transform="rotate(8 1828.15 1379.96)"/>
<ellipse cx="1819.66" cy="1461.4" rx="10.27" ry="7.13" fill="#fff" fill-opacity="0.122" transform="rotate(78 1819.66 1461.4)"/>
<ellipse cx="1799.1" cy="1510.06" rx="7.25" ry="4.63" fill="#fff" fill-opacity="0.125" transform="rotate(126 1799.1 1510.06)"/>
<ellipse cx="1803" cy="1503.08" rx="8.33" ry="8.62" fill="#000" fill-opacity="0.149" transform="rotate(47 1803 1503.08)"/>
<ellipse cx="1861.74" cy="1405.51" rx="5.8" ry="4.43" fill="#000" fill-opacity="0.137" transform="rotate(67 1861.74 1405.51)"/>
<ellipse cx="1852.79" cy="1439.74" rx="5.51" ry="5.88" fill="#fff" fill-opacity="0.121" transform="rotate(16 1852.79 1439.74)"/>
<ellipse cx="1738.86" cy="1494.78" rx="7.88" ry="6.51" fill="#fff" fill-opacity="0.134" transform="rotate(143 1738.86 1494.78)"/>
<ellipse cx="1735.14" cy="1306.09" rx="10.84" ry="11.55" fill="#fff" fill-opacity="0.124" transform="rotate(148 1735.14 1306.09)"/>
<ellipse cx="1766.63" cy="1335.58" rx="7" ry="7.21" fill="#fff" fill-opacity="0.077" transform="rotate(63 1766.63 1335.58)"/>
<ellipse cx="1881.06" cy="1437.98" rx="9.83" ry="8.88" fill="#000" fill-opacity="0.204" transform="rotate(153 1881.06 1437.98)"/>
<ellipse cx="1819.18" cy="1460.86" rx="7.37" ry="4.92" fill="#fff" fill-opacity="0.068" transform="rotate(6 1819.18 1460.86)"/>
<ellipse cx="1895.02" cy="1396.59" rx="9.56" ry="5.74" fill="#000" fill-opacity="0.208" transform="rotate(85 1895.02 1396.59)"/>
<ellipse cx="1784.47" cy="1392.76" rx="5.6" ry="3.97" fill="#fff" fill-opacity="0.101" transform="rotate(29 1784.47 1392.76)"/>
<ellipse cx="1742.58" cy="1346.1" rx="5.97" ry="4.78" fill="#fff" fill-opacity="0.067" transform="rotate(42 1742.58 1346.1)"/>
<ellipse cx="1903.48" cy="1368.8" rx="10.63" ry="11.49" fill="#fff" fill-opacity="0.155" transform="rotate(121 1903.48 1368.8)"/>
<ellipse cx="1709.9" cy="1443.1" rx="6.75" ry="7.23" fill="#fff" fill-opacity="0.083" transform="rotate(131 1709.9 1443.1)"/>
<ellipse cx="1700.37" cy="1376.77" rx="10.84" ry="9.27" fill="#fff" fill-opacity="0.091" transform="rotate(56 1700.37 1376.77)"/>
<ellipse cx="1857.36" cy="1455.35" rx="5.98" ry="4.59" fill="#000" fill-opacity="0.213" transform="rotate(121 1857.36 1455.35)"/>
<ellipse cx="1868.62" cy="1379.02" rx="5.27" ry="5.18" fill="#000" fill-opacity="0.165" transform="rotate(178 1868.62 1379.02)"/>
<ellipse cx="1897.31" cy="1399.11" rx="10.61" ry="6.77" fill="#fff" fill-opacity="0.102" transform="rotate(44 1897.31 1399.11)"/>
<ellipse cx="1779.39" cy="1353.18" rx="5.31" ry="3.32" fill="#fff" fill-opacity="0.113" transform="rotate(175 1779.39 1353.18)"/>
<ellipse cx="1778.17" cy="1409.06" rx="5.51" ry="4.51" fill="#000" fill-opacity="0.257" transform="rotate(19 1778.17 1409.06)"/>
<ellipse cx="1825.19" cy="1489.78" rx="6.29" ry="3.85" fill="#fff" fill-opacity="0.119" transform="rotate(97 1825.19 1489.78)"/>
<ellipse cx="1771.99" cy="1432.32" rx="9.35" ry="11.59" fill="#fff" fill-opacity="0.143" transform="rotate(55 1771.99 1432.32)"/>
<ellipse cx="1735.35" cy="1305.99" rx="6.87" ry="4.54" fill="#000" fill-opacity="0.159" transform="rotate(139 1735.35 1305.99)"/>
<ellipse cx="1784.48" cy="1420.39" rx="6.47" ry="4.16" fill="#fff" fill-opacity="0.083" transform="rotate(126 1784.48 1420.39)"/>
<ellipse cx="1750.24" cy="1369.99" rx="5.59" ry="5" fill="#000" fill-opacity="0.198" transform="rotate(57 1750.24 1369.99)"/>
<ellipse cx="1896.66" cy="1439.52" rx="9.56" ry="9.58" fill="#000" fill-opacity="0.214" transform="rotate(80 1896.66 1439.52)"/>
<ellipse cx="1849.88" cy="1343.69" rx="9.87" ry="8.57" fill="#fff" fill-opacity="0.08" transform="rotate(23 1849.88 1343.69)"/>
<ellipse cx="1744.62" cy="1444.92" rx="6.71" ry="4.33" fill="#000" fill-opacity="0.112" transform="rotate(137 1744.62 1444.92)"/>
<ellipse cx="1767.32" cy="1490.53" rx="10.7" ry="11" fill="#fff" fill-opacity="0.099" transform="rotate(42 1767.32 1490.53)"/>
<ellipse cx="1821.86" cy="1482.38" rx="9.36" ry="6.24" fill="#fff" fill-opacity="0.132" transform="rotate(95 1821.86 1482.38)"/>
<ellipse cx="1788.69" cy="1510.06" rx="9.77" ry="6.67" fill="#000" fill-opacity="0.183" transform="rotate(57 1788.69 1510.06)"/>
<ellipse cx="1785.8" cy="1386.77" rx="9.61" ry="12.06" fill="#000" fill-opacity="0.205" transform="rotate(96 1785.8 1386.77)"/>
<ellipse cx="1782.27" cy="1290.27" rx="10.87" ry="6.77" fill="#fff" fill-opacity="0.149" transform="rotate(104 1782.27 1290.27)"/>
<ellipse cx="1775.85" cy="1330.77" rx="6.66" ry="4.94" fill="#fff" fill-opacity="0.136" transform="rotate(101 1775.85 1330.77)"/>
<ellipse cx="1739.57" cy="1364.54" rx="6.49" ry="8.36" fill="#000" fill-opacity="0.208" transform="rotate(151 1739.57 1364.54)"/>
<ellipse cx="1777.81" cy="1312.78" rx="9.99" ry="9.42" fill="#fff" fill-opacity="0.073" transform="rotate(7 1777.81 1312.78)"/>
<ellipse cx="1853.85" cy="1500.55" rx="6.2" ry="7.17" fill="#000" fill-opacity="0.248" transform="rotate(58 1853.85 1500.55)"/>
<ellipse cx="1831.14" cy="1475.79" rx="7.26" ry="4.41" fill="#000" fill-opacity="0.138" transform="rotate(92 1831.14 1475.79)"/>
<ellipse cx="1774.98" cy="1355.98" rx="5.16" ry="4.23" fill="#fff" fill-opacity="0.132" transform="rotate(69 1774.98 1355.98)"/>
<ellipse cx="1847.87" cy="1443.5" rx="8.22" ry="9.53" fill="#000" fill-opacity="0.218" transform="rotate(65 1847.87 1443.5)"/>
<ellipse cx="1806.93" cy="1347.77" rx="5.47" ry="3.61" fill="#000" fill-opacity="0.231" transform="rotate(64 1806.93 1347.77)"/>
<ellipse cx="1853.07" cy="1353.38" rx="10.58" ry="8.38" fill="#fff" fill-opacity="0.136" transform="rotate(129 1853.07 1353.38)"/>
<ellipse cx="1896.92" cy="1447.84" rx="10.03" ry="11.2" fill="#fff" fill-opacity="0.114" transform="rotate(110 1896.92 1447.84)"/>
<ellipse cx="1896.67" cy="1336.59" rx="10.85" ry="10.64" fill="#fff" fill-opacity="0.101" transform="rotate(71 1896.67 1336.59)"/>
<ellipse cx="1724.35" cy="1439.27" rx="10.4" ry="12.86" fill="#fff" fill-opacity="0.074" transform="rotate(110 1724.35 1439.27)"/>
<ellipse cx="1846.91" cy="1414.55" rx="9.29" ry="8.01" fill="#fff" fill-opacity="0.093" transform="rotate(160 1846.91 1414.55)"/>
<ellipse cx="1745.84" cy="1431.6" rx="10.38" ry="7.45" fill="#000" fill-opacity="0.144" transform="rotate(114 1745.84 1431.6)"/>
<ellipse cx="1696.65" cy="1417.64" rx="9.98" ry="12.13" fill="#fff" fill-opacity="0.105" transform="rotate(131 1696.65 1417.64)"/>
<ellipse cx="1808.5" cy="1501.67" rx="6.81" ry="5.43" fill="#000" fill-opacity="0.138" transform="rotate(109 1808.5 1501.67)"/>
<ellipse cx="1816.62" cy="1426.96" rx="6.1" ry="4.47" fill="#000" fill-opacity="0.22" transform="rotate(107 1816.62 1426.96)"/>
<ellipse cx="1797.93" cy="1484.29" rx="10.74" ry="8.84" fill="#000" fill-opacity="0.258" transform="rotate(153 1797.93 1484.29)"/>
<ellipse cx="1736.58" cy="1450.11" rx="10.04" ry="9.38" fill="#fff" fill-opacity="0.079" transform="rotate(18 1736.58 1450.11)"/>
<ellipse cx="1829.38" cy="1303.32" rx="9.55" ry="10.65" fill="#000" fill-opacity="0.224" transform="rotate(147 1829.38 1303.32)"/>
<ellipse cx="1771.47" cy="1391.05" rx="9.08" ry="10.17" fill="#fff" fill-opacity="0.116" transform="rotate(15 1771.47 1391.05)"/>
<ellipse cx="1771.64" cy="1306.45" rx="8.58" ry="7.4" fill="#fff" fill-opacity="0.156" transform="rotate(123 1771.64 1306.45)"/>
<ellipse cx="1863.95" cy="1456.17" rx="6.78" ry="4.62" fill="#fff" fill-opacity="0.135" transform="rotate(86 1863.95 1456.17)"/>
<ellipse cx="1902.01" cy="1372.06" rx="6.74" ry="6.4" fill="#000" fill-opacity="0.201" transform="rotate(125 1902.01 1372.06)"/>
<ellipse cx="1752.63" cy="1360.86" rx="10.09" ry="9.72" fill="#fff" fill-opacity="0.087" transform="rotate(9 1752.63 1360.86)"/>
<ellipse cx="1841.49" cy="1295.5" rx="6.63" ry="4.42" fill="#000" fill-opacity="0.196" transform="rotate(86 1841.49 1295.5)"/>
<ellipse cx="1774.31" cy="1508.91" rx="5.55" ry="4.71" fill="#fff" fill-opacity="0.138" transform="rotate(146 1774.31 1508.91)"/>
<ellipse cx="1741.8" cy="1390.94" rx="7.3" ry="7.02" fill="#fff" fill-opacity="0.158" transform="rotate(10 1741.8 1390.94)"/>
<ellipse cx="1787.83" cy="1394.33" rx="5.51" ry="4.38" fill="#000" fill-opacity="0.19" transform="rotate(172 1787.83 1394.33)"/>
<ellipse cx="1694.32" cy="1374.69" rx="9.67" ry="8.75" fill="#000" fill-opacity="0.213" transform="rotate(107 1694.32 1374.69)"/>
<ellipse cx="1814.63" cy="1392.57" rx="6.5" ry="6.5" fill="#fff" fill-opacity="0.6"/>
<ellipse cx="1814.63" cy="1392.57" rx="12" ry="12" fill="#fff" fill-opacity="0.2"/>
<ellipse cx="1799.96" cy="1411.63" rx="30" ry="30" fill="#fff" fill-opacity="0.14"/>
<ellipse cx="1791.17" cy="1404.3" rx="8" ry="8" fill="#fff" fill-opacity="0.3"/>
<ellipse cx="1858.62" cy="1306.06" rx="7.5" ry="7.5" fill="#fff" fill-opacity="0.8"/>
<ellipse cx="1755.98" cy="1301.66" rx="9" ry="9" fill="#fff" fill-opacity="0.2"/>
<ellipse cx="1754.51" cy="1386.7" rx="10" ry="10" fill="#fff" fill-opacity="0.2"/>
<ellipse cx="1701.72" cy="1379.37" rx="9" ry="9" fill="#fff" fill-opacity="0.2"/>
<ellipse cx="1704.66" cy="1344.18" rx="8" ry="8" fill="#fff" fill-opacity="0.2"/>
<ellipse cx="1836.62" cy="1484.94" rx="8" ry="8" fill="#fff" fill-opacity="0.25"/>
<ellipse cx="1826.36" cy="1433.62" rx="12" ry="12" fill="#fff" fill-opacity="0.15"/>
<ellipse cx="1703.19" cy="1440.95" rx="8" ry="8" fill="#fff" fill-opacity="0.15"/>
<ellipse cx="1905.54" cy="1382.3" rx="8" ry="8" fill="#fff" fill-opacity="0.2"/>
<ellipse cx="1805.83" cy="1308.99" rx="9" ry="14" fill="#000" fill-opacity="0.425"/>
<ellipse cx="1792.63" cy="1323.65" rx="8" ry="8" fill="#000" fill-opacity="0.255"/>
<ellipse cx="1880.61" cy="1352.98" rx="15" ry="9" fill="#000" fill-opacity="0.425"/>
<ellipse cx="1876.21" cy="1440.95" rx="9" ry="14" fill="#000" fill-opacity="0.383"/>
<ellipse cx="1725.18" cy="1442.42" rx="7" ry="11" fill="#000" fill-opacity="0.468"/>
<ellipse cx="1751.58" cy="1474.68" rx="7" ry="12" fill="#000" fill-opacity="0.34"/>
<ellipse cx="1722.25" cy="1351.51" rx="7" ry="11" fill="#000" fill-opacity="0.297"/>
<ellipse cx="1915.8" cy="1433.62" rx="14" ry="22" fill="#000" fill-opacity="0.51"/>
<ellipse cx="1851.28" cy="1520.13" rx="24" ry="12" fill="#000" fill-opacity="0.51"/>
<ellipse cx="1711.99" cy="1496.67" rx="18" ry="10" fill="#000" fill-opacity="0.425"/>
<ellipse cx="1716.39" cy="1313.39" rx="14" ry="10" fill="#000" fill-opacity="0.297"/>
<ellipse cx="1880.61" cy="1394.03" rx="12" ry="12" fill="#000" fill-opacity="0.297"/>
<ellipse cx="1843.95" cy="1311.92" rx="8" ry="8" fill="#000" fill-opacity="0.212"/>
<ellipse cx="1896.74" cy="1411.63" rx="9" ry="9" fill="#000" fill-opacity="0.255"/>
<ellipse cx="1770.64" cy="1493.74" rx="9" ry="9" fill="#000" fill-opacity="0.212"/>
<ellipse cx="1880.61" cy="1374.97" rx="16" ry="28" fill="#000" fill-opacity="0.357"/>
<ellipse cx="1804.36" cy="1326.58" rx="12" ry="24" fill="#000" fill-opacity="0.34"/>
<ellipse cx="1814.63" cy="1350.04" rx="12" ry="14" fill="#000" fill-opacity="0.212"/>
<ellipse cx="1799.96" cy="1484.94" rx="22" ry="18" fill="#000" fill-opacity="0.255"/>
<ellipse cx="1814.63" cy="1506.94" rx="18" ry="14" fill="#000" fill-opacity="0.255"/>
<ellipse cx="1726.65" cy="1360.31" rx="9" ry="18" fill="#000" fill-opacity="0.297"/>
<ellipse cx="1723.72" cy="1440.95" rx="9" ry="16" fill="#000" fill-opacity="0.34"/>
<ellipse cx="1750.11" cy="1477.61" rx="8" ry="16" fill="#000" fill-opacity="0.297"/>
<ellipse cx="1876.21" cy="1448.28" rx="12" ry="20" fill="#000" fill-opacity="0.34"/>
<ellipse cx="1858.62" cy="1484.94" rx="14" ry="12" fill="#000" fill-opacity="0.212"/>
<ellipse cx="1841.02" cy="1313.39" rx="12" ry="10" fill="#000" fill-opacity="0.255"/>
<ellipse cx="1895.27" cy="1411.63" rx="10" ry="14" fill="#000" fill-opacity="0.297"/>
</g></g>
<ellipse cx="1801.6" cy="1401.3" rx="120" ry="124" fill="none" stroke="#ee861f" stroke-width="1.5"/>
<line x1="1800" y1="1277.3" x2="1800.6" y2="1525.3" stroke="#ee861f" stroke-width="1.2" />
<line x1="1680.6" y1="1399.6" x2="1921.6" y2="1399.9" stroke="#ee861f" stroke-width="1.2" />
<rect x="1754.5" y="1418.4" width="20.9" height="21.3" fill="none" stroke="#ee861f" stroke-width="1.1"/>
<rect x="1535.9" y="1567" width="256.8" height="20.9" fill="url(#cbar)" stroke="none" stroke-width="1"/>
<text x="1539.9" y="1581.63" font-size="11.5" font-weight="bold" text-anchor="start" fill="#e8f0ff" >0s</text>
<text x="1789.7" y="1581.63" font-size="11.5" font-weight="bold" text-anchor="end" fill="#fff" >~8.1s</text>
</g>
<g id="panel_k">
<text transform="translate(8.02 1802) scale(0.5655 0.5986)" font-size="100" fill="#231f20">k</text>
<line x1="122.5" y1="1895.6" x2="122.5" y2="2145.9" stroke="#222" stroke-width="1" />
<line x1="111.9" y1="2145.4" x2="122.5" y2="2145.4" stroke="#222" stroke-width="1" />
<line x1="111.9" y1="2083.07" x2="122.5" y2="2083.07" stroke="#222" stroke-width="1" />
<line x1="111.9" y1="2020.75" x2="122.5" y2="2020.75" stroke="#222" stroke-width="1" />
<line x1="111.9" y1="1958.42" x2="122.5" y2="1958.42" stroke="#222" stroke-width="1" />
<line x1="114" y1="1896.1" x2="129.7" y2="1896.1" stroke="#222" stroke-width="1" />
<line x1="117" y1="2114.24" x2="122.5" y2="2114.24" stroke="#222" stroke-width="1" />
<line x1="117" y1="2051.91" x2="122.5" y2="2051.91" stroke="#222" stroke-width="1" />
<line x1="117" y1="1989.59" x2="122.5" y2="1989.59" stroke="#222" stroke-width="1" />
<line x1="117" y1="1927.26" x2="122.5" y2="1927.26" stroke="#222" stroke-width="1" />
<text x="107.5" y="2153.3" font-size="22" font-weight="bold" text-anchor="end" fill="#000" >0</text>
<text x="107.5" y="2090.97" font-size="22" font-weight="bold" text-anchor="end" fill="#000" >2</text>
<text x="107.5" y="2028.65" font-size="22" font-weight="bold" text-anchor="end" fill="#000" >4</text>
<text x="107.5" y="1966.33" font-size="22" font-weight="bold" text-anchor="end" fill="#000" >6</text>
<text x="107.5" y="1904" font-size="22" font-weight="bold" text-anchor="end" fill="#000" >8</text>
<line x1="122.5" y1="1845.6" x2="122.5" y2="1873.6" stroke="#222" stroke-width="1" />
<line x1="111.9" y1="1845.6" x2="122.5" y2="1845.6" stroke="#222" stroke-width="1" />
<line x1="117" y1="1859.6" x2="122.5" y2="1859.6" stroke="#222" stroke-width="1" />
<line x1="115.7" y1="1873.6" x2="129.7" y2="1873.6" stroke="#222" stroke-width="1" />
<text x="107.5" y="1853.5" font-size="22" font-weight="bold" text-anchor="end" fill="#000" >15</text>
<text x="107.5" y="1881.5" font-size="22" font-weight="bold" text-anchor="end" fill="#000" >10</text>
<line x1="111.9" y1="2145.4" x2="572" y2="2145.4" stroke="#222" stroke-width="1" />
<rect x="186.7" y="1999.4" width="127.2" height="146" fill="#b3f5e0" stroke="#222" stroke-width="1"/>
<rect x="379" y="2076" width="127.5" height="69.4" fill="#1197b2" stroke="#222" stroke-width="1"/>
<line x1="250.3" y1="1974.3" x2="250.3" y2="1999.4" stroke="#222" stroke-width="1" />
<line x1="218.2" y1="1974.3" x2="282.4" y2="1974.3" stroke="#222" stroke-width="1" />
<line x1="442.6" y1="2064.3" x2="442.6" y2="2076" stroke="#222" stroke-width="1" />
<line x1="410.45" y1="2064.3" x2="474.75" y2="2064.3" stroke="#222" stroke-width="1" />
<line x1="250.3" y1="2145.4" x2="250.3" y2="2156.9" stroke="#222" stroke-width="1" />
<text x="250.3" y="2180" font-size="22" font-weight="bold" text-anchor="middle" fill="#000" >Sham</text>
<line x1="442.6" y1="2145.4" x2="442.6" y2="2156.9" stroke="#222" stroke-width="1" />
<text x="442.6" y="2180" font-size="22" font-weight="bold" text-anchor="middle" fill="#000" >HF-HI</text>
<text x="66.5" y="1994.7" font-size="24.5" font-weight="bold" text-anchor="middle" fill="#000" transform="rotate(-90 66.5 1994.7)" >Number of crossings</text>
<text x="445.5" y="1937.5" font-size="32.5" font-weight="bold" text-anchor="middle" fill="#000" letter-spacing="2.6">**</text>
<circle cx="269.86" cy="1845.92" r="5.8" fill="none" stroke="#111" stroke-width="1"/>
<circle cx="250.3" cy="1857.33" r="5.8" fill="none" stroke="#111" stroke-width="1"/>
<circle cx="250.3" cy="1927.4" r="5.8" fill="none" stroke="#111" stroke-width="1"/>
<circle cx="231.07" cy="1958.36" r="5.8" fill="none" stroke="#111" stroke-width="1"/>
<circle cx="250.3" cy="1958.36" r="5.8" fill="none" stroke="#111" stroke-width="1"/>
<circle cx="269.86" cy="1958.36" r="5.8" fill="none" stroke="#111" stroke-width="1"/>
<circle cx="231.07" cy="1989.98" r="5.8" fill="none" stroke="#111" stroke-width="1"/>
<circle cx="250.3" cy="1989.98" r="5.8" fill="none" stroke="#111" stroke-width="1"/>
<circle cx="269.86" cy="1989.98" r="5.8" fill="none" stroke="#111" stroke-width="1"/>
<circle cx="250.3" cy="2020.61" r="5.8" fill="none" stroke="#111" stroke-width="1"/>
<circle cx="192.29" cy="2051.9" r="5.8" fill="none" stroke="#111" stroke-width="1"/>
<circle cx="211.52" cy="2051.9" r="5.8" fill="none" stroke="#111" stroke-width="1"/>
<circle cx="231.07" cy="2051.9" r="5.8" fill="none" stroke="#111" stroke-width="1"/>
<circle cx="250.3" cy="2051.9" r="5.8" fill="none" stroke="#111" stroke-width="1"/>
<circle cx="269.86" cy="2051.9" r="5.8" fill="none" stroke="#111" stroke-width="1"/>
<circle cx="289.41" cy="2051.9" r="5.8" fill="none" stroke="#111" stroke-width="1"/>
<circle cx="308.64" cy="2051.9" r="5.8" fill="none" stroke="#111" stroke-width="1"/>
<circle cx="240.52" cy="2083.19" r="5.8" fill="none" stroke="#111" stroke-width="1"/>
<circle cx="260.08" cy="2083.19" r="5.8" fill="none" stroke="#111" stroke-width="1"/>
<circle cx="240.52" cy="2114.47" r="5.8" fill="none" stroke="#111" stroke-width="1"/>
<circle cx="260.08" cy="2114.47" r="5.8" fill="none" stroke="#111" stroke-width="1"/>
<rect x="436.89" y="1952.66" width="11.4" height="11.4" fill="none" stroke="#111" stroke-width="1"/>
<rect x="425.16" y="1984.28" width="11.4" height="11.4" fill="none" stroke="#111" stroke-width="1"/>
<rect x="448.95" y="1984.28" width="11.4" height="11.4" fill="none" stroke="#111" stroke-width="1"/>
<rect x="378.88" y="2046.2" width="11.4" height="11.4" fill="none" stroke="#111" stroke-width="1"/>
<rect x="402.02" y="2046.2" width="11.4" height="11.4" fill="none" stroke="#111" stroke-width="1"/>
<rect x="425.16" y="2046.2" width="11.4" height="11.4" fill="none" stroke="#111" stroke-width="1"/>
<rect x="448.95" y="2046.2" width="11.4" height="11.4" fill="none" stroke="#111" stroke-width="1"/>
<rect x="472.09" y="2046.2" width="11.4" height="11.4" fill="none" stroke="#111" stroke-width="1"/>
<rect x="495.55" y="2046.2" width="11.4" height="11.4" fill="none" stroke="#111" stroke-width="1"/>
<rect x="402.02" y="2077.49" width="11.4" height="11.4" fill="none" stroke="#111" stroke-width="1"/>
<rect x="425.16" y="2077.49" width="11.4" height="11.4" fill="none" stroke="#111" stroke-width="1"/>
<rect x="448.95" y="2077.49" width="11.4" height="11.4" fill="none" stroke="#111" stroke-width="1"/>
<rect x="472.09" y="2077.49" width="11.4" height="11.4" fill="none" stroke="#111" stroke-width="1"/>
<rect x="390.61" y="2108.77" width="11.4" height="11.4" fill="none" stroke="#111" stroke-width="1"/>
<rect x="413.75" y="2108.77" width="11.4" height="11.4" fill="none" stroke="#111" stroke-width="1"/>
<rect x="436.89" y="2108.77" width="11.4" height="11.4" fill="none" stroke="#111" stroke-width="1"/>
<rect x="460.03" y="2108.77" width="11.4" height="11.4" fill="none" stroke="#111" stroke-width="1"/>
<rect x="483.5" y="2108.77" width="11.4" height="11.4" fill="none" stroke="#111" stroke-width="1"/>
<rect x="413.75" y="2140.06" width="11.4" height="11.4" fill="none" stroke="#111" stroke-width="1"/>
<rect x="436.89" y="2140.06" width="11.4" height="11.4" fill="none" stroke="#111" stroke-width="1"/>
<rect x="460.03" y="2140.06" width="11.4" height="11.4" fill="none" stroke="#111" stroke-width="1"/>
</g>
<g id="panel_l">
<text transform="translate(618.17 1802) scale(0.5889 0.5986)" font-size="100" fill="#231f20">l</text>
<line x1="729.5" y1="1886.25" x2="729.5" y2="2142.65" stroke="#222" stroke-width="1.5" />
<line x1="718.2" y1="2078.18" x2="729.5" y2="2078.18" stroke="#222" stroke-width="1.5" />
<line x1="718.2" y1="2014.45" x2="729.5" y2="2014.45" stroke="#222" stroke-width="1.5" />
<line x1="718.2" y1="1950.72" x2="729.5" y2="1950.72" stroke="#222" stroke-width="1.5" />
<line x1="723.8" y1="2110.04" x2="729.5" y2="2110.04" stroke="#222" stroke-width="1.5" />
<line x1="723.8" y1="2046.31" x2="729.5" y2="2046.31" stroke="#222" stroke-width="1.5" />
<line x1="723.8" y1="1982.59" x2="729.5" y2="1982.59" stroke="#222" stroke-width="1.5" />
<line x1="723.8" y1="1918.86" x2="729.5" y2="1918.86" stroke="#222" stroke-width="1.5" />
<line x1="722.2" y1="1887" x2="736.8" y2="1887" stroke="#222" stroke-width="1.5" />
<text x="714" y="2149.9" font-size="22.5" font-weight="bold" text-anchor="end" fill="#000" >0</text>
<text x="714" y="2086.18" font-size="22.5" font-weight="bold" text-anchor="end" fill="#000" >5</text>
<text x="714" y="2022.45" font-size="22.5" font-weight="bold" text-anchor="end" fill="#000" >10</text>
<text x="714" y="1958.72" font-size="22.5" font-weight="bold" text-anchor="end" fill="#000" >15</text>
<text x="714" y="1895" font-size="22.5" font-weight="bold" text-anchor="end" fill="#000" >20</text>
<line x1="729.5" y1="1844.95" x2="729.5" y2="1865.35" stroke="#222" stroke-width="1.5" />
<line x1="718.2" y1="1845.7" x2="729.5" y2="1845.7" stroke="#222" stroke-width="1.5" />
<line x1="723.8" y1="1855.2" x2="729.5" y2="1855.2" stroke="#222" stroke-width="1.5" />
<line x1="722.2" y1="1864.6" x2="736.8" y2="1864.6" stroke="#222" stroke-width="1.5" />
<text x="714" y="1853.7" font-size="22.5" font-weight="bold" text-anchor="end" fill="#000" >28</text>
<text x="714" y="1872.6" font-size="22.5" font-weight="bold" text-anchor="end" fill="#000" >26</text>
<line x1="718.2" y1="2141.9" x2="1248" y2="2141.9" stroke="#222" stroke-width="1.5" />
<line x1="788.1" y1="2141.9" x2="788.1" y2="2152.4" stroke="#222" stroke-width="1.5" />
<text x="788.1" y="2178.1" font-size="22.5" font-weight="bold" text-anchor="middle" fill="#000" >SW (Target)</text>
<line x1="921.6" y1="2141.9" x2="921.6" y2="2152.4" stroke="#222" stroke-width="1.5" />
<text x="921.6" y="2178.1" font-size="22.5" font-weight="bold" text-anchor="middle" fill="#000" >SE</text>
<line x1="1055" y1="2141.9" x2="1055" y2="2152.4" stroke="#222" stroke-width="1.5" />
<text x="1055" y="2178.1" font-size="22.5" font-weight="bold" text-anchor="middle" fill="#000" >NW</text>
<line x1="1188.5" y1="2141.9" x2="1188.5" y2="2152.4" stroke="#222" stroke-width="1.5" />
<text x="1188.5" y="2178.1" font-size="22.5" font-weight="bold" text-anchor="middle" fill="#000" >NE</text>
<text x="674" y="1994.4" font-size="24" font-weight="bold" text-anchor="middle" fill="#000" transform="rotate(-90 674 1994.4)" >Number of entries</text>
<rect x="746.5" y="1961.9" width="33.5" height="179.4" fill="#b3f5e0" stroke="#333" stroke-width="0.9"/>
<line x1="763.25" y1="1945" x2="763.25" y2="1961.9" stroke="#222" stroke-width="1" />
<line x1="755.25" y1="1945" x2="771.25" y2="1945" stroke="#222" stroke-width="1" />
<rect x="797.2" y="2030.4" width="32.3" height="110.9" fill="#1197b2" stroke="#333" stroke-width="0.9"/>
<line x1="813.35" y1="2018.2" x2="813.35" y2="2030.4" stroke="#222" stroke-width="1" />
<line x1="805.35" y1="2018.2" x2="821.35" y2="2018.2" stroke="#222" stroke-width="1" />
<rect x="880.5" y="2056.8" width="33.4" height="84.5" fill="#b3f5e0" stroke="#333" stroke-width="0.9"/>
<line x1="897.2" y1="2047.5" x2="897.2" y2="2056.8" stroke="#222" stroke-width="1" />
<line x1="889.2" y1="2047.5" x2="905.2" y2="2047.5" stroke="#222" stroke-width="1" />
<rect x="930.9" y="2068.6" width="31.6" height="72.7" fill="#1197b2" stroke="#333" stroke-width="0.9"/>
<line x1="946.7" y1="2061.6" x2="946.7" y2="2068.6" stroke="#222" stroke-width="1" />
<line x1="938.7" y1="2061.6" x2="954.7" y2="2061.6" stroke="#222" stroke-width="1" />
<rect x="1013.5" y="2023.5" width="33.3" height="117.8" fill="#b3f5e0" stroke="#333" stroke-width="0.9"/>
<line x1="1030.15" y1="2012.1" x2="1030.15" y2="2023.5" stroke="#222" stroke-width="1" />
<line x1="1022.15" y1="2012.1" x2="1038.15" y2="2012.1" stroke="#222" stroke-width="1" />
<rect x="1064.2" y="2066.2" width="33.3" height="75.1" fill="#1197b2" stroke="#333" stroke-width="0.9"/>
<line x1="1080.85" y1="2060.4" x2="1080.85" y2="2066.2" stroke="#222" stroke-width="1" />
<line x1="1072.85" y1="2060.4" x2="1088.85" y2="2060.4" stroke="#222" stroke-width="1" />
<rect x="1147.5" y="2054.4" width="33.3" height="86.9" fill="#b3f5e0" stroke="#333" stroke-width="0.9"/>
<line x1="1164.15" y1="2045.5" x2="1164.15" y2="2054.4" stroke="#222" stroke-width="1" />
<line x1="1156.15" y1="2045.5" x2="1172.15" y2="2045.5" stroke="#222" stroke-width="1" />
<rect x="1197.5" y="2079.2" width="33.8" height="62.1" fill="#1197b2" stroke="#333" stroke-width="0.9"/>
<line x1="1214.4" y1="2071.6" x2="1214.4" y2="2079.2" stroke="#222" stroke-width="1" />
<line x1="1206.4" y1="2071.6" x2="1222.4" y2="2071.6" stroke="#222" stroke-width="1" />
<rect x="1171.5" y="1817.3" width="30.3" height="14.9" fill="#b3f5e0" stroke="#555" stroke-width="1"/>
<rect x="1171.5" y="1857.4" width="30.3" height="14.6" fill="#1197b2" stroke="#555" stroke-width="1"/>
<text x="1220.2" y="1833.3" font-size="23.7" font-weight="normal" text-anchor="start" fill="#000" >Sham</text>
<text x="1220.2" y="1873" font-size="23.7" font-weight="normal" text-anchor="start" fill="#000" >HF-HI</text>
<path d="M759.8,1839 V1832.4 H814.4 V1839" fill="none" stroke="#111" stroke-width="2.9"/>
<text x="789.5" y="1834.6" font-size="28" font-weight="bold" text-anchor="middle" fill="#000" letter-spacing="3.8">****</text>
<circle cx="756.41" cy="1845.93" r="2.7" fill="none" stroke="#111" stroke-width="0.9"/>
<circle cx="769.95" cy="1845.93" r="2.7" fill="none" stroke="#111" stroke-width="0.9"/>
<circle cx="763.01" cy="1912.49" r="2.7" fill="none" stroke="#111" stroke-width="0.9"/>
<circle cx="756.41" cy="1925.24" r="2.7" fill="none" stroke="#111" stroke-width="0.9"/>
<circle cx="769.95" cy="1925.24" r="2.7" fill="none" stroke="#111" stroke-width="0.9"/>
<circle cx="763.01" cy="1937.98" r="2.7" fill="none" stroke="#111" stroke-width="0.9"/>
<circle cx="749.47" cy="1950.72" r="2.7" fill="none" stroke="#111" stroke-width="0.9"/>
<circle cx="763.01" cy="1950.72" r="2.7" fill="none" stroke="#111" stroke-width="0.9"/>
<circle cx="777.24" cy="1950.72" r="2.7" fill="none" stroke="#111" stroke-width="0.9"/>
<circle cx="763.01" cy="1963.47" r="2.7" fill="none" stroke="#111" stroke-width="0.9"/>
<circle cx="749.47" cy="1976.22" r="2.7" fill="none" stroke="#111" stroke-width="0.9"/>
<circle cx="763.01" cy="1976.22" r="2.7" fill="none" stroke="#111" stroke-width="0.9"/>
<circle cx="777.24" cy="1976.22" r="2.7" fill="none" stroke="#111" stroke-width="0.9"/>
<circle cx="749.47" cy="2001.7" r="2.7" fill="none" stroke="#111" stroke-width="0.9"/>
<circle cx="763.01" cy="2001.7" r="2.7" fill="none" stroke="#111" stroke-width="0.9"/>
<circle cx="777.24" cy="2001.7" r="2.7" fill="none" stroke="#111" stroke-width="0.9"/>
<circle cx="749.47" cy="2027.2" r="2.7" fill="none" stroke="#111" stroke-width="0.9"/>
<circle cx="763.01" cy="2027.2" r="2.7" fill="none" stroke="#111" stroke-width="0.9"/>
<circle cx="777.24" cy="2027.2" r="2.7" fill="none" stroke="#111" stroke-width="0.9"/>
<circle cx="756.41" cy="2052.68" r="2.7" fill="none" stroke="#111" stroke-width="0.9"/>
<circle cx="769.95" cy="2052.68" r="2.7" fill="none" stroke="#111" stroke-width="0.9"/>
<rect x="810.03" y="1909.69" width="5.6" height="5.6" fill="none" stroke="#111" stroke-width="0.9"/>
<rect x="810.03" y="1922.44" width="5.6" height="5.6" fill="none" stroke="#111" stroke-width="0.9"/>
<rect x="797.18" y="1998.9" width="5.6" height="5.6" fill="none" stroke="#111" stroke-width="0.9"/>
<rect x="803.61" y="1998.9" width="5.6" height="5.6" fill="none" stroke="#111" stroke-width="0.9"/>
<rect x="810.03" y="1998.9" width="5.6" height="5.6" fill="none" stroke="#111" stroke-width="0.9"/>
<rect x="816.45" y="1998.9" width="5.6" height="5.6" fill="none" stroke="#111" stroke-width="0.9"/>
<rect x="822.87" y="1998.9" width="5.6" height="5.6" fill="none" stroke="#111" stroke-width="0.9"/>
<rect x="803.61" y="2011.65" width="5.6" height="5.6" fill="none" stroke="#111" stroke-width="0.9"/>
<rect x="810.03" y="2011.65" width="5.6" height="5.6" fill="none" stroke="#111" stroke-width="0.9"/>
<rect x="816.45" y="2011.65" width="5.6" height="5.6" fill="none" stroke="#111" stroke-width="0.9"/>
<rect x="806.73" y="2024.4" width="5.6" height="5.6" fill="none" stroke="#111" stroke-width="0.9"/>
<rect x="813.15" y="2024.4" width="5.6" height="5.6" fill="none" stroke="#111" stroke-width="0.9"/>
<rect x="803.61" y="2049.88" width="5.6" height="5.6" fill="none" stroke="#111" stroke-width="0.9"/>
<rect x="810.03" y="2049.88" width="5.6" height="5.6" fill="none" stroke="#111" stroke-width="0.9"/>
<rect x="816.45" y="2049.88" width="5.6" height="5.6" fill="none" stroke="#111" stroke-width="0.9"/>
<rect x="806.73" y="2062.63" width="5.6" height="5.6" fill="none" stroke="#111" stroke-width="0.9"/>
<rect x="813.15" y="2062.63" width="5.6" height="5.6" fill="none" stroke="#111" stroke-width="0.9"/>
<rect x="810.03" y="2075.38" width="5.6" height="5.6" fill="none" stroke="#111" stroke-width="0.9"/>
<rect x="810.03" y="2088.12" width="5.6" height="5.6" fill="none" stroke="#111" stroke-width="0.9"/>
<rect x="810.03" y="2100.86" width="5.6" height="5.6" fill="none" stroke="#111" stroke-width="0.9"/>
<rect x="810.03" y="2113.61" width="5.6" height="5.6" fill="none" stroke="#111" stroke-width="0.9"/>
<circle cx="897.01" cy="1976.22" r="2.7" fill="none" stroke="#111" stroke-width="0.9"/>
<circle cx="897.01" cy="2001.7" r="2.7" fill="none" stroke="#111" stroke-width="0.9"/>
<circle cx="887.81" cy="2014.45" r="2.7" fill="none" stroke="#111" stroke-width="0.9"/>
<circle cx="897.01" cy="2014.45" r="2.7" fill="none" stroke="#111" stroke-width="0.9"/>
<circle cx="906.21" cy="2014.45" r="2.7" fill="none" stroke="#111" stroke-width="0.9"/>
<circle cx="897.01" cy="2027.2" r="2.7" fill="none" stroke="#111" stroke-width="0.9"/>
<circle cx="887.81" cy="2039.94" r="2.7" fill="none" stroke="#111" stroke-width="0.9"/>
<circle cx="897.01" cy="2039.94" r="2.7" fill="none" stroke="#111" stroke-width="0.9"/>
<circle cx="906.21" cy="2039.94" r="2.7" fill="none" stroke="#111" stroke-width="0.9"/>
<circle cx="892.33" cy="2052.68" r="2.7" fill="none" stroke="#111" stroke-width="0.9"/>
<circle cx="901.35" cy="2052.68" r="2.7" fill="none" stroke="#111" stroke-width="0.9"/>
<circle cx="883.13" cy="2065.43" r="2.7" fill="none" stroke="#111" stroke-width="0.9"/>
<circle cx="892.33" cy="2065.43" r="2.7" fill="none" stroke="#111" stroke-width="0.9"/>
<circle cx="901.35" cy="2065.43" r="2.7" fill="none" stroke="#111" stroke-width="0.9"/>
<circle cx="910.9" cy="2065.43" r="2.7" fill="none" stroke="#111" stroke-width="0.9"/>
<circle cx="897.01" cy="2078.18" r="2.7" fill="none" stroke="#111" stroke-width="0.9"/>
<circle cx="897.01" cy="2090.92" r="2.7" fill="none" stroke="#111" stroke-width="0.9"/>
<circle cx="897.01" cy="2103.66" r="2.7" fill="none" stroke="#111" stroke-width="0.9"/>
<circle cx="892.33" cy="2116.41" r="2.7" fill="none" stroke="#111" stroke-width="0.9"/>
<circle cx="901.35" cy="2116.41" r="2.7" fill="none" stroke="#111" stroke-width="0.9"/>
<circle cx="897.01" cy="2129.16" r="2.7" fill="none" stroke="#111" stroke-width="0.9"/>
<rect x="944.9" y="1998.9" width="5.6" height="5.6" fill="none" stroke="#111" stroke-width="0.9"/>
<rect x="944.9" y="2011.65" width="5.6" height="5.6" fill="none" stroke="#111" stroke-width="0.9"/>
<rect x="944.9" y="2024.4" width="5.6" height="5.6" fill="none" stroke="#111" stroke-width="0.9"/>
<rect x="944.9" y="2037.14" width="5.6" height="5.6" fill="none" stroke="#111" stroke-width="0.9"/>
<rect x="931.53" y="2049.88" width="5.6" height="5.6" fill="none" stroke="#111" stroke-width="0.9"/>
<rect x="938.13" y="2049.88" width="5.6" height="5.6" fill="none" stroke="#111" stroke-width="0.9"/>
<rect x="944.9" y="2049.88" width="5.6" height="5.6" fill="none" stroke="#111" stroke-width="0.9"/>
<rect x="951.5" y="2049.88" width="5.6" height="5.6" fill="none" stroke="#111" stroke-width="0.9"/>
<rect x="957.57" y="2049.88" width="5.6" height="5.6" fill="none" stroke="#111" stroke-width="0.9"/>
<rect x="935.01" y="2062.63" width="5.6" height="5.6" fill="none" stroke="#111" stroke-width="0.9"/>
<rect x="941.6" y="2062.63" width="5.6" height="5.6" fill="none" stroke="#111" stroke-width="0.9"/>
<rect x="948.2" y="2062.63" width="5.6" height="5.6" fill="none" stroke="#111" stroke-width="0.9"/>
<rect x="954.79" y="2062.63" width="5.6" height="5.6" fill="none" stroke="#111" stroke-width="0.9"/>
<rect x="944.9" y="2075.38" width="5.6" height="5.6" fill="none" stroke="#111" stroke-width="0.9"/>
<rect x="944.9" y="2088.12" width="5.6" height="5.6" fill="none" stroke="#111" stroke-width="0.9"/>
<rect x="938.13" y="2100.86" width="5.6" height="5.6" fill="none" stroke="#111" stroke-width="0.9"/>
<rect x="944.9" y="2100.86" width="5.6" height="5.6" fill="none" stroke="#111" stroke-width="0.9"/>
<rect x="951.5" y="2100.86" width="5.6" height="5.6" fill="none" stroke="#111" stroke-width="0.9"/>
<rect x="938.13" y="2113.61" width="5.6" height="5.6" fill="none" stroke="#111" stroke-width="0.9"/>
<rect x="944.9" y="2113.61" width="5.6" height="5.6" fill="none" stroke="#111" stroke-width="0.9"/>
<rect x="951.5" y="2113.61" width="5.6" height="5.6" fill="none" stroke="#111" stroke-width="0.9"/>
<circle cx="1016.1" cy="1950.72" r="2.7" fill="none" stroke="#111" stroke-width="0.9"/>
<circle cx="1029.99" cy="1950.72" r="2.7" fill="none" stroke="#111" stroke-width="0.9"/>
<circle cx="1043.88" cy="1950.72" r="2.7" fill="none" stroke="#111" stroke-width="0.9"/>
<circle cx="1029.99" cy="1963.47" r="2.7" fill="none" stroke="#111" stroke-width="0.9"/>
<circle cx="1023.05" cy="1988.96" r="2.7" fill="none" stroke="#111" stroke-width="0.9"/>
<circle cx="1036.76" cy="1988.96" r="2.7" fill="none" stroke="#111" stroke-width="0.9"/>
<circle cx="1016.1" cy="2001.7" r="2.7" fill="none" stroke="#111" stroke-width="0.9"/>
<circle cx="1029.99" cy="2001.7" r="2.7" fill="none" stroke="#111" stroke-width="0.9"/>
<circle cx="1043.88" cy="2001.7" r="2.7" fill="none" stroke="#111" stroke-width="0.9"/>
<circle cx="1023.05" cy="2014.45" r="2.7" fill="none" stroke="#111" stroke-width="0.9"/>
<circle cx="1036.76" cy="2014.45" r="2.7" fill="none" stroke="#111" stroke-width="0.9"/>
<circle cx="1023.05" cy="2027.2" r="2.7" fill="none" stroke="#111" stroke-width="0.9"/>
<circle cx="1036.76" cy="2027.2" r="2.7" fill="none" stroke="#111" stroke-width="0.9"/>
<circle cx="1023.05" cy="2039.94" r="2.7" fill="none" stroke="#111" stroke-width="0.9"/>
<circle cx="1036.76" cy="2039.94" r="2.7" fill="none" stroke="#111" stroke-width="0.9"/>
<circle cx="1029.99" cy="2065.43" r="2.7" fill="none" stroke="#111" stroke-width="0.9"/>
<circle cx="1023.05" cy="2078.18" r="2.7" fill="none" stroke="#111" stroke-width="0.9"/>
<circle cx="1036.76" cy="2078.18" r="2.7" fill="none" stroke="#111" stroke-width="0.9"/>
<circle cx="1023.05" cy="2090.92" r="2.7" fill="none" stroke="#111" stroke-width="0.9"/>
<circle cx="1036.76" cy="2090.92" r="2.7" fill="none" stroke="#111" stroke-width="0.9"/>
<circle cx="1029.99" cy="2116.41" r="2.7" fill="none" stroke="#111" stroke-width="0.9"/>
<rect x="1077.88" y="2011.65" width="5.6" height="5.6" fill="none" stroke="#111" stroke-width="0.9"/>
<rect x="1067.46" y="2024.4" width="5.6" height="5.6" fill="none" stroke="#111" stroke-width="0.9"/>
<rect x="1074.41" y="2024.4" width="5.6" height="5.6" fill="none" stroke="#111" stroke-width="0.9"/>
<rect x="1081.35" y="2024.4" width="5.6" height="5.6" fill="none" stroke="#111" stroke-width="0.9"/>
<rect x="1088.29" y="2024.4" width="5.6" height="5.6" fill="none" stroke="#111" stroke-width="0.9"/>
<rect x="1074.41" y="2049.88" width="5.6" height="5.6" fill="none" stroke="#111" stroke-width="0.9"/>
<rect x="1081.35" y="2049.88" width="5.6" height="5.6" fill="none" stroke="#111" stroke-width="0.9"/>
<rect x="1067.46" y="2062.63" width="5.6" height="5.6" fill="none" stroke="#111" stroke-width="0.9"/>
<rect x="1074.41" y="2062.63" width="5.6" height="5.6" fill="none" stroke="#111" stroke-width="0.9"/>
<rect x="1081.35" y="2062.63" width="5.6" height="5.6" fill="none" stroke="#111" stroke-width="0.9"/>
<rect x="1088.29" y="2062.63" width="5.6" height="5.6" fill="none" stroke="#111" stroke-width="0.9"/>
<rect x="1063.99" y="2075.38" width="5.6" height="5.6" fill="none" stroke="#111" stroke-width="0.9"/>
<rect x="1070.93" y="2075.38" width="5.6" height="5.6" fill="none" stroke="#111" stroke-width="0.9"/>
<rect x="1077.88" y="2075.38" width="5.6" height="5.6" fill="none" stroke="#111" stroke-width="0.9"/>
<rect x="1084.82" y="2075.38" width="5.6" height="5.6" fill="none" stroke="#111" stroke-width="0.9"/>
<rect x="1091.76" y="2075.38" width="5.6" height="5.6" fill="none" stroke="#111" stroke-width="0.9"/>
<rect x="1070.93" y="2088.12" width="5.6" height="5.6" fill="none" stroke="#111" stroke-width="0.9"/>
<rect x="1077.88" y="2088.12" width="5.6" height="5.6" fill="none" stroke="#111" stroke-width="0.9"/>
<rect x="1084.82" y="2088.12" width="5.6" height="5.6" fill="none" stroke="#111" stroke-width="0.9"/>
<rect x="1077.88" y="2100.86" width="5.6" height="5.6" fill="none" stroke="#111" stroke-width="0.9"/>
<rect x="1077.88" y="2126.36" width="5.6" height="5.6" fill="none" stroke="#111" stroke-width="0.9"/>
<circle cx="1164" cy="1976.22" r="2.7" fill="none" stroke="#111" stroke-width="0.9"/>
<circle cx="1164" cy="2001.7" r="2.7" fill="none" stroke="#111" stroke-width="0.9"/>
<circle cx="1155.66" cy="2027.2" r="2.7" fill="none" stroke="#111" stroke-width="0.9"/>
<circle cx="1161.39" cy="2027.2" r="2.7" fill="none" stroke="#111" stroke-width="0.9"/>
<circle cx="1166.95" cy="2027.2" r="2.7" fill="none" stroke="#111" stroke-width="0.9"/>
<circle cx="1172.33" cy="2027.2" r="2.7" fill="none" stroke="#111" stroke-width="0.9"/>
<circle cx="1150.11" cy="2039.94" r="2.7" fill="none" stroke="#111" stroke-width="0.9"/>
<circle cx="1155.66" cy="2039.94" r="2.7" fill="none" stroke="#111" stroke-width="0.9"/>
<circle cx="1161.39" cy="2039.94" r="2.7" fill="none" stroke="#111" stroke-width="0.9"/>
<circle cx="1166.95" cy="2039.94" r="2.7" fill="none" stroke="#111" stroke-width="0.9"/>
<circle cx="1172.33" cy="2039.94" r="2.7" fill="none" stroke="#111" stroke-width="0.9"/>
<circle cx="1177.88" cy="2039.94" r="2.7" fill="none" stroke="#111" stroke-width="0.9"/>
<circle cx="1164" cy="2052.68" r="2.7" fill="none" stroke="#111" stroke-width="0.9"/>
<circle cx="1164" cy="2065.43" r="2.7" fill="none" stroke="#111" stroke-width="0.9"/>
<circle cx="1157.92" cy="2078.18" r="2.7" fill="none" stroke="#111" stroke-width="0.9"/>
<circle cx="1164" cy="2078.18" r="2.7" fill="none" stroke="#111" stroke-width="0.9"/>
<circle cx="1169.72" cy="2078.18" r="2.7" fill="none" stroke="#111" stroke-width="0.9"/>
<circle cx="1164" cy="2090.92" r="2.7" fill="none" stroke="#111" stroke-width="0.9"/>
<circle cx="1161.04" cy="2103.66" r="2.7" fill="none" stroke="#111" stroke-width="0.9"/>
<circle cx="1166.95" cy="2103.66" r="2.7" fill="none" stroke="#111" stroke-width="0.9"/>
<circle cx="1164" cy="2141.9" r="2.7" fill="none" stroke="#111" stroke-width="0.9"/>
<rect x="1208.06" y="2011.65" width="5.6" height="5.6" fill="none" stroke="#111" stroke-width="0.9"/>
<rect x="1214.66" y="2011.65" width="5.6" height="5.6" fill="none" stroke="#111" stroke-width="0.9"/>
<rect x="1208.06" y="2037.14" width="5.6" height="5.6" fill="none" stroke="#111" stroke-width="0.9"/>
<rect x="1214.66" y="2037.14" width="5.6" height="5.6" fill="none" stroke="#111" stroke-width="0.9"/>
<rect x="1197.65" y="2062.63" width="5.6" height="5.6" fill="none" stroke="#111" stroke-width="0.9"/>
<rect x="1204.59" y="2062.63" width="5.6" height="5.6" fill="none" stroke="#111" stroke-width="0.9"/>
<rect x="1211.53" y="2062.63" width="5.6" height="5.6" fill="none" stroke="#111" stroke-width="0.9"/>
<rect x="1218.48" y="2062.63" width="5.6" height="5.6" fill="none" stroke="#111" stroke-width="0.9"/>
<rect x="1225.42" y="2062.63" width="5.6" height="5.6" fill="none" stroke="#111" stroke-width="0.9"/>
<rect x="1208.06" y="2075.38" width="5.6" height="5.6" fill="none" stroke="#111" stroke-width="0.9"/>
<rect x="1214.66" y="2075.38" width="5.6" height="5.6" fill="none" stroke="#111" stroke-width="0.9"/>
<rect x="1201.12" y="2088.12" width="5.6" height="5.6" fill="none" stroke="#111" stroke-width="0.9"/>
<rect x="1208.06" y="2088.12" width="5.6" height="5.6" fill="none" stroke="#111" stroke-width="0.9"/>
<rect x="1214.66" y="2088.12" width="5.6" height="5.6" fill="none" stroke="#111" stroke-width="0.9"/>
<rect x="1221.6" y="2088.12" width="5.6" height="5.6" fill="none" stroke="#111" stroke-width="0.9"/>
<rect x="1208.06" y="2100.86" width="5.6" height="5.6" fill="none" stroke="#111" stroke-width="0.9"/>
<rect x="1214.66" y="2100.86" width="5.6" height="5.6" fill="none" stroke="#111" stroke-width="0.9"/>
<rect x="1204.59" y="2113.61" width="5.6" height="5.6" fill="none" stroke="#111" stroke-width="0.9"/>
<rect x="1211.53" y="2113.61" width="5.6" height="5.6" fill="none" stroke="#111" stroke-width="0.9"/>
<rect x="1218.48" y="2113.61" width="5.6" height="5.6" fill="none" stroke="#111" stroke-width="0.9"/>
<rect x="1211.53" y="2139.1" width="5.6" height="5.6" fill="none" stroke="#111" stroke-width="0.9"/>
</g>
<g id="panel_m">
<text transform="translate(1353.06 1802) scale(0.6064 0.5648)" font-size="100" fill="#231f20">m</text>
<line x1="1439.6" y1="1885.75" x2="1439.6" y2="2142.65" stroke="#222" stroke-width="1.5" />
<line x1="1427.8" y1="2095.58" x2="1439.6" y2="2095.58" stroke="#222" stroke-width="1.5" />
<line x1="1427.8" y1="2049.26" x2="1439.6" y2="2049.26" stroke="#222" stroke-width="1.5" />
<line x1="1427.8" y1="2002.94" x2="1439.6" y2="2002.94" stroke="#222" stroke-width="1.5" />
<line x1="1427.8" y1="1956.62" x2="1439.6" y2="1956.62" stroke="#222" stroke-width="1.5" />
<line x1="1427.8" y1="1910.3" x2="1439.6" y2="1910.3" stroke="#222" stroke-width="1.5" />
<line x1="1433.9" y1="2118.74" x2="1439.6" y2="2118.74" stroke="#222" stroke-width="1.5" />
<line x1="1433.9" y1="2072.42" x2="1439.6" y2="2072.42" stroke="#222" stroke-width="1.5" />
<line x1="1433.9" y1="2026.1" x2="1439.6" y2="2026.1" stroke="#222" stroke-width="1.5" />
<line x1="1433.9" y1="1979.78" x2="1439.6" y2="1979.78" stroke="#222" stroke-width="1.5" />
<line x1="1433.9" y1="1933.46" x2="1439.6" y2="1933.46" stroke="#222" stroke-width="1.5" />
<line x1="1432.3" y1="1886.5" x2="1446.9" y2="1886.5" stroke="#222" stroke-width="1.5" />
<text x="1424.1" y="2149.9" font-size="22.5" font-weight="bold" text-anchor="end" fill="#000" >0</text>
<text x="1424.1" y="2103.58" font-size="22.5" font-weight="bold" text-anchor="end" fill="#000" >10</text>
<text x="1424.1" y="2057.26" font-size="22.5" font-weight="bold" text-anchor="end" fill="#000" >20</text>
<text x="1424.1" y="2010.94" font-size="22.5" font-weight="bold" text-anchor="end" fill="#000" >30</text>
<text x="1424.1" y="1964.62" font-size="22.5" font-weight="bold" text-anchor="end" fill="#000" >40</text>
<text x="1424.1" y="1918.3" font-size="22.5" font-weight="bold" text-anchor="end" fill="#000" >50</text>
<line x1="1439.6" y1="1844.85" x2="1439.6" y2="1865.05" stroke="#222" stroke-width="1.5" />
<line x1="1427.8" y1="1845.6" x2="1439.6" y2="1845.6" stroke="#222" stroke-width="1.5" />
<line x1="1433.9" y1="1854.8" x2="1439.6" y2="1854.8" stroke="#222" stroke-width="1.5" />
<line x1="1432.3" y1="1864.3" x2="1446.9" y2="1864.3" stroke="#222" stroke-width="1.5" />
<text x="1424.1" y="1853.6" font-size="22.5" font-weight="bold" text-anchor="end" fill="#000" >70</text>
<text x="1424.1" y="1872.3" font-size="22.5" font-weight="bold" text-anchor="end" fill="#000" >65</text>
<line x1="1427.8" y1="2141.9" x2="1958.7" y2="2141.9" stroke="#222" stroke-width="1.5" />
<line x1="1497.7" y1="2141.9" x2="1497.7" y2="2152.4" stroke="#222" stroke-width="1.5" />
<text x="1497.7" y="2177.5" font-size="22.5" font-weight="bold" text-anchor="middle" fill="#000" >SW (Target)</text>
<line x1="1631.9" y1="2141.9" x2="1631.9" y2="2152.4" stroke="#222" stroke-width="1.5" />
<text x="1631.9" y="2177.5" font-size="22.5" font-weight="bold" text-anchor="middle" fill="#000" >SE</text>
<line x1="1765.3" y1="2141.9" x2="1765.3" y2="2152.4" stroke="#222" stroke-width="1.5" />
<text x="1765.3" y="2177.5" font-size="22.5" font-weight="bold" text-anchor="middle" fill="#000" >NW</text>
<line x1="1899.1" y1="2141.9" x2="1899.1" y2="2152.4" stroke="#222" stroke-width="1.5" />
<text x="1899.1" y="2177.5" font-size="22.5" font-weight="bold" text-anchor="middle" fill="#000" >NE</text>
<text x="1384" y="1994" font-size="23.8" font-weight="bold" text-anchor="middle" fill="#000" transform="rotate(-90 1384 1994)" >Time (seconds)</text>
<line x1="1443.4" y1="2038.3" x2="1958.7" y2="2038.3" stroke="#222" stroke-width="1.3" stroke-dasharray="1.6 3.4"/>
<rect x="1456.5" y="2000.9" width="33.3" height="140.4" fill="#b3f5e0" stroke="#333" stroke-width="0.9"/>
<line x1="1473.15" y1="1988.8" x2="1473.15" y2="2000.9" stroke="#222" stroke-width="1" />
<line x1="1465.15" y1="1988.8" x2="1481.15" y2="1988.8" stroke="#222" stroke-width="1" />
<rect x="1507.3" y="2040.5" width="32.1" height="100.8" fill="#1197b2" stroke="#333" stroke-width="0.9"/>
<line x1="1523.35" y1="2031.3" x2="1523.35" y2="2040.5" stroke="#222" stroke-width="1" />
<line x1="1515.35" y1="2031.3" x2="1531.35" y2="2031.3" stroke="#222" stroke-width="1" />
<rect x="1590.5" y="2054.4" width="33.3" height="86.9" fill="#b3f5e0" stroke="#333" stroke-width="0.9"/>
<line x1="1607.15" y1="2041.4" x2="1607.15" y2="2054.4" stroke="#222" stroke-width="1" />
<line x1="1599.15" y1="2041.4" x2="1615.15" y2="2041.4" stroke="#222" stroke-width="1" />
<rect x="1641" y="2038.8" width="32.4" height="102.5" fill="#1197b2" stroke="#333" stroke-width="0.9"/>
<line x1="1657.2" y1="2027.3" x2="1657.2" y2="2038.8" stroke="#222" stroke-width="1" />
<line x1="1649.2" y1="2027.3" x2="1665.2" y2="2027.3" stroke="#222" stroke-width="1" />
<rect x="1724.3" y="2033.4" width="33.3" height="107.9" fill="#b3f5e0" stroke="#333" stroke-width="0.9"/>
<line x1="1740.95" y1="2021.3" x2="1740.95" y2="2033.4" stroke="#222" stroke-width="1" />
<line x1="1732.95" y1="2021.3" x2="1748.95" y2="2021.3" stroke="#222" stroke-width="1" />
<rect x="1774.6" y="2032.2" width="33.4" height="109.1" fill="#1197b2" stroke="#333" stroke-width="0.9"/>
<line x1="1791.3" y1="2021.3" x2="1791.3" y2="2032.2" stroke="#222" stroke-width="1" />
<line x1="1783.3" y1="2021.3" x2="1799.3" y2="2021.3" stroke="#222" stroke-width="1" />
<rect x="1857.6" y="2073.3" width="33.7" height="68" fill="#b3f5e0" stroke="#333" stroke-width="0.9"/>
<line x1="1874.45" y1="2063.8" x2="1874.45" y2="2073.3" stroke="#222" stroke-width="1" />
<line x1="1866.45" y1="2063.8" x2="1882.45" y2="2063.8" stroke="#222" stroke-width="1" />
<rect x="1908.6" y="2047.3" width="33" height="94" fill="#1197b2" stroke="#333" stroke-width="0.9"/>
<line x1="1925.1" y1="2035.3" x2="1925.1" y2="2047.3" stroke="#222" stroke-width="1" />
<line x1="1917.1" y1="2035.3" x2="1933.1" y2="2035.3" stroke="#222" stroke-width="1" />
<rect x="1827.6" y="1817.3" width="30" height="14.9" fill="#b3f5e0" stroke="#555" stroke-width="1"/>
<rect x="1827.6" y="1857.4" width="30" height="14.6" fill="#1197b2" stroke="#555" stroke-width="1"/>
<text x="1876.5" y="1832.8" font-size="23.5" font-weight="normal" text-anchor="start" fill="#000" >Sham</text>
<text x="1876.5" y="1872.4" font-size="23.5" font-weight="normal" text-anchor="start" fill="#000" >HF-HI</text>
<path d="M1472.3,1844.4 V1833.6 H1527.6 V1844.4" fill="none" stroke="#111" stroke-width="2.9"/>
<text x="1499.8" y="1838.5" font-size="34" font-weight="bold" text-anchor="middle" fill="#000" >*</text>
<circle cx="1473.12" cy="1854.26" r="2.8" fill="none" stroke="#111" stroke-width="0.9"/>
<circle cx="1473.12" cy="1930.29" r="2.8" fill="none" stroke="#111" stroke-width="0.9"/>
<circle cx="1473.12" cy="1949.73" r="2.8" fill="none" stroke="#111" stroke-width="0.9"/>
<circle cx="1473.12" cy="1957.2" r="2.8" fill="none" stroke="#111" stroke-width="0.9"/>
<circle cx="1473.12" cy="1971.95" r="2.8" fill="none" stroke="#111" stroke-width="0.9"/>
<circle cx="1480.23" cy="1979.24" r="2.8" fill="none" stroke="#111" stroke-width="0.9"/>
<circle cx="1473.12" cy="1982.54" r="2.8" fill="none" stroke="#111" stroke-width="0.9"/>
<circle cx="1473.12" cy="1996.6" r="2.8" fill="none" stroke="#111" stroke-width="0.9"/>
<circle cx="1469.47" cy="2004.06" r="2.8" fill="none" stroke="#111" stroke-width="0.9"/>
<circle cx="1476.41" cy="2006.67" r="2.8" fill="none" stroke="#111" stroke-width="0.9"/>
<circle cx="1473.12" cy="2019.51" r="2.8" fill="none" stroke="#111" stroke-width="0.9"/>
<circle cx="1466.17" cy="2026.11" r="2.8" fill="none" stroke="#111" stroke-width="0.9"/>
<circle cx="1473.12" cy="2029.58" r="2.8" fill="none" stroke="#111" stroke-width="0.9"/>
<circle cx="1487.18" cy="2032.7" r="2.8" fill="none" stroke="#111" stroke-width="0.9"/>
<circle cx="1459.58" cy="2036.52" r="2.8" fill="none" stroke="#111" stroke-width="0.9"/>
<circle cx="1466.17" cy="2035.66" r="2.8" fill="none" stroke="#111" stroke-width="0.9"/>
<circle cx="1480.23" cy="2035.13" r="2.8" fill="none" stroke="#111" stroke-width="0.9"/>
<circle cx="1473.12" cy="2038.78" r="2.8" fill="none" stroke="#111" stroke-width="0.9"/>
<circle cx="1473.12" cy="2050.58" r="2.8" fill="none" stroke="#111" stroke-width="0.9"/>
<circle cx="1480.23" cy="2051.8" r="2.8" fill="none" stroke="#111" stroke-width="0.9"/>
<circle cx="1466.17" cy="2057.18" r="2.8" fill="none" stroke="#111" stroke-width="0.9"/>
<circle cx="1611.81" cy="1937.93" r="2.8" fill="none" stroke="#111" stroke-width="0.9"/>
<circle cx="1602.26" cy="1942.79" r="2.8" fill="none" stroke="#111" stroke-width="0.9"/>
<circle cx="1602.26" cy="1970.04" r="2.8" fill="none" stroke="#111" stroke-width="0.9"/>
<circle cx="1611.81" cy="1969" r="2.8" fill="none" stroke="#111" stroke-width="0.9"/>
<circle cx="1606.95" cy="2000.94" r="2.8" fill="none" stroke="#111" stroke-width="0.9"/>
<circle cx="1606.95" cy="2008.92" r="2.8" fill="none" stroke="#111" stroke-width="0.9"/>
<circle cx="1606.95" cy="2032.88" r="2.8" fill="none" stroke="#111" stroke-width="0.9"/>
<circle cx="1606.95" cy="2053.88" r="2.8" fill="none" stroke="#111" stroke-width="0.9"/>
<circle cx="1602.26" cy="2067.77" r="2.8" fill="none" stroke="#111" stroke-width="0.9"/>
<circle cx="1611.81" cy="2066.9" r="2.8" fill="none" stroke="#111" stroke-width="0.9"/>
<circle cx="1602.26" cy="2078.7" r="2.8" fill="none" stroke="#111" stroke-width="0.9"/>
<circle cx="1611.81" cy="2079.4" r="2.8" fill="none" stroke="#111" stroke-width="0.9"/>
<circle cx="1602.26" cy="2092.59" r="2.8" fill="none" stroke="#111" stroke-width="0.9"/>
<circle cx="1611.81" cy="2093.98" r="2.8" fill="none" stroke="#111" stroke-width="0.9"/>
<circle cx="1621.35" cy="2093.63" r="2.8" fill="none" stroke="#111" stroke-width="0.9"/>
<circle cx="1593.23" cy="2096.06" r="2.8" fill="none" stroke="#111" stroke-width="0.9"/>
<circle cx="1602.26" cy="2098.49" r="2.8" fill="none" stroke="#111" stroke-width="0.9"/>
<circle cx="1602.26" cy="2104.57" r="2.8" fill="none" stroke="#111" stroke-width="0.9"/>
<circle cx="1621.35" cy="2104.22" r="2.8" fill="none" stroke="#111" stroke-width="0.9"/>
<circle cx="1611.81" cy="2108.56" r="2.8" fill="none" stroke="#111" stroke-width="0.9"/>
<circle cx="1606.95" cy="2123.83" r="2.8" fill="none" stroke="#111" stroke-width="0.9"/>
<rect x="1519.86" y="1963.5" width="5.8" height="5.8" fill="none" stroke="#111" stroke-width="0.9"/>
<rect x="1519.86" y="1979.81" width="5.8" height="5.8" fill="none" stroke="#111" stroke-width="0.9"/>
<rect x="1519.86" y="2002.73" width="5.8" height="5.8" fill="none" stroke="#111" stroke-width="0.9"/>
<rect x="1533.92" y="2004.64" width="5.8" height="5.8" fill="none" stroke="#111" stroke-width="0.9"/>
<rect x="1506.84" y="2008.45" width="5.8" height="5.8" fill="none" stroke="#111" stroke-width="0.9"/>
<rect x="1519.86" y="2011.58" width="5.8" height="5.8" fill="none" stroke="#111" stroke-width="0.9"/>
<rect x="1533.92" y="2011.58" width="5.8" height="5.8" fill="none" stroke="#111" stroke-width="0.9"/>
<rect x="1506.84" y="2014.7" width="5.8" height="5.8" fill="none" stroke="#111" stroke-width="0.9"/>
<rect x="1519.86" y="2021.47" width="5.8" height="5.8" fill="none" stroke="#111" stroke-width="0.9"/>
<rect x="1519.86" y="2027.55" width="5.8" height="5.8" fill="none" stroke="#111" stroke-width="0.9"/>
<rect x="1519.86" y="2032.76" width="5.8" height="5.8" fill="none" stroke="#111" stroke-width="0.9"/>
<rect x="1506.84" y="2039.18" width="5.8" height="5.8" fill="none" stroke="#111" stroke-width="0.9"/>
<rect x="1519.86" y="2044.39" width="5.8" height="5.8" fill="none" stroke="#111" stroke-width="0.9"/>
<rect x="1513.09" y="2051.85" width="5.8" height="5.8" fill="none" stroke="#111" stroke-width="0.9"/>
<rect x="1526.63" y="2051.5" width="5.8" height="5.8" fill="none" stroke="#111" stroke-width="0.9"/>
<rect x="1533.4" y="2059.66" width="5.8" height="5.8" fill="none" stroke="#111" stroke-width="0.9"/>
<rect x="1519.86" y="2063.31" width="5.8" height="5.8" fill="none" stroke="#111" stroke-width="0.9"/>
<rect x="1519.86" y="2071.46" width="5.8" height="5.8" fill="none" stroke="#111" stroke-width="0.9"/>
<rect x="1519.86" y="2097.15" width="5.8" height="5.8" fill="none" stroke="#111" stroke-width="0.9"/>
<rect x="1513.09" y="2109.65" width="5.8" height="5.8" fill="none" stroke="#111" stroke-width="0.9"/>
<rect x="1526.63" y="2108.26" width="5.8" height="5.8" fill="none" stroke="#111" stroke-width="0.9"/>
<rect x="1654.73" y="1936.42" width="5.8" height="5.8" fill="none" stroke="#111" stroke-width="0.9"/>
<rect x="1654.73" y="1965.41" width="5.8" height="5.8" fill="none" stroke="#111" stroke-width="0.9"/>
<rect x="1654.73" y="1973.56" width="5.8" height="5.8" fill="none" stroke="#111" stroke-width="0.9"/>
<rect x="1654.73" y="1986.58" width="5.8" height="5.8" fill="none" stroke="#111" stroke-width="0.9"/>
<rect x="1654.73" y="1996.65" width="5.8" height="5.8" fill="none" stroke="#111" stroke-width="0.9"/>
<rect x="1640.85" y="2011.4" width="5.8" height="5.8" fill="none" stroke="#111" stroke-width="0.9"/>
<rect x="1667.58" y="2013.66" width="5.8" height="5.8" fill="none" stroke="#111" stroke-width="0.9"/>
<rect x="1654.73" y="2014.88" width="5.8" height="5.8" fill="none" stroke="#111" stroke-width="0.9"/>
<rect x="1654.73" y="2024.08" width="5.8" height="5.8" fill="none" stroke="#111" stroke-width="0.9"/>
<rect x="1667.58" y="2024.42" width="5.8" height="5.8" fill="none" stroke="#111" stroke-width="0.9"/>
<rect x="1640.85" y="2029.63" width="5.8" height="5.8" fill="none" stroke="#111" stroke-width="0.9"/>
<rect x="1667.58" y="2034.14" width="5.8" height="5.8" fill="none" stroke="#111" stroke-width="0.9"/>
<rect x="1654.73" y="2040.05" width="5.8" height="5.8" fill="none" stroke="#111" stroke-width="0.9"/>
<rect x="1647.44" y="2061.57" width="5.8" height="5.8" fill="none" stroke="#111" stroke-width="0.9"/>
<rect x="1660.98" y="2060.53" width="5.8" height="5.8" fill="none" stroke="#111" stroke-width="0.9"/>
<rect x="1654.73" y="2068.69" width="5.8" height="5.8" fill="none" stroke="#111" stroke-width="0.9"/>
<rect x="1654.73" y="2076.5" width="5.8" height="5.8" fill="none" stroke="#111" stroke-width="0.9"/>
<rect x="1647.44" y="2095.59" width="5.8" height="5.8" fill="none" stroke="#111" stroke-width="0.9"/>
<rect x="1660.98" y="2094.55" width="5.8" height="5.8" fill="none" stroke="#111" stroke-width="0.9"/>
<rect x="1654.73" y="2110.17" width="5.8" height="5.8" fill="none" stroke="#111" stroke-width="0.9"/>
<rect x="1654.73" y="2119.2" width="5.8" height="5.8" fill="none" stroke="#111" stroke-width="0.9"/>
<circle cx="1740.62" cy="1938.1" r="2.8" fill="none" stroke="#111" stroke-width="0.9"/>
<circle cx="1740.62" cy="1945.05" r="2.8" fill="none" stroke="#111" stroke-width="0.9"/>
<circle cx="1726.91" cy="1963.27" r="2.8" fill="none" stroke="#111" stroke-width="0.9"/>
<circle cx="1740.62" cy="1968.48" r="2.8" fill="none" stroke="#111" stroke-width="0.9"/>
<circle cx="1740.62" cy="1997.99" r="2.8" fill="none" stroke="#111" stroke-width="0.9"/>
<circle cx="1726.56" cy="2005.28" r="2.8" fill="none" stroke="#111" stroke-width="0.9"/>
<circle cx="1754.68" cy="2006.49" r="2.8" fill="none" stroke="#111" stroke-width="0.9"/>
<circle cx="1740.62" cy="2009.62" r="2.8" fill="none" stroke="#111" stroke-width="0.9"/>
<circle cx="1740.62" cy="2017.43" r="2.8" fill="none" stroke="#111" stroke-width="0.9"/>
<circle cx="1740.62" cy="2028.71" r="2.8" fill="none" stroke="#111" stroke-width="0.9"/>
<circle cx="1726.91" cy="2040.86" r="2.8" fill="none" stroke="#111" stroke-width="0.9"/>
<circle cx="1740.62" cy="2040.52" r="2.8" fill="none" stroke="#111" stroke-width="0.9"/>
<circle cx="1754.68" cy="2046.07" r="2.8" fill="none" stroke="#111" stroke-width="0.9"/>
<circle cx="1740.62" cy="2049.19" r="2.8" fill="none" stroke="#111" stroke-width="0.9"/>
<circle cx="1754.68" cy="2057.35" r="2.8" fill="none" stroke="#111" stroke-width="0.9"/>
<circle cx="1740.62" cy="2059.96" r="2.8" fill="none" stroke="#111" stroke-width="0.9"/>
<circle cx="1740.62" cy="2079.05" r="2.8" fill="none" stroke="#111" stroke-width="0.9"/>
<circle cx="1740.62" cy="2092.94" r="2.8" fill="none" stroke="#111" stroke-width="0.9"/>
<circle cx="1733.5" cy="2108.21" r="2.8" fill="none" stroke="#111" stroke-width="0.9"/>
<circle cx="1747.39" cy="2108.21" r="2.8" fill="none" stroke="#111" stroke-width="0.9"/>
<circle cx="1740.62" cy="2124.36" r="2.8" fill="none" stroke="#111" stroke-width="0.9"/>
<circle cx="1874.45" cy="1958.06" r="2.8" fill="none" stroke="#111" stroke-width="0.9"/>
<circle cx="1874.45" cy="1991.74" r="2.8" fill="none" stroke="#111" stroke-width="0.9"/>
<circle cx="1874.45" cy="2041.73" r="2.8" fill="none" stroke="#111" stroke-width="0.9"/>
<circle cx="1867.51" cy="2059.96" r="2.8" fill="none" stroke="#111" stroke-width="0.9"/>
<circle cx="1874.45" cy="2058.92" r="2.8" fill="none" stroke="#111" stroke-width="0.9"/>
<circle cx="1881.04" cy="2060.82" r="2.8" fill="none" stroke="#111" stroke-width="0.9"/>
<circle cx="1874.45" cy="2065.51" r="2.8" fill="none" stroke="#111" stroke-width="0.9"/>
<circle cx="1888.34" cy="2068.29" r="2.8" fill="none" stroke="#111" stroke-width="0.9"/>
<circle cx="1860.56" cy="2070.02" r="2.8" fill="none" stroke="#111" stroke-width="0.9"/>
<circle cx="1874.45" cy="2070.37" r="2.8" fill="none" stroke="#111" stroke-width="0.9"/>
<circle cx="1881.04" cy="2070.89" r="2.8" fill="none" stroke="#111" stroke-width="0.9"/>
<circle cx="1867.51" cy="2073.84" r="2.8" fill="none" stroke="#111" stroke-width="0.9"/>
<circle cx="1877.57" cy="2080.79" r="2.8" fill="none" stroke="#111" stroke-width="0.9"/>
<circle cx="1870.98" cy="2082.52" r="2.8" fill="none" stroke="#111" stroke-width="0.9"/>
<circle cx="1870.98" cy="2089.12" r="2.8" fill="none" stroke="#111" stroke-width="0.9"/>
<circle cx="1877.57" cy="2090.85" r="2.8" fill="none" stroke="#111" stroke-width="0.9"/>
<circle cx="1870.98" cy="2103.7" r="2.8" fill="none" stroke="#111" stroke-width="0.9"/>
<circle cx="1877.57" cy="2104.57" r="2.8" fill="none" stroke="#111" stroke-width="0.9"/>
<circle cx="1881.04" cy="2124.18" r="2.8" fill="none" stroke="#111" stroke-width="0.9"/>
<circle cx="1874.45" cy="2128" r="2.8" fill="none" stroke="#111" stroke-width="0.9"/>
<circle cx="1874.45" cy="2142.23" r="2.8" fill="none" stroke="#111" stroke-width="0.9"/>
<rect x="1788.23" y="1896.84" width="5.8" height="5.8" fill="none" stroke="#111" stroke-width="0.9"/>
<rect x="1788.23" y="1951.52" width="5.8" height="5.8" fill="none" stroke="#111" stroke-width="0.9"/>
<rect x="1788.23" y="1968.53" width="5.8" height="5.8" fill="none" stroke="#111" stroke-width="0.9"/>
<rect x="1792.92" y="1985.02" width="5.8" height="5.8" fill="none" stroke="#111" stroke-width="0.9"/>
<rect x="1783.37" y="1988.49" width="5.8" height="5.8" fill="none" stroke="#111" stroke-width="0.9"/>
<rect x="1788.23" y="1996.65" width="5.8" height="5.8" fill="none" stroke="#111" stroke-width="0.9"/>
<rect x="1788.23" y="2021.99" width="5.8" height="5.8" fill="none" stroke="#111" stroke-width="0.9"/>
<rect x="1792.74" y="2030.5" width="5.8" height="5.8" fill="none" stroke="#111" stroke-width="0.9"/>
<rect x="1783.37" y="2033.62" width="5.8" height="5.8" fill="none" stroke="#111" stroke-width="0.9"/>
<rect x="1774.69" y="2035.71" width="5.8" height="5.8" fill="none" stroke="#111" stroke-width="0.9"/>
<rect x="1801.77" y="2035.36" width="5.8" height="5.8" fill="none" stroke="#111" stroke-width="0.9"/>
<rect x="1783.37" y="2045.43" width="5.8" height="5.8" fill="none" stroke="#111" stroke-width="0.9"/>
<rect x="1774.69" y="2048.38" width="5.8" height="5.8" fill="none" stroke="#111" stroke-width="0.9"/>
<rect x="1792.74" y="2049.59" width="5.8" height="5.8" fill="none" stroke="#111" stroke-width="0.9"/>
<rect x="1788.23" y="2057.06" width="5.8" height="5.8" fill="none" stroke="#111" stroke-width="0.9"/>
<rect x="1792.74" y="2063.65" width="5.8" height="5.8" fill="none" stroke="#111" stroke-width="0.9"/>
<rect x="1783.37" y="2068.86" width="5.8" height="5.8" fill="none" stroke="#111" stroke-width="0.9"/>
<rect x="1792.74" y="2074.41" width="5.8" height="5.8" fill="none" stroke="#111" stroke-width="0.9"/>
<rect x="1783.37" y="2079.62" width="5.8" height="5.8" fill="none" stroke="#111" stroke-width="0.9"/>
<rect x="1792.74" y="2080.84" width="5.8" height="5.8" fill="none" stroke="#111" stroke-width="0.9"/>
<rect x="1788.23" y="2095.77" width="5.8" height="5.8" fill="none" stroke="#111" stroke-width="0.9"/>
<rect x="1921.71" y="1927.04" width="5.8" height="5.8" fill="none" stroke="#111" stroke-width="0.9"/>
<rect x="1921.71" y="1948.22" width="5.8" height="5.8" fill="none" stroke="#111" stroke-width="0.9"/>
<rect x="1915.81" y="1984.15" width="5.8" height="5.8" fill="none" stroke="#111" stroke-width="0.9"/>
<rect x="1927.96" y="1983.63" width="5.8" height="5.8" fill="none" stroke="#111" stroke-width="0.9"/>
<rect x="1921.71" y="2002.73" width="5.8" height="5.8" fill="none" stroke="#111" stroke-width="0.9"/>
<rect x="1921.71" y="2014.53" width="5.8" height="5.8" fill="none" stroke="#111" stroke-width="0.9"/>
<rect x="1921.71" y="2022.86" width="5.8" height="5.8" fill="none" stroke="#111" stroke-width="0.9"/>
<rect x="1921.71" y="2029.63" width="5.8" height="5.8" fill="none" stroke="#111" stroke-width="0.9"/>
<rect x="1915.81" y="2048.03" width="5.8" height="5.8" fill="none" stroke="#111" stroke-width="0.9"/>
<rect x="1927.96" y="2048.38" width="5.8" height="5.8" fill="none" stroke="#111" stroke-width="0.9"/>
<rect x="1915.81" y="2058.79" width="5.8" height="5.8" fill="none" stroke="#111" stroke-width="0.9"/>
<rect x="1927.96" y="2057.92" width="5.8" height="5.8" fill="none" stroke="#111" stroke-width="0.9"/>
<rect x="1915.81" y="2068.69" width="5.8" height="5.8" fill="none" stroke="#111" stroke-width="0.9"/>
<rect x="1927.96" y="2067.47" width="5.8" height="5.8" fill="none" stroke="#111" stroke-width="0.9"/>
<rect x="1915.81" y="2075.8" width="5.8" height="5.8" fill="none" stroke="#111" stroke-width="0.9"/>
<rect x="1927.96" y="2076.67" width="5.8" height="5.8" fill="none" stroke="#111" stroke-width="0.9"/>
<rect x="1915.81" y="2084.31" width="5.8" height="5.8" fill="none" stroke="#111" stroke-width="0.9"/>
<rect x="1927.96" y="2089.17" width="5.8" height="5.8" fill="none" stroke="#111" stroke-width="0.9"/>
<rect x="1915.81" y="2096.11" width="5.8" height="5.8" fill="none" stroke="#111" stroke-width="0.9"/>
<rect x="1927.96" y="2096.63" width="5.8" height="5.8" fill="none" stroke="#111" stroke-width="0.9"/>
<rect x="1921.71" y="2139.68" width="5.8" height="5.8" fill="none" stroke="#111" stroke-width="0.9"/>
</g>
</svg>
</body></html>
